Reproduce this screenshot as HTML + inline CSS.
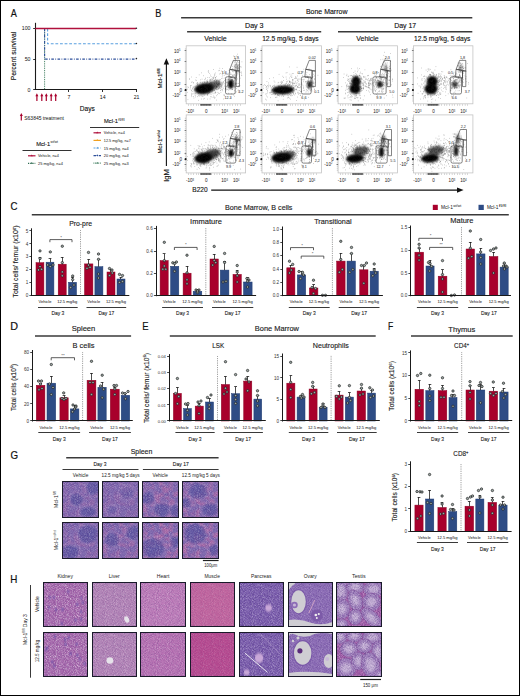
<!DOCTYPE html>
<html><head><meta charset="utf-8"><style>
html,body{margin:0;padding:0;background:#fff;}
svg text{font-family:"Liberation Sans",sans-serif;}
</style></head><body>
<svg width="520" height="696" viewBox="0 0 520 696" style="display:block">
<rect x="0" y="0" width="520" height="696" fill="#fff"/>
<text x="10.8" y="16.5" font-size="11.3" fill="#111" stroke="#111" stroke-width="0.20" textLength="6.1" lengthAdjust="spacingAndGlyphs" >A</text>
<text x="155.2" y="16.8" font-size="11.3" fill="#111" stroke="#111" stroke-width="0.20" textLength="6.1" lengthAdjust="spacingAndGlyphs" >B</text>
<text x="10.5" y="209.7" font-size="11.3" fill="#111" stroke="#111" stroke-width="0.20" textLength="7.0" lengthAdjust="spacingAndGlyphs" >C</text>
<text x="10.2" y="330.1" font-size="11.3" fill="#111" stroke="#111" stroke-width="0.20" textLength="7.8" lengthAdjust="spacingAndGlyphs" >D</text>
<text x="142.3" y="330.3" font-size="11.3" fill="#111" stroke="#111" stroke-width="0.20" textLength="6.3" lengthAdjust="spacingAndGlyphs" >E</text>
<text x="388.0" y="329.9" font-size="11.3" fill="#111" stroke="#111" stroke-width="0.20" textLength="5.2" lengthAdjust="spacingAndGlyphs" >F</text>
<text x="10.6" y="458.8" font-size="11.3" fill="#111" stroke="#111" stroke-width="0.20" textLength="7.6" lengthAdjust="spacingAndGlyphs" >G</text>
<text x="10.2" y="582.9" font-size="11.3" fill="#111" stroke="#111" stroke-width="0.20" textLength="7.1" lengthAdjust="spacingAndGlyphs" >H</text>
<line x1="35.5" y1="22.8" x2="35.5" y2="89.7" stroke="#1a1a1a" stroke-width="1.1" />
<line x1="34.8" y1="89.5" x2="137.0" y2="89.5" stroke="#1a1a1a" stroke-width="1.1" />
<line x1="33.2" y1="28.5" x2="35.3" y2="28.5" stroke="#1a1a1a" stroke-width="0.9" />
<text x="30.5" y="30.4" font-size="5.2" fill="#111" text-anchor="end" >100</text>
<line x1="33.2" y1="59.5" x2="35.3" y2="59.5" stroke="#1a1a1a" stroke-width="0.9" />
<text x="30.5" y="60.9" font-size="5.2" fill="#111" text-anchor="end" >50</text>
<line x1="33.2" y1="89.5" x2="35.3" y2="89.5" stroke="#1a1a1a" stroke-width="0.9" />
<text x="30.5" y="91.5" font-size="5.2" fill="#111" text-anchor="end" >0</text>
<line x1="68.5" y1="89.7" x2="68.5" y2="92.0" stroke="#1a1a1a" stroke-width="0.9" />
<text x="68.9" y="99.3" font-size="5.2" fill="#111" text-anchor="middle" >7</text>
<line x1="102.5" y1="89.7" x2="102.5" y2="92.0" stroke="#1a1a1a" stroke-width="0.9" />
<text x="102.7" y="99.3" font-size="5.2" fill="#111" text-anchor="middle" >14</text>
<line x1="136.5" y1="89.7" x2="136.5" y2="92.0" stroke="#1a1a1a" stroke-width="0.9" />
<text x="136.6" y="99.3" font-size="5.2" fill="#111" text-anchor="middle" >21</text>
<text x="87.3" y="110.8" font-size="7.4" fill="#111" stroke="#111" stroke-width="0.13" text-anchor="middle" textLength="15" lengthAdjust="spacingAndGlyphs" >Days</text>
<text x="16.3" y="56.0" font-size="7.3" fill="#111" stroke="#111" stroke-width="0.13" text-anchor="middle" textLength="48.5" lengthAdjust="spacingAndGlyphs" transform="rotate(-90 16.3 56.0)" >Percent survival</text>
<path d="M44.6 28.6V89.7" stroke="#3a7a5a" stroke-width="1" stroke-dasharray="0.9 0.9" fill="none"/>
<path d="M44.6 28.6V59.1H136" stroke="#2d4f9a" stroke-width="1.1" stroke-dasharray="2.6 1.4 0.8 1.4" fill="none"/>
<path d="M47.6 28.6V43.8H136" stroke="#5aa0e0" stroke-width="1.1" stroke-dasharray="2.8 1.8" fill="none"/>
<line x1="35.3" y1="28.5" x2="136.0" y2="28.5" stroke="#b0103c" stroke-width="1.4" />
<circle cx="136.4" cy="28.2" r="0.8" fill="#222"/>
<circle cx="136.4" cy="43.5" r="0.8" fill="#222"/>
<circle cx="136.4" cy="58.6" r="0.8" fill="#222"/>
<path d="M36.9 95.8V100.9" stroke="#a8002c" stroke-width="1.2"/>
<path d="M35.4 96.2L36.9 93.2L38.4 96.2Z" fill="#a8002c"/>
<path d="M41.8 95.8V100.9" stroke="#a8002c" stroke-width="1.2"/>
<path d="M40.3 96.2L41.8 93.2L43.3 96.2Z" fill="#a8002c"/>
<path d="M46.3 95.8V100.9" stroke="#a8002c" stroke-width="1.2"/>
<path d="M44.8 96.2L46.3 93.2L47.8 96.2Z" fill="#a8002c"/>
<path d="M51.2 95.8V100.9" stroke="#a8002c" stroke-width="1.2"/>
<path d="M49.7 96.2L51.2 93.2L52.7 96.2Z" fill="#a8002c"/>
<path d="M55.7 95.8V100.9" stroke="#a8002c" stroke-width="1.2"/>
<path d="M54.2 96.2L55.7 93.2L57.2 96.2Z" fill="#a8002c"/>
<path d="M21.3 115.6V120.5" stroke="#a8002c" stroke-width="1.2"/>
<path d="M19.8 116.0L21.3 113.0L22.8 116.0Z" fill="#a8002c"/>
<text x="24.3" y="120.2" font-size="5.0" fill="#111" textLength="39.5" lengthAdjust="spacingAndGlyphs" >S63845 treatment</text>
<text x="36.2" y="146.0" font-size="5.6" fill="#111" stroke="#111" stroke-width="0.10" textLength="14.0" lengthAdjust="spacingAndGlyphs" >Mcl-1</text>
<text x="50.5" y="143.4" font-size="3.2" fill="#111" textLength="7.5" lengthAdjust="spacingAndGlyphs" >wt/wt</text>
<line x1="22.5" y1="150.5" x2="71.5" y2="150.5" stroke="#333" stroke-width="1.1" />
<path d="M28 155.8H35.5" stroke="#b0103c" stroke-width="1.2"/>
<path d="M30.65 156.20000000000002L31.75 154.5L32.85 156.20000000000002Z" fill="#b0103c"/>
<text x="38.0" y="157.4" font-size="4.2" fill="#111" textLength="21" lengthAdjust="spacingAndGlyphs" >Vehicle, n=4</text>
<path d="M28 163.3H35.5" stroke="#2e6b50" stroke-width="1.2" stroke-dasharray="1 0.8"/>
<path d="M30.65 163.70000000000002L31.75 162.0L32.85 163.70000000000002Z" fill="#2e6b50"/>
<text x="38.0" y="164.9" font-size="4.2" fill="#111" textLength="25" lengthAdjust="spacingAndGlyphs" >25 mg/kg, n=4</text>
<text x="104.0" y="123.2" font-size="5.6" fill="#111" stroke="#111" stroke-width="0.10" textLength="14" lengthAdjust="spacingAndGlyphs" >Mcl-1</text>
<text x="118.3" y="120.6" font-size="3.2" fill="#111" textLength="6.2" lengthAdjust="spacingAndGlyphs" >fl/fl</text>
<line x1="90.0" y1="127.5" x2="139.2" y2="127.5" stroke="#333" stroke-width="1.1" />
<path d="M93.5 132.8H101.0" stroke="#b0103c" stroke-width="1.2"/>
<path d="M96.15 133.20000000000002L97.25 131.5L98.35 133.20000000000002Z" fill="#b0103c"/>
<text x="103.8" y="134.4" font-size="4.2" fill="#111" textLength="21" lengthAdjust="spacingAndGlyphs" >Vehicle, n=4</text>
<path d="M93.5 140.4H101.0" stroke="#f0a020" stroke-width="1.2"/>
<path d="M96.15 140.8L97.25 139.1L98.35 140.8Z" fill="#f0a020"/>
<text x="103.8" y="142.0" font-size="4.2" fill="#111" textLength="27" lengthAdjust="spacingAndGlyphs" >12.5 mg/kg, n=7</text>
<path d="M93.5 148.0H101.0" stroke="#5aa0e0" stroke-width="1.2" stroke-dasharray="2 1.5"/>
<path d="M96.15 148.4L97.25 146.7L98.35 148.4Z" fill="#5aa0e0"/>
<text x="103.8" y="149.6" font-size="4.2" fill="#111" textLength="25" lengthAdjust="spacingAndGlyphs" >15 mg/kg, n=4</text>
<path d="M93.5 155.60000000000002H101.0" stroke="#2d4f9a" stroke-width="1.2" stroke-dasharray="2.5 1 0.8 1"/>
<path d="M96.15 156.00000000000003L97.25 154.3L98.35 156.00000000000003Z" fill="#2d4f9a"/>
<text x="103.8" y="157.2" font-size="4.2" fill="#111" textLength="25" lengthAdjust="spacingAndGlyphs" >20 mg/kg, n=4</text>
<path d="M93.5 163.20000000000002H101.0" stroke="#3a7a5a" stroke-width="1.2" stroke-dasharray="0.8 0.8"/>
<path d="M96.15 163.60000000000002L97.25 161.9L98.35 163.60000000000002Z" fill="#3a7a5a"/>
<text x="103.8" y="164.8" font-size="4.2" fill="#111" textLength="25" lengthAdjust="spacingAndGlyphs" >25 mg/kg, n=3</text>
<text x="326.7" y="13.6" font-size="7.5" fill="#111" stroke="#111" stroke-width="0.13" text-anchor="middle" textLength="41.5" lengthAdjust="spacingAndGlyphs" >Bone Marrow</text>
<line x1="181.1" y1="17.8" x2="472.3" y2="17.8" stroke="#3a3a3a" stroke-width="1.6" />
<text x="254.3" y="27.6" font-size="7.5" fill="#111" stroke="#111" stroke-width="0.13" text-anchor="middle" textLength="18.5" lengthAdjust="spacingAndGlyphs" >Day 3</text>
<text x="405.2" y="27.6" font-size="7.5" fill="#111" stroke="#111" stroke-width="0.13" text-anchor="middle" textLength="22" lengthAdjust="spacingAndGlyphs" >Day 17</text>
<line x1="187.1" y1="31.7" x2="321.2" y2="31.7" stroke="#3a3a3a" stroke-width="1.6" />
<line x1="338.0" y1="31.7" x2="472.3" y2="31.7" stroke="#3a3a3a" stroke-width="1.6" />
<text x="215.4" y="41.4" font-size="7.2" fill="#111" stroke="#111" stroke-width="0.13" text-anchor="middle" textLength="22.5" lengthAdjust="spacingAndGlyphs" >Vehicle</text>
<text x="290.4" y="41.4" font-size="7.2" fill="#111" stroke="#111" stroke-width="0.13" text-anchor="middle" textLength="56.5" lengthAdjust="spacingAndGlyphs" >12.5 mg/kg, 5 days</text>
<text x="367.5" y="41.4" font-size="7.2" fill="#111" stroke="#111" stroke-width="0.13" text-anchor="middle" textLength="22.5" lengthAdjust="spacingAndGlyphs" >Vehicle</text>
<text x="442.2" y="41.4" font-size="7.2" fill="#111" stroke="#111" stroke-width="0.13" text-anchor="middle" textLength="56.5" lengthAdjust="spacingAndGlyphs" >12.5 mg/kg, 5 days</text>
<defs><filter id="bl" color-interpolation-filters="sRGB" x="-50%" y="-50%" width="200%" height="200%"><feGaussianBlur stdDeviation="1.2"/></filter><filter id="bl2" color-interpolation-filters="sRGB" x="-50%" y="-50%" width="200%" height="200%"><feGaussianBlur stdDeviation="0.6"/></filter></defs>
<rect x="186.2" y="45.8" width="59.4" height="58.0" fill="none" stroke="#c4c4c4" stroke-width="0.8"/>
<text x="180.5" y="52.5" font-size="4.6" fill="#222" text-anchor="end" >10<tspan font-size="2.6" dy="-1.6">5</tspan></text>
<line x1="184.6" y1="50.5" x2="186.2" y2="50.5" stroke="#333" stroke-width="0.6" />
<text x="180.5" y="63.0" font-size="4.6" fill="#222" text-anchor="end" >10<tspan font-size="2.6" dy="-1.6">4</tspan></text>
<line x1="184.6" y1="61.5" x2="186.2" y2="61.5" stroke="#333" stroke-width="0.6" />
<text x="180.5" y="74.3" font-size="4.6" fill="#222" text-anchor="end" >10<tspan font-size="2.6" dy="-1.6">3</tspan></text>
<line x1="184.6" y1="72.5" x2="186.2" y2="72.5" stroke="#333" stroke-width="0.6" />
<text x="180.5" y="86.1" font-size="4.6" fill="#222" text-anchor="end" >10<tspan font-size="2.6" dy="-1.6">2</tspan></text>
<line x1="184.6" y1="84.5" x2="186.2" y2="84.5" stroke="#333" stroke-width="0.6" />
<text x="182.0" y="91.5" font-size="4.6" fill="#222" text-anchor="end" >0</text>
<line x1="184.6" y1="90.5" x2="186.2" y2="90.5" stroke="#333" stroke-width="0.6" />
<text x="180.5" y="96.9" font-size="4.6" fill="#222" text-anchor="end" >-10<tspan font-size="2.6" dy="-1.6">2</tspan></text>
<line x1="184.6" y1="95.5" x2="186.2" y2="95.5" stroke="#333" stroke-width="0.6" />
<rect x="184.8" y="89.0" width="1.6" height="2.0" fill="#111" />
<path d="M185.4 48.8V101.8" stroke="#555" stroke-width="0.8" stroke-dasharray="0.4 1.6"/>
<path d="M188.2 105.0H242.2" stroke="#555" stroke-width="1" stroke-dasharray="0.4 2.2"/>
<rect x="200.2" y="104.3" width="11.0" height="1.2" fill="#222" />
<text x="190.0" y="113.1" font-size="4.6" fill="#222" text-anchor="middle" >-10<tspan font-size="2.6" dy="-1.6">3</tspan></text>
<text x="206.2" y="113.1" font-size="4.6" fill="#222" text-anchor="middle" >0</text>
<text x="224.6" y="113.1" font-size="4.6" fill="#222" text-anchor="middle" >10<tspan font-size="2.6" dy="-1.6">3</tspan></text>
<text x="236.2" y="113.1" font-size="4.6" fill="#222" text-anchor="middle" >10<tspan font-size="2.6" dy="-1.6">4</tspan></text>
<ellipse cx="204.0" cy="88.6" rx="9.5" ry="5.4" transform="rotate(-8 204.0 88.6)" fill="#000" filter="url(#bl)" opacity="1"/>
<ellipse cx="213.5" cy="85.3" rx="8.0" ry="4.3" transform="rotate(-15 213.5 85.3)" fill="#000" filter="url(#bl)" opacity="0.6"/>
<ellipse cx="230.8" cy="84.0" rx="2.8" ry="4.6" transform="rotate(0 230.8 84.0)" fill="#000" filter="url(#bl)" opacity="1"/>
<ellipse cx="236.5" cy="67.0" rx="1.8" ry="3.5" transform="rotate(0 236.5 67.0)" fill="#000" filter="url(#bl)" opacity="0.35"/>
<path d="M205.3 90.1h.5M204.9 86.4h.5M199.0 87.9h.5M216.6 87.7h.5M215.9 87.1h.5M210.4 87.7h.5M193.7 93.7h.5M211.6 89.0h.5M191.5 82.3h.5M199.2 86.7h.5M209.5 86.8h.5M210.9 83.9h.5M209.9 88.8h.5M202.8 96.1h.5M212.6 92.0h.5M201.2 85.1h.5M204.0 87.5h.5M212.5 87.7h.5M202.5 83.9h.5M203.6 93.7h.5M200.4 89.8h.5M209.4 80.3h.5M208.4 93.2h.5M189.9 89.0h.5M205.5 84.0h.5M211.1 86.5h.5M195.4 93.3h.5M213.3 90.7h.5M219.3 87.0h.5M207.0 81.6h.5M211.7 83.9h.5M202.2 82.6h.5M198.5 86.6h.5M216.2 76.6h.5M195.0 90.7h.5M219.5 87.9h.5M189.1 79.1h.5M209.4 83.7h.5M198.4 93.5h.5M216.3 86.6h.5M209.4 89.1h.5M220.8 87.9h.5M211.8 89.2h.5M194.9 95.5h.5M215.4 88.4h.5M190.0 87.6h.5M212.6 78.2h.5M206.3 92.3h.5M197.3 96.6h.5M211.5 86.0h.5M210.2 89.9h.5M208.9 92.4h.5M201.1 86.6h.5M215.7 86.1h.5M200.4 93.0h.5M218.9 83.4h.5M195.3 88.9h.5M205.5 86.4h.5M218.0 80.9h.5M216.6 80.0h.5M200.9 91.5h.5M217.1 89.6h.5M210.0 87.6h.5M208.7 89.8h.5M205.7 89.0h.5M211.8 86.7h.5M213.8 88.9h.5M224.1 86.0h.5M203.1 86.5h.5M207.6 91.6h.5M204.5 89.7h.5M220.4 73.4h.5M197.8 90.2h.5M210.5 88.0h.5M203.9 91.0h.5M209.0 84.8h.5M227.6 85.5h.5M202.3 87.9h.5M205.1 87.6h.5M214.5 80.8h.5M207.2 91.8h.5M215.3 92.8h.5M192.5 88.4h.5M204.6 90.8h.5M214.0 74.0h.5M215.0 79.5h.5M211.6 79.9h.5M209.4 92.5h.5M205.9 88.6h.5M213.8 86.9h.5M207.5 94.4h.5M215.5 84.7h.5M229.1 78.4h.5M214.4 85.0h.5M208.7 90.4h.5M209.4 90.0h.5M193.0 83.1h.5M211.4 82.3h.5M197.3 82.5h.5M218.2 88.9h.5M218.6 81.2h.5M206.1 82.4h.5M214.7 93.4h.5M200.8 95.7h.5M215.1 85.3h.5M191.6 96.6h.5M205.7 85.0h.5M210.7 88.7h.5M218.7 80.8h.5M217.7 92.4h.5M219.0 84.6h.5M201.6 93.1h.5M208.1 87.9h.5M218.7 84.2h.5M187.5 89.2h.5M192.1 93.9h.5M209.2 84.3h.5M207.6 91.2h.5M208.7 93.3h.5M207.3 92.2h.5M220.7 92.4h.5M202.1 92.4h.5M190.4 85.5h.5M191.4 95.1h.5M196.7 89.3h.5M205.4 87.7h.5M202.2 89.4h.5M222.0 85.1h.5M212.2 91.2h.5M204.4 82.2h.5M203.2 93.1h.5M192.8 87.3h.5M216.1 89.5h.5M207.7 91.1h.5M207.5 82.0h.5M193.4 87.0h.5M214.3 83.6h.5M198.8 85.4h.5M194.1 89.2h.5M197.4 90.9h.5M187.5 92.4h.5M200.1 79.8h.5M212.9 85.2h.5M187.6 86.9h.5M209.1 85.0h.5M214.1 89.7h.5M212.8 88.0h.5M218.7 88.5h.5M209.1 77.6h.5M215.5 92.0h.5M204.1 85.9h.5M221.9 76.8h.5M212.8 97.5h.5M199.8 91.9h.5M222.7 84.2h.5M212.4 90.7h.5M199.3 88.4h.5M210.1 90.7h.5M206.6 86.7h.5M198.2 87.4h.5M214.5 86.6h.5M199.2 85.0h.5M230.2 88.6h.5M210.3 75.1h.5M212.6 88.7h.5M221.4 86.9h.5M206.8 89.9h.5M191.5 94.9h.5M209.2 83.9h.5M219.5 93.6h.5M194.7 86.6h.5M209.6 87.9h.5M202.9 83.8h.5M225.6 89.0h.5M196.0 83.3h.5M222.0 89.4h.5M222.9 88.4h.5M199.9 89.9h.5M188.3 87.4h.5M206.9 89.9h.5M200.8 88.0h.5M211.1 88.5h.5M212.5 87.5h.5M204.9 91.5h.5M206.8 83.8h.5M201.8 88.4h.5M206.2 88.4h.5M207.1 88.3h.5M204.9 82.1h.5M211.4 91.5h.5M210.5 86.0h.5M210.0 82.6h.5M191.2 90.6h.5M199.8 92.2h.5M195.9 77.5h.5M199.5 96.0h.5M202.7 82.0h.5M201.0 90.9h.5M211.3 87.5h.5M220.0 88.4h.5M207.3 90.2h.5M221.6 89.4h.5M214.7 81.2h.5M206.3 91.0h.5M205.4 92.7h.5M212.7 90.6h.5M207.2 99.1h.5M217.2 84.7h.5M209.8 98.9h.5M204.8 91.9h.5M215.2 86.1h.5M197.4 90.1h.5M210.9 92.0h.5M213.6 86.5h.5M214.6 88.6h.5M208.8 87.4h.5M205.5 90.9h.5M197.7 86.3h.5M205.9 81.0h.5M201.8 79.2h.5M201.7 91.0h.5M211.7 86.4h.5M203.9 81.6h.5M222.7 87.1h.5M215.5 82.0h.5M204.0 79.7h.5M214.3 90.5h.5M191.1 90.1h.5M210.9 78.8h.5M190.9 85.5h.5M200.6 82.2h.5M207.5 88.6h.5M212.9 89.7h.5M220.5 90.4h.5M195.6 87.2h.5M197.3 84.3h.5M206.3 87.6h.5M209.9 79.7h.5M196.6 89.2h.5M205.1 86.4h.5M205.9 84.2h.5M213.1 88.0h.5M205.7 84.7h.5M203.4 75.7h.5M198.8 89.1h.5M194.6 90.6h.5M207.2 81.2h.5M204.7 86.5h.5M211.3 89.5h.5M206.0 83.8h.5M205.7 87.4h.5M213.4 87.7h.5M199.9 82.6h.5M203.3 84.8h.5M197.6 88.6h.5M203.0 88.7h.5M211.1 84.9h.5M226.2 82.6h.5M216.3 86.4h.5M214.5 75.3h.5M200.9 89.7h.5M213.9 97.0h.5M210.7 92.7h.5M214.2 90.6h.5M211.1 86.1h.5M210.4 82.0h.5M216.1 81.2h.5M210.7 96.5h.5M205.1 87.9h.5M216.8 85.9h.5M200.4 89.8h.5M212.4 89.8h.5M201.9 96.4h.5M221.0 85.1h.5M208.9 85.2h.5M218.3 82.3h.5M212.3 84.4h.5M201.8 91.7h.5M218.2 85.5h.5M202.0 92.1h.5M206.8 88.9h.5M220.6 90.3h.5M204.4 98.4h.5M207.6 91.0h.5M201.5 88.3h.5M193.7 98.0h.5M217.5 80.1h.5M193.1 82.5h.5M216.5 83.7h.5M206.2 86.2h.5M205.1 82.9h.5M206.1 81.1h.5M206.6 89.0h.5M210.7 85.8h.5M199.6 89.5h.5M204.2 95.2h.5M213.3 85.9h.5M202.5 85.1h.5M198.9 87.3h.5M209.9 89.3h.5M213.4 96.0h.5M201.1 88.6h.5M228.9 75.1h.5M202.8 89.0h.5M208.6 89.1h.5M205.3 89.5h.5M208.0 90.8h.5M190.5 86.4h.5M206.2 82.9h.5M198.7 91.8h.5M202.1 91.3h.5M213.5 87.8h.5M211.2 86.3h.5M195.2 89.4h.5M210.4 84.5h.5M206.8 91.0h.5M200.1 91.6h.5M222.2 82.3h.5M208.1 86.6h.5M220.1 86.6h.5M214.0 83.1h.5M206.9 87.5h.5M193.3 96.5h.5M213.2 78.4h.5M213.1 85.8h.5M211.0 88.5h.5M194.3 88.8h.5M219.0 82.7h.5M197.4 83.0h.5M197.0 90.8h.5M221.5 86.9h.5M210.8 97.0h.5M202.1 85.3h.5M211.9 89.2h.5M197.6 83.8h.5M209.6 88.2h.5M195.9 88.5h.5M202.8 90.3h.5M206.0 87.3h.5M204.9 92.7h.5M218.4 83.8h.5M213.5 82.9h.5M208.2 90.7h.5M219.4 83.6h.5M206.5 88.5h.5M194.5 89.8h.5M201.6 90.1h.5M196.0 80.4h.5M207.5 88.6h.5M203.1 92.2h.5M204.2 85.2h.5M209.8 79.8h.5M201.3 88.4h.5M214.0 85.5h.5M209.1 84.1h.5M210.8 94.4h.5M203.1 99.0h.5M201.6 88.5h.5M209.3 91.8h.5M195.0 80.0h.5M212.7 90.1h.5M214.3 98.2h.5M208.9 88.3h.5M215.1 87.8h.5M220.0 79.6h.5M201.2 72.8h.5M213.5 84.7h.5M216.4 95.7h.5M206.8 86.4h.5M202.2 84.5h.5M202.2 91.3h.5M207.4 87.7h.5M206.3 91.8h.5M211.0 86.1h.5M212.4 85.8h.5M198.5 95.7h.5M210.1 82.6h.5M216.3 87.4h.5M195.2 96.9h.5M210.5 91.0h.5M208.5 86.5h.5M194.8 94.1h.5M207.0 86.2h.5M210.0 87.3h.5M212.4 84.9h.5M205.0 78.1h.5M204.0 91.1h.5M217.9 83.9h.5M207.2 94.7h.5M204.8 91.2h.5M221.1 85.2h.5M216.7 82.5h.5M208.7 86.9h.5M208.8 92.3h.5M226.5 81.0h.5M202.6 90.6h.5M198.6 91.3h.5M211.6 85.4h.5M210.2 79.8h.5M212.2 79.5h.5M200.7 86.1h.5M204.3 91.9h.5M207.4 85.6h.5M212.8 93.7h.5M207.3 89.1h.5M217.6 86.9h.5M198.2 100.4h.5M223.9 75.4h.5M207.0 89.4h.5M215.6 89.0h.5M203.9 83.2h.5M208.7 91.9h.5M197.1 84.6h.5M205.3 79.0h.5M204.5 85.9h.5M210.2 83.7h.5M199.3 87.1h.5M206.1 84.6h.5M207.7 90.8h.5M218.3 93.3h.5M200.1 86.8h.5M187.7 99.6h.5M200.9 88.4h.5M210.3 80.7h.5M210.9 86.7h.5M191.9 91.5h.5M215.5 77.5h.5M213.9 87.2h.5M211.3 88.8h.5M217.7 84.6h.5M214.0 84.4h.5M212.5 82.8h.5M207.4 95.3h.5M210.6 86.1h.5M196.8 85.7h.5M209.4 91.4h.5M211.0 89.2h.5M207.7 93.6h.5M203.3 85.6h.5M214.5 86.5h.5M204.2 85.4h.5M205.3 90.6h.5M209.0 81.6h.5M210.7 87.7h.5M199.2 92.4h.5M204.4 86.4h.5M214.7 92.2h.5M201.6 90.5h.5M201.5 99.0h.5M229.3 89.0h.5M228.7 87.1h.5M238.8 70.3h.5M229.5 85.5h.5M230.7 79.7h.5M238.5 83.4h.5M225.2 87.3h.5M225.0 88.8h.5M229.0 83.7h.5M235.4 83.6h.5M226.1 74.5h.5M235.1 86.7h.5M228.1 87.3h.5M232.7 86.2h.5M223.1 81.5h.5M234.2 86.7h.5M234.1 70.7h.5M231.6 85.5h.5M239.9 78.2h.5M229.8 83.2h.5M234.1 80.8h.5M235.0 79.1h.5M231.9 80.4h.5M231.6 79.5h.5M225.4 88.5h.5M232.1 80.2h.5M231.7 88.0h.5M227.6 82.4h.5M232.9 85.6h.5M229.8 72.5h.5M235.4 84.6h.5M231.0 81.6h.5M231.9 80.9h.5M227.4 79.3h.5M228.9 79.9h.5M226.9 86.2h.5M226.4 86.3h.5M227.4 84.8h.5M235.8 84.0h.5M228.4 83.2h.5M231.5 74.3h.5M228.9 83.8h.5M229.4 83.4h.5M233.6 86.8h.5M234.2 85.9h.5M230.0 82.9h.5M230.1 81.4h.5M230.4 74.4h.5M229.8 82.9h.5M227.6 82.9h.5M232.8 82.2h.5M238.3 70.0h.5M230.3 73.9h.5M234.4 96.3h.5M222.2 83.6h.5M232.8 81.5h.5M232.9 71.8h.5M234.0 84.9h.5M231.1 80.1h.5M233.2 80.6h.5M231.8 80.4h.5M223.1 82.8h.5M231.7 86.8h.5M227.9 82.8h.5M233.2 83.7h.5M235.3 93.0h.5M227.8 73.4h.5M234.0 90.6h.5M234.2 87.1h.5M228.8 79.4h.5M234.1 78.4h.5M224.7 78.0h.5M239.7 92.6h.5M228.6 79.4h.5M231.8 79.3h.5M235.6 82.6h.5M227.2 89.5h.5M229.0 84.1h.5M231.0 81.4h.5M232.1 79.5h.5M224.5 72.0h.5M226.6 79.2h.5M230.9 83.3h.5M232.9 83.6h.5M228.2 79.5h.5M223.6 82.2h.5M232.7 85.6h.5M230.6 82.1h.5M234.3 83.1h.5M233.6 85.9h.5M231.7 89.5h.5M229.0 81.2h.5M228.2 79.0h.5M236.4 91.8h.5M231.1 85.8h.5M235.1 87.0h.5M235.2 76.7h.5M228.8 85.3h.5M236.0 83.5h.5M228.0 81.2h.5M228.7 78.7h.5M236.3 79.9h.5M231.1 93.8h.5M235.1 84.7h.5M228.9 85.1h.5M236.7 86.1h.5M235.4 83.5h.5M232.8 82.0h.5M232.5 89.5h.5M226.0 82.7h.5M231.8 80.1h.5M229.9 86.9h.5M238.0 86.1h.5M232.1 75.2h.5M237.7 83.4h.5M230.9 77.4h.5M230.8 77.5h.5M231.2 85.3h.5M231.1 84.4h.5M228.0 90.1h.5M234.9 58.9h.5M236.0 64.2h.5M234.0 66.2h.5M237.2 62.1h.5M236.2 75.1h.5M238.2 67.2h.5M236.8 67.4h.5M236.4 71.7h.5M236.3 56.0h.5M236.4 63.6h.5M238.1 64.9h.5M236.9 78.9h.5M233.9 62.4h.5M233.0 56.0h.5M231.8 69.8h.5M234.9 58.7h.5M232.8 71.1h.5M234.6 66.2h.5M237.3 74.8h.5M241.4 73.2h.5M236.9 68.9h.5M241.0 75.1h.5M235.7 70.3h.5M237.2 68.3h.5M235.2 61.4h.5M235.2 60.3h.5M239.6 70.7h.5M233.5 75.0h.5M238.7 58.5h.5M241.1 72.0h.5M241.7 61.8h.5M237.8 70.1h.5M237.0 68.9h.5M239.1 60.5h.5M233.4 61.0h.5M235.1 65.0h.5M237.4 69.3h.5M236.6 64.6h.5M235.4 72.8h.5M238.4 68.5h.5M235.7 75.8h.5M235.0 71.2h.5M239.4 66.7h.5M238.6 62.4h.5M239.0 69.0h.5M232.5 71.3h.5M234.3 74.4h.5M234.8 67.2h.5M237.2 66.3h.5M237.1 65.2h.5M238.2 68.0h.5M237.0 54.2h.5M239.4 68.2h.5M232.0 68.5h.5M237.7 73.4h.5M233.8 75.7h.5M236.1 80.0h.5M236.1 71.4h.5M235.6 62.4h.5M239.2 72.5h.5M240.3 72.3h.5M235.1 59.7h.5M234.9 64.6h.5M234.5 70.9h.5M237.3 66.7h.5M236.9 67.3h.5M237.0 71.8h.5M238.9 64.6h.5M232.7 75.1h.5M236.8 73.5h.5M232.4 66.4h.5M236.6 60.8h.5M235.2 71.6h.5M239.2 76.0h.5M234.3 61.0h.5M237.8 72.7h.5M237.0 61.5h.5M238.5 72.0h.5M237.9 65.6h.5M237.3 72.0h.5M235.1 58.8h.5M237.3 70.4h.5M236.5 72.4h.5M235.0 67.6h.5M235.7 70.9h.5M240.5 66.7h.5M241.6 75.6h.5M238.5 70.9h.5M240.9 67.1h.5M236.2 62.7h.5M226.3 86.3h.5M224.9 80.9h.5M218.8 81.5h.5M211.4 89.8h.5M214.7 74.9h.5M212.7 77.4h.5M228.6 83.6h.5M211.7 88.9h.5M225.5 74.3h.5M207.3 79.9h.5M215.9 83.7h.5M213.1 69.5h.5M218.6 70.7h.5M224.3 70.7h.5M213.0 77.1h.5M218.6 88.8h.5M227.6 81.1h.5M219.2 70.4h.5M215.0 78.3h.5M213.7 85.5h.5M213.0 78.0h.5M207.9 71.3h.5M227.2 85.9h.5M219.3 74.0h.5M200.0 88.4h.5M229.8 78.3h.5M230.0 85.8h.5M227.6 74.4h.5M229.5 81.5h.5M207.6 81.9h.5M209.1 83.3h.5M222.2 72.4h.5M207.2 92.9h.5M225.9 87.3h.5M212.2 89.6h.5M239.7 85.6h.5M219.0 82.1h.5M220.9 86.1h.5M228.0 77.7h.5M211.3 87.9h.5M217.8 84.8h.5M225.3 88.4h.5M227.6 74.3h.5M226.2 89.0h.5M216.9 83.9h.5M231.5 83.8h.5M221.2 71.1h.5M211.0 84.8h.5M228.1 93.3h.5M215.9 88.8h.5M222.4 68.5h.5M214.2 83.2h.5M216.0 80.5h.5M221.9 74.1h.5M222.2 75.1h.5M217.0 84.5h.5M216.3 83.2h.5M232.1 75.8h.5M220.4 84.5h.5M219.5 87.1h.5M211.6 87.0h.5M214.5 76.9h.5M231.6 70.4h.5M234.6 78.9h.5M228.9 70.5h.5M232.0 84.9h.5M218.9 79.6h.5M238.8 74.3h.5M215.5 77.6h.5M224.0 80.6h.5M224.9 89.2h.5M218.5 83.6h.5M228.9 70.3h.5M231.6 87.5h.5M207.6 77.5h.5M208.4 72.4h.5M219.6 68.3h.5M226.7 86.8h.5M207.2 82.6h.5M207.2 89.6h.5M213.9 80.5h.5M221.5 82.9h.5M217.4 81.0h.5M216.1 82.1h.5M211.3 83.6h.5M204.5 82.5h.5M234.6 75.2h.5M211.1 84.9h.5M209.3 73.4h.5M216.0 86.2h.5M222.7 78.4h.5M210.8 76.5h.5M230.6 77.7h.5M208.5 70.7h.5M214.8 97.7h.5M211.2 82.7h.5M221.3 78.5h.5M215.1 73.0h.5M215.6 92.4h.5M216.0 86.8h.5M217.3 94.6h.5M200.5 85.6h.5M211.8 88.8h.5M233.3 81.7h.5M233.4 84.7h.5M216.1 81.1h.5M216.2 100.1h.5M224.2 95.2h.5M206.9 82.4h.5M205.2 89.6h.5M223.1 95.0h.5M191.3 93.3h.5M236.5 88.5h.5M191.9 81.9h.5M189.5 78.9h.5M238.4 90.2h.5M224.3 95.1h.5M237.8 90.3h.5M222.1 90.7h.5M226.4 89.9h.5M225.6 79.5h.5M224.8 86.2h.5M229.9 76.5h.5M198.9 74.8h.5M230.6 98.5h.5M224.2 83.8h.5M233.1 95.0h.5M219.2 80.8h.5M205.3 85.2h.5M206.2 85.4h.5M223.5 99.0h.5M192.1 89.1h.5M191.3 77.0h.5M232.5 89.3h.5M238.3 85.9h.5" stroke="#222" stroke-width=".5" opacity=".8"/>
<path d="M229.8 69.3L233.3 60.4H239.5V71.0L236.2 70.4ZM229.8 69.3L236.2 70.4V78.2L228.9 77.0ZM236.2 71.0H239.5V86.6H236.2Z" fill="none" stroke="#333" stroke-width="0.6"/>
<rect x="225.5" y="76.8" width="9.7" height="17.2" rx="1.6" fill="none" stroke="#333" stroke-width="0.6"/>
<text x="236.3" y="59.0" font-size="3.7" fill="#222" text-anchor="middle" >1.9</text>
<text x="224.2" y="74.4" font-size="3.7" fill="#222" text-anchor="middle" >1.6</text>
<text x="240.9" y="92.5" font-size="3.7" fill="#222" text-anchor="middle" >4.2</text>
<text x="228.0" y="98.7" font-size="3.7" fill="#222" text-anchor="middle" >12.3</text>
<rect x="262.0" y="45.8" width="59.4" height="58.0" fill="none" stroke="#c4c4c4" stroke-width="0.8"/>
<text x="256.3" y="52.5" font-size="4.6" fill="#222" text-anchor="end" >10<tspan font-size="2.6" dy="-1.6">5</tspan></text>
<line x1="260.4" y1="50.5" x2="262.0" y2="50.5" stroke="#333" stroke-width="0.6" />
<text x="256.3" y="63.0" font-size="4.6" fill="#222" text-anchor="end" >10<tspan font-size="2.6" dy="-1.6">4</tspan></text>
<line x1="260.4" y1="61.5" x2="262.0" y2="61.5" stroke="#333" stroke-width="0.6" />
<text x="256.3" y="74.3" font-size="4.6" fill="#222" text-anchor="end" >10<tspan font-size="2.6" dy="-1.6">3</tspan></text>
<line x1="260.4" y1="72.5" x2="262.0" y2="72.5" stroke="#333" stroke-width="0.6" />
<text x="256.3" y="86.1" font-size="4.6" fill="#222" text-anchor="end" >10<tspan font-size="2.6" dy="-1.6">2</tspan></text>
<line x1="260.4" y1="84.5" x2="262.0" y2="84.5" stroke="#333" stroke-width="0.6" />
<text x="257.8" y="91.5" font-size="4.6" fill="#222" text-anchor="end" >0</text>
<line x1="260.4" y1="90.5" x2="262.0" y2="90.5" stroke="#333" stroke-width="0.6" />
<text x="256.3" y="96.9" font-size="4.6" fill="#222" text-anchor="end" >-10<tspan font-size="2.6" dy="-1.6">2</tspan></text>
<line x1="260.4" y1="95.5" x2="262.0" y2="95.5" stroke="#333" stroke-width="0.6" />
<rect x="260.6" y="89.0" width="1.6" height="2.0" fill="#111" />
<path d="M261.2 48.8V101.8" stroke="#555" stroke-width="0.8" stroke-dasharray="0.4 1.6"/>
<path d="M264.0 105.0H318.0" stroke="#555" stroke-width="1" stroke-dasharray="0.4 2.2"/>
<rect x="276.0" y="104.3" width="11.0" height="1.2" fill="#222" />
<text x="265.8" y="113.1" font-size="4.6" fill="#222" text-anchor="middle" >-10<tspan font-size="2.6" dy="-1.6">3</tspan></text>
<text x="282.0" y="113.1" font-size="4.6" fill="#222" text-anchor="middle" >0</text>
<text x="300.4" y="113.1" font-size="4.6" fill="#222" text-anchor="middle" >10<tspan font-size="2.6" dy="-1.6">3</tspan></text>
<text x="312.0" y="113.1" font-size="4.6" fill="#222" text-anchor="middle" >10<tspan font-size="2.6" dy="-1.6">4</tspan></text>
<ellipse cx="283.0" cy="90.0" rx="11.2" ry="4.2" transform="rotate(-2 283.0 90.0)" fill="#000" filter="url(#bl)" opacity="1"/>
<ellipse cx="309.6" cy="84.5" rx="2.2" ry="3.4" transform="rotate(0 309.6 84.5)" fill="#000" filter="url(#bl)" opacity="0.85"/>
<path d="M291.9 89.4h.5M265.0 85.5h.5M293.1 88.4h.5M279.5 90.6h.5M279.1 87.6h.5M283.9 90.0h.5M296.6 89.0h.5M300.3 95.5h.5M298.6 92.7h.5M284.2 90.0h.5M281.6 86.8h.5M282.3 87.1h.5M297.8 90.8h.5M278.6 82.4h.5M282.4 87.9h.5M273.0 85.7h.5M262.9 92.7h.5M282.9 99.3h.5M282.7 89.0h.5M296.0 89.3h.5M284.4 88.0h.5M277.9 95.5h.5M292.3 95.5h.5M279.9 89.8h.5M275.3 93.6h.5M270.6 92.3h.5M293.1 94.3h.5M274.8 94.1h.5M276.4 87.0h.5M271.3 94.5h.5M297.7 86.5h.5M276.1 88.6h.5M305.7 92.1h.5M277.8 82.9h.5M277.2 94.3h.5M299.7 87.6h.5M276.7 87.9h.5M266.2 93.8h.5M273.5 94.0h.5M267.4 85.5h.5M285.4 86.5h.5M290.0 89.2h.5M272.6 92.4h.5M290.2 81.8h.5M299.5 90.5h.5M289.5 82.1h.5M276.5 88.5h.5M292.4 83.5h.5M274.7 82.2h.5M280.9 90.9h.5M267.7 88.1h.5M287.9 95.3h.5M288.9 88.0h.5M272.2 86.5h.5M277.1 90.4h.5M282.9 95.8h.5M285.4 85.3h.5M297.1 92.4h.5M283.8 86.7h.5M266.0 86.5h.5M291.0 86.0h.5M271.2 90.9h.5M285.3 91.7h.5M289.2 94.5h.5M275.7 93.6h.5M274.3 92.6h.5M284.7 90.3h.5M291.7 89.0h.5M293.2 92.3h.5M284.1 87.3h.5M276.1 87.9h.5M281.2 89.5h.5M309.9 90.5h.5M289.7 85.9h.5M276.6 88.6h.5M284.5 85.5h.5M297.4 86.6h.5M292.2 80.1h.5M283.0 90.6h.5M284.8 91.7h.5M285.5 90.0h.5M265.8 87.7h.5M285.7 88.6h.5M275.5 87.7h.5M299.9 95.2h.5M282.7 94.4h.5M268.3 82.9h.5M278.5 86.4h.5M278.0 90.5h.5M310.1 85.6h.5M283.5 90.5h.5M282.9 93.0h.5M298.7 83.9h.5M284.4 88.4h.5M285.9 83.5h.5M266.7 81.5h.5M287.8 90.0h.5M283.2 80.5h.5M279.5 86.8h.5M270.1 86.7h.5M289.4 91.2h.5M282.9 91.5h.5M277.6 90.1h.5M283.5 91.6h.5M282.3 89.0h.5M281.7 87.1h.5M303.2 90.4h.5M287.3 98.0h.5M295.3 82.9h.5M289.4 92.4h.5M300.2 93.6h.5M289.7 84.7h.5M275.2 90.9h.5M287.3 85.4h.5M279.5 88.2h.5M283.6 90.7h.5M280.2 84.9h.5M294.5 95.0h.5M282.3 93.4h.5M287.1 91.8h.5M287.2 86.4h.5M288.4 93.1h.5M275.3 97.4h.5M302.1 95.4h.5M301.0 91.4h.5M279.8 87.4h.5M275.7 90.3h.5M282.8 92.1h.5M265.3 99.2h.5M303.5 88.3h.5M289.2 91.0h.5M285.4 88.6h.5M281.7 86.4h.5M284.6 89.3h.5M285.7 86.1h.5M283.4 89.7h.5M288.2 85.2h.5M287.0 93.0h.5M288.3 87.8h.5M278.5 88.8h.5M289.9 95.0h.5M281.5 87.1h.5M286.4 90.1h.5M274.7 87.1h.5M282.2 92.1h.5M272.1 86.2h.5M287.2 84.6h.5M284.0 90.8h.5M281.8 85.7h.5M282.4 88.3h.5M285.9 86.2h.5M292.5 82.6h.5M281.4 89.6h.5M291.5 86.7h.5M287.8 87.1h.5M290.0 95.7h.5M279.5 91.4h.5M274.9 93.6h.5M293.9 89.1h.5M272.9 91.6h.5M293.5 93.1h.5M289.9 82.2h.5M277.2 95.2h.5M272.2 94.4h.5M300.1 91.5h.5M293.0 87.7h.5M272.0 89.7h.5M281.2 89.4h.5M289.2 88.6h.5M284.8 91.0h.5M283.3 96.5h.5M287.0 89.6h.5M281.0 87.2h.5M295.1 89.4h.5M273.2 87.9h.5M281.7 87.9h.5M292.5 84.6h.5M287.5 89.8h.5M272.4 90.2h.5M282.3 91.4h.5M279.0 90.9h.5M267.8 86.2h.5M290.3 93.1h.5M282.8 87.2h.5M292.3 81.1h.5M275.9 92.4h.5M288.7 85.3h.5M266.3 95.9h.5M284.2 86.0h.5M283.7 92.9h.5M289.2 81.3h.5M289.6 82.4h.5M293.3 90.5h.5M303.1 86.1h.5M283.3 93.5h.5M277.1 87.1h.5M279.6 89.4h.5M273.4 91.8h.5M287.9 89.5h.5M298.2 87.5h.5M294.6 86.8h.5M289.4 81.8h.5M284.7 88.7h.5M278.4 87.4h.5M279.7 86.9h.5M263.2 88.3h.5M278.0 87.8h.5M273.5 89.5h.5M290.0 88.2h.5M278.8 94.9h.5M292.0 92.5h.5M293.3 87.7h.5M282.1 93.8h.5M278.0 89.3h.5M286.5 90.7h.5M280.7 93.4h.5M281.5 92.3h.5M292.8 91.5h.5M289.4 84.8h.5M271.1 87.8h.5M287.6 95.0h.5M272.1 91.2h.5M275.2 87.1h.5M280.7 92.3h.5M285.1 93.9h.5M274.3 93.3h.5M291.4 89.3h.5M287.2 87.1h.5M273.1 88.5h.5M277.8 100.8h.5M279.0 96.0h.5M284.9 90.6h.5M289.5 86.2h.5M291.3 90.5h.5M269.5 92.5h.5M288.1 91.0h.5M297.2 87.2h.5M287.7 92.1h.5M275.1 94.5h.5M269.7 85.3h.5M287.5 85.1h.5M281.6 83.3h.5M283.4 85.2h.5M285.8 83.5h.5M287.0 88.3h.5M283.6 89.2h.5M283.9 84.4h.5M274.5 88.2h.5M286.4 81.8h.5M276.0 87.5h.5M273.6 91.2h.5M281.6 86.5h.5M274.3 93.0h.5M277.2 92.0h.5M286.7 82.1h.5M273.3 90.0h.5M286.2 92.3h.5M290.4 93.0h.5M279.6 88.9h.5M289.9 87.5h.5M292.2 83.0h.5M288.8 88.5h.5M265.5 94.1h.5M285.8 89.4h.5M273.2 88.2h.5M296.4 85.6h.5M272.2 89.6h.5M279.3 86.2h.5M275.6 93.9h.5M270.4 97.6h.5M277.9 85.6h.5M290.2 91.3h.5M273.8 92.8h.5M266.3 86.9h.5M293.1 88.0h.5M271.4 92.1h.5M291.2 89.0h.5M266.7 89.0h.5M286.9 92.2h.5M299.6 87.7h.5M278.7 89.6h.5M293.7 85.4h.5M294.2 78.5h.5M290.0 86.6h.5M287.3 91.9h.5M272.4 89.7h.5M285.3 91.6h.5M274.4 86.2h.5M266.2 100.0h.5M281.2 88.7h.5M269.8 93.7h.5M278.5 95.2h.5M290.7 89.2h.5M289.3 84.9h.5M280.0 87.5h.5M271.6 90.2h.5M282.0 95.0h.5M274.7 88.2h.5M286.9 90.8h.5M283.2 87.7h.5M287.5 90.6h.5M266.4 89.4h.5M270.4 85.7h.5M284.3 89.7h.5M283.8 86.1h.5M281.0 86.1h.5M286.6 91.9h.5M299.0 93.5h.5M275.7 88.1h.5M274.6 91.1h.5M300.9 91.3h.5M263.0 85.8h.5M271.5 92.1h.5M283.1 90.6h.5M298.8 85.5h.5M275.8 97.4h.5M285.9 86.4h.5M264.5 84.7h.5M283.6 93.2h.5M281.6 86.9h.5M276.7 97.1h.5M267.2 91.0h.5M283.4 91.8h.5M279.5 91.6h.5M290.3 88.6h.5M278.9 89.0h.5M274.3 89.2h.5M280.3 90.4h.5M295.3 93.8h.5M279.1 92.0h.5M285.8 92.3h.5M283.2 90.5h.5M278.6 86.7h.5M291.1 94.0h.5M289.0 90.8h.5M285.3 87.7h.5M267.1 92.9h.5M284.7 87.3h.5M274.6 94.8h.5M267.1 97.0h.5M289.2 98.2h.5M276.5 89.8h.5M278.5 90.3h.5M281.0 86.8h.5M292.5 86.0h.5M278.5 91.8h.5M278.1 88.1h.5M286.1 87.9h.5M271.8 89.7h.5M281.4 96.1h.5M273.3 93.7h.5M275.9 88.5h.5M280.1 90.7h.5M291.1 95.7h.5M277.5 94.8h.5M292.1 92.1h.5M276.4 93.3h.5M282.1 90.9h.5M280.7 92.1h.5M293.2 93.3h.5M281.4 93.4h.5M295.9 85.3h.5M296.0 83.7h.5M288.0 91.5h.5M296.4 89.9h.5M278.5 86.7h.5M271.9 93.0h.5M280.7 86.9h.5M287.6 86.3h.5M279.0 88.0h.5M298.2 94.3h.5M281.3 83.6h.5M285.5 89.6h.5M286.2 91.5h.5M280.3 93.2h.5M290.6 89.9h.5M279.3 87.9h.5M289.0 85.0h.5M281.4 86.7h.5M270.6 92.4h.5M282.8 89.6h.5M290.6 83.4h.5M282.5 90.6h.5M290.3 85.0h.5M289.5 90.0h.5M295.4 93.2h.5M288.4 97.4h.5M282.9 87.9h.5M279.8 86.1h.5M282.4 82.4h.5M282.3 91.2h.5M291.8 87.7h.5M295.4 86.4h.5M281.4 82.4h.5M307.6 80.8h.5M313.1 86.1h.5M306.8 86.1h.5M310.7 83.1h.5M309.6 82.8h.5M308.2 77.1h.5M309.3 89.0h.5M313.0 82.9h.5M307.7 83.2h.5M311.7 85.4h.5M308.1 85.4h.5M309.0 86.0h.5M308.5 78.3h.5M309.6 87.0h.5M306.8 83.6h.5M311.6 82.5h.5M307.9 91.9h.5M311.5 88.0h.5M307.2 90.4h.5M305.5 82.0h.5M311.3 89.2h.5M307.2 81.4h.5M310.0 76.5h.5M311.1 86.2h.5M308.4 86.1h.5M311.4 85.2h.5M310.8 89.9h.5M308.3 84.6h.5M308.2 88.0h.5M308.5 85.8h.5M309.8 84.3h.5M313.7 83.7h.5M312.9 87.2h.5M312.7 83.4h.5M311.7 86.9h.5M308.0 85.0h.5M309.2 83.9h.5M312.6 81.2h.5M305.4 77.3h.5M308.4 81.5h.5M309.5 86.2h.5M313.7 85.2h.5M310.6 81.2h.5M310.9 89.2h.5M312.7 76.5h.5M311.6 90.1h.5M311.5 78.2h.5M308.8 86.3h.5M310.5 80.9h.5M307.4 87.7h.5M306.3 89.5h.5M309.5 85.2h.5M306.3 81.7h.5M311.2 78.3h.5M314.5 78.6h.5M306.6 84.2h.5M310.7 86.8h.5M308.6 83.2h.5M308.9 81.8h.5M303.3 87.7h.5M310.1 84.6h.5M308.0 85.0h.5M309.5 83.7h.5M312.2 77.4h.5M310.1 79.9h.5M308.7 89.8h.5M306.9 83.6h.5M308.1 87.6h.5M307.1 77.5h.5M310.7 82.6h.5M308.7 88.2h.5M307.4 82.6h.5M309.9 85.6h.5M308.3 88.0h.5M314.9 82.4h.5M314.0 75.9h.5M312.9 82.7h.5M309.8 82.7h.5M308.0 79.1h.5M308.6 89.0h.5M312.2 82.7h.5M308.2 81.3h.5M306.6 90.9h.5M311.1 84.5h.5M308.3 80.1h.5M312.7 87.0h.5M307.2 87.8h.5M306.8 86.5h.5M307.2 82.4h.5M310.7 85.7h.5M302.6 72.5h.5M311.5 82.6h.5M296.8 82.5h.5M289.4 81.5h.5M285.5 84.4h.5M300.3 86.7h.5M305.3 81.6h.5M292.6 79.9h.5M293.7 82.2h.5M281.8 89.9h.5M282.3 81.8h.5M295.2 77.2h.5M309.3 74.6h.5M311.1 81.7h.5M292.8 83.6h.5M305.9 74.4h.5M295.6 76.7h.5M295.8 77.9h.5M298.6 85.2h.5M307.6 76.6h.5M299.3 84.0h.5M291.6 75.1h.5M303.2 71.7h.5M301.7 72.0h.5M308.8 68.9h.5M305.8 85.6h.5M291.1 90.9h.5M285.8 72.9h.5M303.2 81.7h.5M289.4 66.9h.5M295.0 78.5h.5M292.3 79.6h.5M280.3 82.2h.5M313.7 83.1h.5M291.7 77.2h.5M301.3 84.6h.5M299.6 71.5h.5M297.6 80.3h.5M310.0 82.2h.5M302.6 85.0h.5M295.8 89.5h.5M293.3 83.4h.5M301.7 72.3h.5M286.8 72.6h.5M297.2 79.2h.5M294.3 83.7h.5M278.8 86.1h.5M296.2 78.3h.5M305.9 87.1h.5M290.5 76.2h.5M291.3 82.3h.5M299.1 73.6h.5M302.1 71.5h.5M303.6 79.9h.5M304.0 90.3h.5M293.5 79.9h.5M301.6 83.3h.5M285.7 85.4h.5M291.2 85.6h.5M307.2 76.2h.5M295.5 81.3h.5M273.5 92.9h.5M300.9 79.2h.5M291.3 77.2h.5M296.9 87.1h.5M297.8 87.6h.5M274.2 85.1h.5M298.2 79.1h.5M281.2 81.3h.5M303.6 69.3h.5M285.8 77.0h.5M292.8 85.1h.5M296.8 67.3h.5M306.7 72.5h.5M294.5 90.8h.5M292.9 73.5h.5M289.4 78.0h.5M287.1 81.2h.5M303.8 79.3h.5M290.3 99.2h.5M288.2 83.6h.5M297.8 84.0h.5M294.2 83.4h.5M313.3 74.3h.5M287.9 85.0h.5M288.8 80.4h.5M298.2 81.3h.5M295.4 85.4h.5M291.9 73.5h.5M302.4 75.4h.5M314.2 89.6h.5M269.3 78.6h.5M296.0 100.5h.5M284.1 94.7h.5M287.9 97.2h.5M268.6 86.9h.5M313.0 81.2h.5M278.8 74.4h.5M273.8 81.0h.5M302.6 79.7h.5M286.3 79.2h.5M297.2 97.1h.5M299.6 79.1h.5M304.2 99.8h.5M297.1 75.9h.5M308.2 97.4h.5M283.2 77.5h.5M275.0 88.3h.5M311.7 91.1h.5M314.3 79.5h.5M282.4 94.0h.5M299.7 84.7h.5M301.3 82.9h.5M268.1 85.0h.5M267.4 90.7h.5M282.9 87.1h.5M296.9 80.7h.5M289.7 74.2h.5M314.4 89.0h.5M317.7 75.3h.5M297.8 93.4h.5M282.6 76.3h.5M273.3 77.7h.5M306.0 76.2h.5M308.5 85.2h.5" stroke="#222" stroke-width=".5" opacity=".8"/>
<path d="M305.7 69.3L309.2 60.4H315.4V71.0L312.1 70.4ZM305.7 69.3L312.1 70.4V78.2L304.8 77.0ZM312.1 71.0H315.4V86.6H312.1Z" fill="none" stroke="#333" stroke-width="0.6"/>
<rect x="301.4" y="76.8" width="9.7" height="17.2" rx="1.6" fill="none" stroke="#333" stroke-width="0.6"/>
<text x="312.2" y="59.0" font-size="3.7" fill="#222" text-anchor="middle" >0.02</text>
<text x="300.1" y="74.4" font-size="3.7" fill="#222" text-anchor="middle" >0.2</text>
<text x="316.8" y="92.5" font-size="3.7" fill="#222" text-anchor="middle" >0.1</text>
<text x="303.9" y="98.7" font-size="3.7" fill="#222" text-anchor="middle" >6.6</text>
<rect x="338.1" y="45.8" width="59.4" height="58.0" fill="none" stroke="#c4c4c4" stroke-width="0.8"/>
<text x="332.4" y="52.5" font-size="4.6" fill="#222" text-anchor="end" >10<tspan font-size="2.6" dy="-1.6">5</tspan></text>
<line x1="336.5" y1="50.5" x2="338.1" y2="50.5" stroke="#333" stroke-width="0.6" />
<text x="332.4" y="63.0" font-size="4.6" fill="#222" text-anchor="end" >10<tspan font-size="2.6" dy="-1.6">4</tspan></text>
<line x1="336.5" y1="61.5" x2="338.1" y2="61.5" stroke="#333" stroke-width="0.6" />
<text x="332.4" y="74.3" font-size="4.6" fill="#222" text-anchor="end" >10<tspan font-size="2.6" dy="-1.6">3</tspan></text>
<line x1="336.5" y1="72.5" x2="338.1" y2="72.5" stroke="#333" stroke-width="0.6" />
<text x="332.4" y="86.1" font-size="4.6" fill="#222" text-anchor="end" >10<tspan font-size="2.6" dy="-1.6">2</tspan></text>
<line x1="336.5" y1="84.5" x2="338.1" y2="84.5" stroke="#333" stroke-width="0.6" />
<text x="333.9" y="91.5" font-size="4.6" fill="#222" text-anchor="end" >0</text>
<line x1="336.5" y1="90.5" x2="338.1" y2="90.5" stroke="#333" stroke-width="0.6" />
<text x="332.4" y="96.9" font-size="4.6" fill="#222" text-anchor="end" >-10<tspan font-size="2.6" dy="-1.6">2</tspan></text>
<line x1="336.5" y1="95.5" x2="338.1" y2="95.5" stroke="#333" stroke-width="0.6" />
<rect x="336.7" y="89.0" width="1.6" height="2.0" fill="#111" />
<path d="M337.3 48.8V101.8" stroke="#555" stroke-width="0.8" stroke-dasharray="0.4 1.6"/>
<path d="M340.1 105.0H394.1" stroke="#555" stroke-width="1" stroke-dasharray="0.4 2.2"/>
<rect x="352.1" y="104.3" width="11.0" height="1.2" fill="#222" />
<text x="341.9" y="113.1" font-size="4.6" fill="#222" text-anchor="middle" >-10<tspan font-size="2.6" dy="-1.6">3</tspan></text>
<text x="358.1" y="113.1" font-size="4.6" fill="#222" text-anchor="middle" >0</text>
<text x="376.5" y="113.1" font-size="4.6" fill="#222" text-anchor="middle" >10<tspan font-size="2.6" dy="-1.6">3</tspan></text>
<text x="388.1" y="113.1" font-size="4.6" fill="#222" text-anchor="middle" >10<tspan font-size="2.6" dy="-1.6">4</tspan></text>
<ellipse cx="355.0" cy="88.8" rx="5.4" ry="5.0" transform="rotate(0 355.0 88.8)" fill="#000" filter="url(#bl)" opacity="1"/>
<ellipse cx="356.0" cy="81.5" rx="4.4" ry="5.4" transform="rotate(0 356.0 81.5)" fill="#000" filter="url(#bl)" opacity="1"/>
<ellipse cx="379.8" cy="84.3" rx="2.8" ry="3.2" transform="rotate(0 379.8 84.3)" fill="#000" filter="url(#bl)" opacity="0.9"/>
<ellipse cx="385.5" cy="68.0" rx="1.8" ry="4.0" transform="rotate(0 385.5 68.0)" fill="#000" filter="url(#bl)" opacity="0.35"/>
<path d="M349.9 83.0h.5M349.6 81.9h.5M352.4 81.7h.5M355.3 80.2h.5M353.7 74.8h.5M356.1 79.7h.5M357.2 68.1h.5M352.2 86.5h.5M345.4 82.8h.5M355.9 85.6h.5M349.3 86.4h.5M356.1 79.2h.5M358.6 84.7h.5M355.6 82.3h.5M357.8 85.6h.5M360.2 87.7h.5M352.9 83.7h.5M359.3 82.8h.5M357.1 88.1h.5M354.8 71.1h.5M356.0 86.3h.5M356.1 80.5h.5M360.5 84.2h.5M352.9 80.7h.5M357.0 78.5h.5M351.3 97.0h.5M360.9 91.3h.5M361.2 88.6h.5M348.5 92.2h.5M360.7 87.9h.5M347.4 92.5h.5M361.2 82.0h.5M356.0 89.7h.5M355.1 91.6h.5M355.8 89.2h.5M355.9 76.1h.5M356.7 92.9h.5M360.2 95.3h.5M357.8 81.4h.5M355.6 73.5h.5M354.7 90.4h.5M346.5 86.2h.5M358.9 93.0h.5M351.6 81.1h.5M347.7 78.9h.5M357.7 97.5h.5M350.7 93.3h.5M357.3 82.0h.5M364.7 69.8h.5M355.2 86.3h.5M364.4 95.8h.5M365.0 85.8h.5M359.6 93.2h.5M357.6 87.2h.5M354.7 82.5h.5M350.4 96.7h.5M353.6 72.5h.5M356.6 84.8h.5M356.2 95.9h.5M355.1 83.4h.5M352.4 84.9h.5M353.7 86.2h.5M368.6 87.4h.5M351.9 96.6h.5M359.1 89.9h.5M358.5 89.9h.5M358.3 93.5h.5M359.7 93.1h.5M353.4 85.0h.5M352.4 90.8h.5M359.0 82.2h.5M357.9 100.8h.5M360.7 78.3h.5M355.1 88.8h.5M355.4 87.3h.5M360.4 87.0h.5M350.9 89.3h.5M355.1 85.7h.5M353.1 76.7h.5M350.3 82.9h.5M351.0 68.6h.5M360.3 78.0h.5M352.5 88.2h.5M345.4 93.1h.5M352.3 89.0h.5M353.5 86.8h.5M355.9 85.0h.5M347.8 76.1h.5M355.3 93.5h.5M353.2 88.2h.5M356.2 87.9h.5M359.7 75.9h.5M356.7 83.9h.5M354.2 79.8h.5M352.2 78.8h.5M350.9 100.2h.5M362.6 85.1h.5M358.6 79.1h.5M343.8 74.0h.5M356.1 93.7h.5M355.3 79.0h.5M354.5 79.0h.5M349.7 83.6h.5M353.8 80.1h.5M351.8 79.4h.5M356.5 93.4h.5M354.6 98.5h.5M348.7 86.7h.5M350.7 84.0h.5M355.9 88.4h.5M360.2 81.6h.5M350.3 83.9h.5M356.7 80.8h.5M359.2 95.2h.5M349.5 87.2h.5M359.8 73.4h.5M356.4 83.6h.5M349.5 93.0h.5M356.4 82.1h.5M357.4 88.9h.5M358.7 88.5h.5M357.2 77.9h.5M353.7 85.8h.5M343.9 97.9h.5M353.9 78.6h.5M347.9 86.5h.5M355.6 81.5h.5M353.8 79.6h.5M352.4 84.4h.5M352.8 89.1h.5M354.9 85.8h.5M357.2 92.7h.5M358.0 86.4h.5M354.8 80.1h.5M354.1 89.1h.5M356.4 82.7h.5M349.9 75.7h.5M356.8 91.2h.5M357.1 76.7h.5M354.6 86.3h.5M351.7 87.1h.5M354.7 80.0h.5M350.3 89.9h.5M357.0 79.6h.5M351.3 90.4h.5M358.0 83.2h.5M362.2 83.3h.5M351.1 91.6h.5M354.7 87.1h.5M355.7 78.9h.5M350.5 83.8h.5M361.4 78.9h.5M361.2 86.3h.5M350.8 86.6h.5M357.9 79.6h.5M346.6 87.2h.5M350.9 87.7h.5M347.5 84.1h.5M352.1 76.1h.5M354.5 86.0h.5M353.2 77.9h.5M356.4 74.4h.5M357.7 88.0h.5M362.5 90.3h.5M357.0 86.6h.5M355.6 77.0h.5M361.6 88.2h.5M354.3 78.1h.5M361.7 88.2h.5M350.5 89.0h.5M363.4 84.9h.5M357.2 82.5h.5M352.9 91.5h.5M368.4 85.7h.5M355.0 89.8h.5M354.2 89.4h.5M359.0 78.9h.5M351.0 84.6h.5M359.0 86.7h.5M360.7 76.7h.5M357.6 81.3h.5M355.9 86.9h.5M351.5 83.6h.5M350.6 86.6h.5M352.0 82.0h.5M356.4 81.1h.5M360.3 81.2h.5M359.0 86.7h.5M351.2 83.7h.5M352.0 82.8h.5M354.4 95.9h.5M353.8 94.4h.5M357.4 77.1h.5M345.9 89.1h.5M347.2 89.3h.5M359.8 87.3h.5M354.6 83.5h.5M356.6 83.2h.5M353.3 82.8h.5M360.4 81.3h.5M357.1 78.1h.5M352.5 76.7h.5M354.7 89.1h.5M356.8 82.0h.5M358.0 82.9h.5M357.1 86.6h.5M357.8 70.1h.5M350.1 89.6h.5M355.1 98.5h.5M354.5 81.7h.5M361.7 88.3h.5M363.4 88.1h.5M354.7 89.3h.5M352.2 82.3h.5M353.2 83.7h.5M358.7 82.1h.5M356.8 82.0h.5M359.2 68.5h.5M354.6 86.0h.5M351.0 91.1h.5M356.4 92.7h.5M359.5 88.8h.5M354.9 78.5h.5M354.6 82.2h.5M356.5 82.2h.5M368.2 75.4h.5M360.4 82.2h.5M354.5 90.5h.5M355.5 77.7h.5M357.2 83.8h.5M347.0 86.2h.5M351.1 80.5h.5M357.5 86.8h.5M354.3 98.0h.5M357.2 81.3h.5M356.5 84.3h.5M346.3 75.6h.5M349.7 97.4h.5M354.7 83.3h.5M353.2 90.9h.5M355.6 95.2h.5M358.8 94.8h.5M355.0 87.2h.5M353.7 84.0h.5M348.3 81.5h.5M351.6 81.1h.5M360.5 86.6h.5M360.6 90.1h.5M359.3 91.0h.5M353.0 89.8h.5M354.2 81.8h.5M360.5 97.9h.5M351.4 95.4h.5M358.9 79.9h.5M356.6 87.2h.5M357.1 82.9h.5M350.2 85.2h.5M359.1 89.7h.5M358.2 91.6h.5M351.4 84.7h.5M356.9 91.0h.5M356.1 88.1h.5M356.1 97.5h.5M346.5 84.9h.5M365.8 86.4h.5M347.9 85.8h.5M349.6 80.9h.5M356.4 95.2h.5M357.4 89.0h.5M359.7 86.2h.5M351.9 84.4h.5M356.9 83.3h.5M352.7 82.9h.5M349.3 78.9h.5M355.1 82.8h.5M355.7 93.4h.5M356.7 84.8h.5M350.6 78.6h.5M357.1 79.8h.5M357.3 78.6h.5M356.1 84.6h.5M359.6 82.7h.5M354.0 86.5h.5M355.7 95.1h.5M354.4 81.8h.5M354.2 87.8h.5M356.5 89.1h.5M349.8 99.8h.5M363.1 84.8h.5M350.5 85.9h.5M357.2 71.7h.5M355.6 76.2h.5M357.4 93.2h.5M359.8 76.0h.5M361.2 90.4h.5M354.0 88.0h.5M361.8 83.0h.5M355.4 81.7h.5M360.3 72.2h.5M361.4 79.2h.5M359.3 75.3h.5M351.6 81.4h.5M358.9 75.3h.5M358.0 81.2h.5M360.6 83.1h.5M357.5 84.0h.5M362.9 82.9h.5M355.4 96.8h.5M355.8 89.1h.5M352.4 86.2h.5M346.1 85.6h.5M352.8 76.0h.5M349.6 91.8h.5M357.3 76.0h.5M363.0 80.8h.5M354.0 86.5h.5M350.8 75.4h.5M352.4 92.0h.5M359.4 75.6h.5M360.5 85.2h.5M357.6 85.3h.5M357.2 79.0h.5M351.7 80.8h.5M354.0 88.7h.5M350.5 94.5h.5M352.9 81.5h.5M358.4 87.6h.5M354.1 78.6h.5M351.4 75.5h.5M360.2 91.5h.5M363.2 88.0h.5M356.9 89.5h.5M359.4 83.5h.5M357.0 97.9h.5M348.5 76.6h.5M351.5 89.5h.5M360.4 83.0h.5M358.3 84.7h.5M356.7 81.8h.5M355.4 85.0h.5M360.2 98.3h.5M348.0 88.2h.5M355.5 90.8h.5M359.9 89.7h.5M358.8 79.3h.5M348.4 95.0h.5M360.5 79.3h.5M360.8 89.0h.5M345.3 90.4h.5M351.4 92.0h.5M352.7 80.6h.5M349.1 83.7h.5M359.7 81.0h.5M347.8 97.8h.5M363.1 89.1h.5M353.3 77.8h.5M348.7 88.3h.5M360.9 78.7h.5M355.5 83.3h.5M354.4 88.0h.5M364.2 81.2h.5M359.0 91.5h.5M354.3 84.1h.5M349.9 91.4h.5M353.3 81.1h.5M355.8 79.9h.5M351.2 83.2h.5M361.7 83.8h.5M357.7 76.2h.5M347.4 95.9h.5M353.8 75.8h.5M355.1 88.6h.5M348.3 79.7h.5M356.6 79.5h.5M358.8 90.8h.5M357.3 82.4h.5M355.3 81.2h.5M355.0 86.9h.5M354.3 90.8h.5M388.8 80.6h.5M381.2 86.6h.5M382.2 82.0h.5M378.4 87.4h.5M382.1 85.2h.5M377.3 85.7h.5M382.7 82.2h.5M382.2 92.4h.5M373.7 85.6h.5M376.0 77.1h.5M379.2 85.4h.5M380.2 77.9h.5M375.1 80.6h.5M380.0 79.4h.5M374.9 90.6h.5M377.2 82.3h.5M378.1 80.5h.5M380.1 81.7h.5M382.1 77.8h.5M375.0 91.5h.5M379.7 86.3h.5M384.0 85.4h.5M380.1 76.2h.5M374.6 87.3h.5M382.3 85.5h.5M374.4 73.7h.5M376.4 77.9h.5M380.5 78.5h.5M385.4 80.3h.5M378.1 86.8h.5M381.1 79.1h.5M382.8 91.4h.5M375.8 81.9h.5M376.3 74.5h.5M382.1 86.0h.5M383.3 84.9h.5M373.2 82.9h.5M377.7 77.9h.5M376.2 86.3h.5M379.0 91.6h.5M381.6 74.7h.5M383.0 88.5h.5M380.1 77.7h.5M386.0 77.3h.5M379.7 74.7h.5M375.7 75.6h.5M383.7 88.2h.5M378.6 77.1h.5M379.8 84.7h.5M374.8 77.9h.5M379.7 86.1h.5M380.3 85.0h.5M375.7 72.1h.5M381.1 79.0h.5M379.6 81.3h.5M381.6 79.6h.5M384.9 83.1h.5M381.8 85.8h.5M383.5 84.8h.5M374.0 80.2h.5M386.4 85.1h.5M381.9 85.1h.5M377.8 80.0h.5M377.8 88.1h.5M381.2 90.8h.5M381.7 91.3h.5M381.6 77.8h.5M386.0 84.5h.5M384.1 83.9h.5M378.9 83.7h.5M376.2 77.7h.5M377.0 80.7h.5M375.3 82.5h.5M381.0 91.9h.5M386.3 82.8h.5M383.0 82.0h.5M381.3 82.9h.5M378.1 83.3h.5M374.9 84.9h.5M379.0 78.2h.5M378.8 85.4h.5M377.7 85.1h.5M382.0 89.9h.5M376.3 82.5h.5M381.8 89.6h.5M380.9 86.3h.5M374.9 80.4h.5M385.7 81.7h.5M387.5 79.8h.5M379.0 75.9h.5M382.2 84.2h.5M387.0 83.7h.5M379.1 76.8h.5M379.7 87.2h.5M382.6 88.5h.5M383.0 82.8h.5M382.1 83.8h.5M375.4 90.6h.5M381.3 78.3h.5M381.3 84.3h.5M383.4 89.4h.5M369.5 85.5h.5M385.3 78.8h.5M373.6 84.2h.5M381.2 84.6h.5M376.2 80.9h.5M380.7 86.3h.5M387.6 84.3h.5M377.9 72.5h.5M383.7 82.4h.5M379.6 78.6h.5M382.5 75.0h.5M380.4 83.5h.5M381.0 88.8h.5M379.7 83.4h.5M383.0 76.1h.5M379.0 83.3h.5M383.3 79.4h.5M382.8 84.7h.5M374.8 76.4h.5M375.0 83.6h.5M380.7 86.2h.5M382.9 80.5h.5M383.7 86.7h.5M381.6 85.1h.5M375.5 84.6h.5M376.4 77.7h.5M378.8 83.6h.5M379.8 81.5h.5M376.5 83.8h.5M384.2 61.6h.5M386.2 78.7h.5M385.0 63.7h.5M389.4 80.2h.5M385.3 68.7h.5M386.5 87.6h.5M386.3 75.9h.5M387.1 59.1h.5M383.3 62.6h.5M387.1 70.6h.5M390.5 68.4h.5M386.8 70.4h.5M386.3 83.8h.5M386.7 78.8h.5M389.2 66.4h.5M387.7 67.7h.5M386.3 70.9h.5M386.1 67.2h.5M389.9 68.4h.5M387.8 80.0h.5M387.6 76.1h.5M389.5 76.5h.5M390.3 61.5h.5M390.9 70.2h.5M381.6 66.2h.5M382.5 69.9h.5M382.3 64.0h.5M386.7 70.9h.5M384.0 68.6h.5M385.8 70.4h.5M386.0 68.7h.5M388.2 60.4h.5M384.8 70.8h.5M385.0 66.7h.5M384.9 71.3h.5M389.1 68.9h.5M385.3 72.1h.5M385.4 58.4h.5M386.7 67.7h.5M384.6 73.8h.5M386.1 66.6h.5M380.6 59.7h.5M386.0 69.3h.5M387.1 71.3h.5M384.8 62.4h.5M383.3 69.2h.5M383.1 74.5h.5M382.7 59.3h.5M385.5 59.4h.5M390.1 64.0h.5M385.9 68.5h.5M384.0 59.4h.5M381.3 75.2h.5M388.6 83.0h.5M382.3 73.4h.5M386.0 75.1h.5M384.7 74.3h.5M388.2 73.6h.5M389.6 69.0h.5M389.9 65.8h.5M390.2 53.5h.5M386.0 65.2h.5M386.0 76.2h.5M387.8 70.6h.5M390.3 61.1h.5M384.0 79.1h.5M386.8 57.6h.5M386.9 62.9h.5M389.7 76.9h.5M384.6 77.8h.5M383.9 75.5h.5M387.4 69.2h.5M382.4 68.3h.5M380.3 66.6h.5M381.4 77.3h.5M383.6 55.4h.5M387.5 72.2h.5M384.7 82.7h.5M387.9 70.4h.5M384.4 52.3h.5M387.2 75.8h.5M384.5 61.5h.5M385.9 60.0h.5M386.0 74.6h.5M389.8 71.6h.5M386.5 74.5h.5M389.5 68.1h.5M382.9 65.3h.5M382.9 64.7h.5M385.7 72.1h.5M368.9 82.3h.5M365.9 84.1h.5M373.3 85.8h.5M377.0 80.5h.5M366.5 90.5h.5M369.2 84.1h.5M366.0 86.8h.5M365.6 77.0h.5M367.6 79.8h.5M373.0 80.1h.5M368.7 80.9h.5M370.0 78.8h.5M374.6 74.9h.5M365.7 78.5h.5M371.9 82.2h.5M370.9 80.3h.5M363.7 76.4h.5M366.0 79.3h.5M369.7 83.8h.5M373.9 81.5h.5M363.5 76.7h.5M368.4 83.8h.5M379.7 82.9h.5M378.5 91.4h.5M361.7 88.1h.5M374.8 88.7h.5M367.9 86.8h.5M365.1 81.6h.5M368.1 90.9h.5M366.7 86.8h.5M368.4 78.5h.5M369.5 85.3h.5M363.7 85.2h.5M363.7 77.6h.5M369.3 80.8h.5M362.1 73.9h.5M368.1 83.2h.5M365.2 82.9h.5M358.8 84.0h.5M370.5 83.4h.5M364.3 82.4h.5M368.8 87.3h.5M369.7 83.3h.5M363.7 86.3h.5M375.0 79.5h.5M371.8 83.5h.5M367.7 75.6h.5M378.5 72.7h.5M369.8 80.1h.5M374.9 79.9h.5M368.2 85.1h.5M370.7 79.4h.5M372.1 84.0h.5M373.9 79.4h.5M367.7 80.0h.5M363.0 83.3h.5M370.5 89.1h.5M366.1 83.9h.5M374.8 81.4h.5M368.4 82.7h.5M363.9 77.1h.5M374.7 82.9h.5M367.6 75.8h.5M368.7 87.8h.5M361.1 77.6h.5M374.6 89.1h.5M377.3 79.2h.5M371.6 78.3h.5M371.1 80.2h.5M369.2 88.7h.5M370.0 80.8h.5M368.3 83.3h.5M364.9 83.0h.5M371.6 89.8h.5M355.7 76.1h.5M360.6 86.4h.5M382.6 83.0h.5M368.7 87.7h.5M353.4 81.1h.5M349.4 82.8h.5M365.0 79.6h.5M370.0 79.1h.5M374.6 82.0h.5M370.3 94.6h.5M365.3 86.6h.5M363.1 88.2h.5M373.7 82.7h.5M373.9 90.0h.5M376.2 82.0h.5M367.7 87.5h.5M359.2 79.0h.5M370.9 84.8h.5M379.1 90.7h.5M369.9 84.2h.5M360.2 81.1h.5M369.6 80.9h.5M368.4 85.0h.5M362.3 79.2h.5M357.4 87.7h.5M361.7 73.6h.5M392.2 81.1h.5M391.4 84.8h.5M343.9 98.5h.5M346.7 74.3h.5M356.6 81.6h.5M392.7 97.3h.5M363.5 88.1h.5M386.4 95.6h.5M376.0 87.6h.5M347.3 80.4h.5M376.2 89.6h.5M383.9 98.1h.5M392.5 79.0h.5M345.2 98.0h.5M371.6 78.7h.5M378.1 80.7h.5M353.7 83.7h.5M369.1 92.1h.5M345.0 93.8h.5M374.4 86.5h.5M377.0 95.4h.5M341.6 86.6h.5M377.3 92.9h.5M375.7 78.7h.5M392.3 95.0h.5M353.5 85.4h.5M392.3 79.4h.5M362.9 99.8h.5M389.2 80.1h.5M380.4 83.5h.5M376.5 94.5h.5M347.9 79.8h.5M352.6 81.0h.5M343.0 77.5h.5M362.8 85.2h.5" stroke="#222" stroke-width=".5" opacity=".8"/>
<path d="M380.7 69.3L384.2 60.4H390.4V71.0L387.1 70.4ZM380.7 69.3L387.1 70.4V78.2L379.8 77.0ZM387.1 71.0H390.4V86.6H387.1Z" fill="none" stroke="#333" stroke-width="0.6"/>
<rect x="372.9" y="76.8" width="13.2" height="17.2" rx="1.6" fill="none" stroke="#333" stroke-width="0.6"/>
<text x="387.2" y="59.0" font-size="3.7" fill="#222" text-anchor="middle" >2.3</text>
<text x="375.1" y="74.4" font-size="3.7" fill="#222" text-anchor="middle" >0.8</text>
<text x="391.8" y="92.5" font-size="3.7" fill="#222" text-anchor="middle" >5.0</text>
<text x="378.9" y="98.7" font-size="3.7" fill="#222" text-anchor="middle" >9.9</text>
<rect x="413.5" y="45.8" width="59.4" height="58.0" fill="none" stroke="#c4c4c4" stroke-width="0.8"/>
<text x="407.8" y="52.5" font-size="4.6" fill="#222" text-anchor="end" >10<tspan font-size="2.6" dy="-1.6">5</tspan></text>
<line x1="411.9" y1="50.5" x2="413.5" y2="50.5" stroke="#333" stroke-width="0.6" />
<text x="407.8" y="63.0" font-size="4.6" fill="#222" text-anchor="end" >10<tspan font-size="2.6" dy="-1.6">4</tspan></text>
<line x1="411.9" y1="61.5" x2="413.5" y2="61.5" stroke="#333" stroke-width="0.6" />
<text x="407.8" y="74.3" font-size="4.6" fill="#222" text-anchor="end" >10<tspan font-size="2.6" dy="-1.6">3</tspan></text>
<line x1="411.9" y1="72.5" x2="413.5" y2="72.5" stroke="#333" stroke-width="0.6" />
<text x="407.8" y="86.1" font-size="4.6" fill="#222" text-anchor="end" >10<tspan font-size="2.6" dy="-1.6">2</tspan></text>
<line x1="411.9" y1="84.5" x2="413.5" y2="84.5" stroke="#333" stroke-width="0.6" />
<text x="409.3" y="91.5" font-size="4.6" fill="#222" text-anchor="end" >0</text>
<line x1="411.9" y1="90.5" x2="413.5" y2="90.5" stroke="#333" stroke-width="0.6" />
<text x="407.8" y="96.9" font-size="4.6" fill="#222" text-anchor="end" >-10<tspan font-size="2.6" dy="-1.6">2</tspan></text>
<line x1="411.9" y1="95.5" x2="413.5" y2="95.5" stroke="#333" stroke-width="0.6" />
<rect x="412.1" y="89.0" width="1.6" height="2.0" fill="#111" />
<path d="M412.7 48.8V101.8" stroke="#555" stroke-width="0.8" stroke-dasharray="0.4 1.6"/>
<path d="M415.5 105.0H469.5" stroke="#555" stroke-width="1" stroke-dasharray="0.4 2.2"/>
<rect x="427.5" y="104.3" width="11.0" height="1.2" fill="#222" />
<text x="417.3" y="113.1" font-size="4.6" fill="#222" text-anchor="middle" >-10<tspan font-size="2.6" dy="-1.6">3</tspan></text>
<text x="433.5" y="113.1" font-size="4.6" fill="#222" text-anchor="middle" >0</text>
<text x="451.9" y="113.1" font-size="4.6" fill="#222" text-anchor="middle" >10<tspan font-size="2.6" dy="-1.6">3</tspan></text>
<text x="463.5" y="113.1" font-size="4.6" fill="#222" text-anchor="middle" >10<tspan font-size="2.6" dy="-1.6">4</tspan></text>
<ellipse cx="431.0" cy="88.9" rx="6.4" ry="5.4" transform="rotate(0 431.0 88.9)" fill="#000" filter="url(#bl)" opacity="1"/>
<ellipse cx="432.2" cy="81.5" rx="5.3" ry="5.6" transform="rotate(0 432.2 81.5)" fill="#000" filter="url(#bl)" opacity="1"/>
<ellipse cx="455.0" cy="84.5" rx="2.8" ry="3.2" transform="rotate(0 455.0 84.5)" fill="#000" filter="url(#bl)" opacity="0.7"/>
<ellipse cx="461.0" cy="68.0" rx="1.8" ry="4.0" transform="rotate(0 461.0 68.0)" fill="#000" filter="url(#bl)" opacity="0.35"/>
<path d="M436.3 89.0h.5M436.6 82.0h.5M427.0 92.9h.5M428.7 86.5h.5M430.4 85.1h.5M430.0 81.6h.5M423.5 97.0h.5M432.1 72.9h.5M427.3 77.9h.5M428.0 69.0h.5M433.7 95.3h.5M430.1 89.7h.5M433.8 77.2h.5M436.5 74.4h.5M428.7 82.7h.5M436.6 85.7h.5M430.7 80.0h.5M431.6 85.3h.5M434.3 93.7h.5M434.4 85.1h.5M430.5 95.0h.5M432.1 84.9h.5M438.9 94.8h.5M433.7 84.3h.5M428.5 91.7h.5M429.2 91.0h.5M427.8 85.7h.5M432.9 85.9h.5M432.2 87.4h.5M426.4 78.1h.5M430.6 96.3h.5M430.7 79.2h.5M428.4 85.2h.5M436.3 81.5h.5M433.6 86.2h.5M429.7 79.1h.5M430.5 80.5h.5M433.5 74.0h.5M436.1 89.7h.5M433.7 94.4h.5M433.8 74.3h.5M431.4 87.8h.5M428.3 77.9h.5M433.1 88.2h.5M429.4 83.5h.5M429.0 81.5h.5M431.0 91.7h.5M424.3 82.9h.5M438.1 87.0h.5M431.9 90.2h.5M426.9 77.4h.5M424.1 75.9h.5M432.3 90.3h.5M429.4 80.8h.5M432.9 88.8h.5M432.3 73.1h.5M428.9 69.2h.5M432.2 79.7h.5M428.4 94.4h.5M436.9 88.0h.5M432.4 86.1h.5M428.7 84.7h.5M439.4 79.5h.5M428.4 86.0h.5M435.0 90.2h.5M427.1 84.2h.5M430.1 77.3h.5M431.5 82.0h.5M435.1 87.7h.5M427.9 85.5h.5M429.7 81.0h.5M429.1 91.6h.5M429.4 74.3h.5M427.9 90.0h.5M440.4 78.4h.5M429.7 83.0h.5M425.2 87.5h.5M431.0 86.7h.5M440.8 83.3h.5M434.6 90.2h.5M428.5 81.3h.5M437.9 89.5h.5M431.8 78.2h.5M435.0 88.3h.5M440.6 94.2h.5M434.6 86.7h.5M431.5 81.6h.5M432.5 86.5h.5M434.0 91.8h.5M432.5 81.6h.5M434.7 94.7h.5M427.6 87.6h.5M433.5 88.3h.5M433.4 84.4h.5M430.8 95.5h.5M438.6 76.3h.5M420.3 87.7h.5M428.3 81.8h.5M424.4 87.2h.5M431.0 81.6h.5M435.0 100.1h.5M437.5 92.3h.5M429.4 89.1h.5M431.0 92.2h.5M433.7 84.8h.5M433.6 80.5h.5M434.6 94.4h.5M429.7 88.5h.5M424.1 90.8h.5M435.0 78.7h.5M438.7 85.7h.5M423.8 76.5h.5M434.9 83.3h.5M435.9 75.4h.5M430.8 91.1h.5M428.3 89.2h.5M429.7 87.1h.5M432.6 98.9h.5M425.9 89.8h.5M436.8 78.0h.5M431.5 99.4h.5M435.7 66.6h.5M430.2 74.4h.5M432.5 80.5h.5M428.8 79.8h.5M432.5 82.1h.5M427.3 83.6h.5M432.9 79.7h.5M435.9 74.7h.5M432.9 82.6h.5M437.9 81.0h.5M428.4 76.7h.5M439.7 88.8h.5M426.6 82.9h.5M427.1 94.5h.5M433.0 72.3h.5M432.1 90.7h.5M431.2 87.9h.5M430.7 86.3h.5M432.1 80.6h.5M432.7 86.0h.5M431.0 80.7h.5M426.9 86.5h.5M434.7 70.0h.5M428.9 93.4h.5M435.1 80.6h.5M437.0 78.9h.5M427.8 97.1h.5M429.3 83.7h.5M424.1 78.7h.5M426.2 84.1h.5M423.4 91.6h.5M429.7 81.2h.5M428.5 89.6h.5M437.8 82.5h.5M438.1 95.0h.5M436.9 86.9h.5M424.8 89.2h.5M429.5 86.2h.5M423.1 83.2h.5M432.2 79.2h.5M432.5 95.4h.5M432.2 80.7h.5M441.4 71.6h.5M427.3 87.5h.5M428.7 70.7h.5M432.3 90.2h.5M427.8 94.1h.5M433.3 92.4h.5M424.7 85.0h.5M438.1 97.6h.5M436.8 85.0h.5M432.0 81.1h.5M435.9 80.7h.5M431.7 72.1h.5M424.8 96.1h.5M431.5 86.3h.5M421.8 84.8h.5M440.1 75.7h.5M421.0 84.0h.5M428.9 83.7h.5M425.8 76.5h.5M425.9 89.0h.5M431.0 90.1h.5M426.6 88.7h.5M429.3 85.6h.5M435.2 85.2h.5M429.7 74.6h.5M431.5 89.9h.5M428.5 84.6h.5M423.6 76.6h.5M432.9 93.1h.5M429.9 74.5h.5M429.6 75.2h.5M430.0 97.1h.5M432.5 84.0h.5M435.7 82.6h.5M432.6 86.3h.5M433.1 75.8h.5M434.3 90.5h.5M421.4 68.0h.5M427.3 94.4h.5M431.3 89.3h.5M433.6 90.6h.5M428.4 81.3h.5M432.8 88.8h.5M433.7 87.1h.5M429.1 91.9h.5M433.2 91.7h.5M420.2 91.3h.5M420.6 86.3h.5M428.3 85.8h.5M429.1 83.0h.5M432.0 87.2h.5M427.7 69.1h.5M427.8 88.4h.5M427.5 87.7h.5M429.6 79.1h.5M436.3 95.5h.5M430.8 84.7h.5M435.4 76.6h.5M427.4 92.1h.5M435.1 81.9h.5M427.8 87.2h.5M425.1 81.8h.5M430.2 69.4h.5M433.8 89.8h.5M435.8 75.9h.5M425.6 79.8h.5M425.5 98.0h.5M426.9 83.0h.5M432.1 87.9h.5M437.5 78.1h.5M435.0 85.9h.5M426.1 86.0h.5M425.1 95.3h.5M428.0 91.4h.5M436.9 81.1h.5M427.3 85.8h.5M426.6 90.7h.5M432.0 80.2h.5M428.2 89.6h.5M424.9 95.7h.5M427.8 83.8h.5M427.2 95.3h.5M434.8 93.3h.5M434.1 85.6h.5M438.6 89.2h.5M433.1 88.7h.5M434.4 86.8h.5M430.5 74.8h.5M440.2 76.7h.5M421.8 80.5h.5M439.7 92.8h.5M428.6 86.7h.5M431.1 72.3h.5M429.7 86.9h.5M436.3 77.3h.5M421.3 74.9h.5M432.7 85.5h.5M431.9 85.9h.5M429.6 76.3h.5M433.2 87.5h.5M433.7 93.0h.5M425.8 70.1h.5M423.4 98.7h.5M427.2 87.6h.5M431.1 89.7h.5M445.3 81.7h.5M430.5 81.2h.5M432.3 88.3h.5M426.9 93.4h.5M436.2 87.8h.5M430.7 83.5h.5M424.0 89.2h.5M426.9 81.8h.5M435.6 79.1h.5M428.9 90.5h.5M439.4 80.6h.5M436.1 80.8h.5M432.9 88.1h.5M426.2 91.6h.5M439.1 85.3h.5M432.4 77.5h.5M439.1 85.4h.5M425.6 89.9h.5M424.8 80.6h.5M421.8 93.8h.5M440.9 80.9h.5M428.3 81.3h.5M428.7 88.5h.5M437.6 78.6h.5M433.1 73.5h.5M437.9 84.4h.5M428.1 94.8h.5M430.7 93.8h.5M435.9 95.6h.5M427.7 85.4h.5M432.8 83.8h.5M437.9 80.4h.5M435.6 93.7h.5M422.6 78.8h.5M427.2 81.5h.5M432.9 83.9h.5M431.5 82.1h.5M430.8 88.1h.5M434.5 80.0h.5M430.7 80.1h.5M430.4 75.8h.5M435.4 89.3h.5M430.7 80.6h.5M429.2 80.7h.5M424.4 95.5h.5M445.7 77.1h.5M426.1 88.7h.5M433.9 74.9h.5M422.7 88.5h.5M422.4 94.1h.5M429.0 85.5h.5M431.2 81.4h.5M430.6 83.1h.5M436.7 84.4h.5M431.1 81.6h.5M428.4 80.3h.5M431.2 96.8h.5M436.1 86.5h.5M438.5 91.5h.5M432.1 83.9h.5M426.4 86.6h.5M429.8 74.9h.5M425.5 97.4h.5M432.1 88.2h.5M432.1 82.0h.5M433.2 91.9h.5M429.8 88.3h.5M435.7 81.9h.5M431.9 80.3h.5M433.9 82.6h.5M436.2 80.1h.5M438.6 83.0h.5M427.5 79.2h.5M434.1 79.5h.5M439.1 93.2h.5M433.5 75.9h.5M431.1 80.4h.5M423.2 87.7h.5M440.9 81.6h.5M434.8 93.2h.5M427.0 82.8h.5M432.4 88.0h.5M426.2 86.4h.5M430.7 91.1h.5M424.2 81.4h.5M429.0 83.0h.5M434.4 81.0h.5M443.2 80.5h.5M434.9 91.5h.5M435.4 83.7h.5M427.5 83.4h.5M434.1 85.8h.5M433.8 88.7h.5M427.3 79.0h.5M437.5 81.9h.5M424.2 96.9h.5M427.5 79.0h.5M435.5 77.8h.5M427.4 91.7h.5M427.6 101.1h.5M431.6 102.2h.5M431.8 85.4h.5M428.4 83.6h.5M429.0 84.8h.5M434.6 76.9h.5M427.2 71.6h.5M437.8 84.5h.5M431.1 84.6h.5M435.6 87.1h.5M434.9 83.9h.5M430.7 84.6h.5M423.0 92.0h.5M449.5 78.5h.5M457.3 83.2h.5M457.8 90.7h.5M461.5 89.2h.5M454.2 92.2h.5M451.9 82.6h.5M458.5 82.0h.5M454.6 81.4h.5M459.8 71.9h.5M459.5 87.8h.5M454.7 85.5h.5M451.6 88.0h.5M465.7 78.9h.5M459.9 82.7h.5M453.8 80.8h.5M454.3 77.4h.5M450.2 90.5h.5M454.9 85.5h.5M456.1 85.1h.5M449.7 78.7h.5M457.2 87.5h.5M451.0 80.4h.5M451.3 85.9h.5M456.2 83.1h.5M452.7 84.5h.5M455.1 79.7h.5M456.2 80.0h.5M458.3 85.8h.5M452.6 85.6h.5M455.2 79.8h.5M451.8 75.5h.5M451.0 84.6h.5M459.2 80.2h.5M455.6 84.5h.5M457.7 85.0h.5M459.3 86.4h.5M452.3 84.8h.5M446.8 82.2h.5M455.1 85.6h.5M453.9 86.7h.5M459.6 79.2h.5M453.1 84.2h.5M456.7 83.6h.5M457.9 77.7h.5M457.7 88.2h.5M458.9 84.9h.5M454.2 84.8h.5M454.7 75.9h.5M452.9 82.8h.5M453.2 78.8h.5M454.2 81.3h.5M455.2 82.8h.5M455.6 87.5h.5M455.5 84.8h.5M450.7 69.7h.5M453.6 86.0h.5M453.8 80.2h.5M450.7 87.0h.5M453.2 84.1h.5M459.0 85.4h.5M462.9 82.4h.5M458.3 86.1h.5M452.7 83.2h.5M453.0 78.4h.5M456.0 79.5h.5M460.9 79.7h.5M453.1 83.4h.5M453.2 83.2h.5M452.9 76.6h.5M446.6 77.2h.5M460.3 85.0h.5M455.5 80.9h.5M454.5 84.3h.5M450.1 79.4h.5M451.9 88.7h.5M451.3 88.3h.5M453.4 95.3h.5M454.7 83.1h.5M459.7 86.9h.5M458.3 78.2h.5M459.0 90.6h.5M454.6 80.8h.5M451.2 87.6h.5M456.0 83.0h.5M450.7 90.3h.5M458.1 82.9h.5M460.2 78.7h.5M458.1 78.5h.5M459.9 81.8h.5M459.3 81.1h.5M456.4 88.1h.5M451.8 83.4h.5M452.1 86.8h.5M452.9 81.3h.5M454.3 88.2h.5M451.4 82.9h.5M453.8 80.5h.5M452.2 82.3h.5M455.7 76.0h.5M455.8 77.7h.5M455.1 93.3h.5M451.6 82.7h.5M454.1 87.4h.5M453.3 75.0h.5M449.4 83.8h.5M455.9 87.8h.5M453.1 86.0h.5M451.3 88.8h.5M454.8 79.9h.5M455.6 90.8h.5M452.0 77.4h.5M451.4 77.8h.5M454.8 84.6h.5M454.4 83.9h.5M459.1 81.7h.5M450.6 72.7h.5M455.8 79.9h.5M454.1 84.8h.5M456.6 75.9h.5M451.6 83.3h.5M454.5 88.2h.5M453.2 73.7h.5M459.1 75.6h.5M451.6 84.8h.5M451.3 94.2h.5M455.8 85.4h.5M453.5 93.0h.5M456.9 79.8h.5M459.4 75.4h.5M452.9 84.3h.5M461.3 64.2h.5M465.0 78.8h.5M458.7 72.2h.5M459.4 67.4h.5M463.5 70.8h.5M460.7 70.6h.5M458.1 77.3h.5M459.1 77.9h.5M459.9 67.3h.5M464.7 71.1h.5M459.4 66.8h.5M462.5 81.2h.5M462.5 67.6h.5M458.2 66.0h.5M460.7 71.5h.5M459.4 77.7h.5M458.6 65.7h.5M462.2 72.9h.5M460.0 75.8h.5M457.5 79.8h.5M466.5 81.7h.5M461.3 81.8h.5M461.1 78.0h.5M460.5 71.2h.5M462.3 59.5h.5M460.5 80.3h.5M453.7 72.3h.5M463.3 72.0h.5M461.5 78.3h.5M461.8 58.6h.5M458.6 68.2h.5M461.4 67.3h.5M460.7 80.0h.5M453.7 76.9h.5M463.3 73.6h.5M461.0 70.4h.5M461.9 71.5h.5M459.2 74.7h.5M458.9 69.8h.5M460.1 63.1h.5M462.5 69.6h.5M458.1 69.5h.5M457.6 78.6h.5M462.3 81.9h.5M459.6 74.2h.5M458.6 64.9h.5M460.8 72.5h.5M463.3 68.4h.5M463.8 75.8h.5M458.8 68.9h.5M458.7 80.2h.5M459.6 75.3h.5M463.3 68.5h.5M459.8 72.1h.5M459.1 62.4h.5M458.6 72.0h.5M461.5 80.5h.5M456.4 73.0h.5M458.1 76.9h.5M462.7 70.8h.5M464.7 67.8h.5M459.7 63.7h.5M459.4 70.7h.5M462.7 77.6h.5M460.3 65.6h.5M460.2 67.4h.5M459.8 67.6h.5M458.8 69.7h.5M459.7 69.0h.5M457.6 70.9h.5M462.4 73.9h.5M459.6 63.2h.5M457.8 63.0h.5M459.4 68.2h.5M456.6 74.0h.5M457.2 65.9h.5M459.2 74.9h.5M465.6 67.9h.5M460.3 67.7h.5M460.5 69.0h.5M467.1 63.5h.5M460.7 65.3h.5M461.9 66.9h.5M462.4 63.6h.5M466.2 71.2h.5M456.6 74.2h.5M459.8 63.1h.5M462.1 66.9h.5M462.8 66.8h.5M463.2 70.9h.5M445.1 82.8h.5M440.8 80.2h.5M445.7 85.5h.5M440.6 93.1h.5M453.0 76.3h.5M449.4 81.7h.5M444.4 78.1h.5M452.8 77.9h.5M442.5 78.4h.5M454.5 88.2h.5M435.2 79.8h.5M445.2 79.9h.5M440.9 76.7h.5M444.5 76.6h.5M447.9 93.8h.5M441.1 90.1h.5M445.2 78.7h.5M441.0 77.3h.5M443.7 85.5h.5M448.5 80.6h.5M435.9 81.6h.5M452.9 83.4h.5M442.6 71.8h.5M440.4 84.7h.5M437.4 88.6h.5M439.7 77.7h.5M439.6 81.6h.5M448.9 79.2h.5M432.5 81.6h.5M446.1 89.6h.5M436.4 89.3h.5M447.0 84.2h.5M438.5 77.7h.5M437.4 86.6h.5M444.3 87.3h.5M453.7 82.1h.5M442.7 91.4h.5M435.3 79.8h.5M440.8 80.2h.5M443.8 77.9h.5M449.9 75.3h.5M438.2 73.7h.5M434.7 84.9h.5M446.7 81.1h.5M448.0 85.0h.5M439.6 81.8h.5M445.2 91.9h.5M440.4 83.8h.5M446.2 88.0h.5M445.5 87.3h.5M436.7 80.7h.5M431.6 81.8h.5M456.8 83.2h.5M443.5 83.3h.5M443.9 75.5h.5M438.9 81.2h.5M444.0 77.8h.5M442.4 78.4h.5M435.2 78.8h.5M438.3 86.1h.5M450.9 84.9h.5M441.8 79.3h.5M433.7 79.5h.5M452.2 87.7h.5M444.3 80.8h.5M443.0 84.1h.5M443.0 84.1h.5M438.5 82.3h.5M440.9 87.3h.5M435.7 88.4h.5M442.5 79.6h.5M443.1 82.6h.5M441.6 84.1h.5M439.6 73.8h.5M447.1 81.9h.5M452.8 83.9h.5M431.2 88.1h.5M438.9 84.7h.5M456.1 87.4h.5M436.6 81.6h.5M433.5 85.3h.5M446.3 77.0h.5M445.7 86.6h.5M447.8 78.8h.5M438.9 76.6h.5M435.4 83.6h.5M443.2 88.4h.5M444.6 80.5h.5M434.6 89.6h.5M444.0 81.9h.5M437.1 76.9h.5M446.7 77.3h.5M446.4 85.1h.5M440.8 74.1h.5M445.4 88.9h.5M438.1 75.9h.5M449.4 82.7h.5M439.3 88.0h.5M441.4 84.2h.5M440.6 78.4h.5M458.7 82.1h.5M445.6 95.6h.5M422.7 93.5h.5M420.1 99.1h.5M417.8 93.3h.5M436.2 78.7h.5M437.6 87.3h.5M438.7 77.1h.5M444.4 81.9h.5M468.2 84.1h.5M439.7 80.0h.5M468.2 82.5h.5M451.0 96.3h.5M437.5 94.2h.5M431.4 76.8h.5M418.8 85.9h.5M463.2 79.3h.5M440.0 94.4h.5M431.2 77.9h.5M444.2 85.3h.5M466.6 98.0h.5M429.2 88.9h.5M438.7 74.7h.5M440.2 98.5h.5M432.7 89.6h.5M454.4 75.5h.5M465.8 76.7h.5M432.6 93.1h.5M417.5 83.9h.5M423.3 86.6h.5M417.3 77.9h.5M428.4 76.0h.5M421.3 79.1h.5M444.1 77.5h.5M460.3 85.1h.5" stroke="#222" stroke-width=".5" opacity=".8"/>
<path d="M456.1 69.3L459.6 60.4H465.8V71.0L462.5 70.4ZM456.1 69.3L462.5 70.4V78.2L455.2 77.0ZM462.5 71.0H465.8V86.6H462.5Z" fill="none" stroke="#333" stroke-width="0.6"/>
<rect x="450.3" y="76.8" width="11.2" height="17.2" rx="1.6" fill="none" stroke="#333" stroke-width="0.6"/>
<text x="462.6" y="59.0" font-size="3.7" fill="#222" text-anchor="middle" >1.8</text>
<text x="450.5" y="74.4" font-size="3.7" fill="#222" text-anchor="middle" >0.5</text>
<text x="467.2" y="92.5" font-size="3.7" fill="#222" text-anchor="middle" >3.7</text>
<text x="454.3" y="98.7" font-size="3.7" fill="#222" text-anchor="middle" >6.6</text>
<rect x="186.2" y="114.9" width="59.4" height="58.0" fill="none" stroke="#c4c4c4" stroke-width="0.8"/>
<text x="180.5" y="121.6" font-size="4.6" fill="#222" text-anchor="end" >10<tspan font-size="2.6" dy="-1.6">5</tspan></text>
<line x1="184.6" y1="120.5" x2="186.2" y2="120.5" stroke="#333" stroke-width="0.6" />
<text x="180.5" y="132.1" font-size="4.6" fill="#222" text-anchor="end" >10<tspan font-size="2.6" dy="-1.6">4</tspan></text>
<line x1="184.6" y1="130.5" x2="186.2" y2="130.5" stroke="#333" stroke-width="0.6" />
<text x="180.5" y="143.4" font-size="4.6" fill="#222" text-anchor="end" >10<tspan font-size="2.6" dy="-1.6">3</tspan></text>
<line x1="184.6" y1="141.5" x2="186.2" y2="141.5" stroke="#333" stroke-width="0.6" />
<text x="180.5" y="155.2" font-size="4.6" fill="#222" text-anchor="end" >10<tspan font-size="2.6" dy="-1.6">2</tspan></text>
<line x1="184.6" y1="153.5" x2="186.2" y2="153.5" stroke="#333" stroke-width="0.6" />
<text x="182.0" y="160.6" font-size="4.6" fill="#222" text-anchor="end" >0</text>
<line x1="184.6" y1="159.5" x2="186.2" y2="159.5" stroke="#333" stroke-width="0.6" />
<text x="180.5" y="166.0" font-size="4.6" fill="#222" text-anchor="end" >-10<tspan font-size="2.6" dy="-1.6">2</tspan></text>
<line x1="184.6" y1="164.5" x2="186.2" y2="164.5" stroke="#333" stroke-width="0.6" />
<rect x="184.8" y="158.1" width="1.6" height="2.0" fill="#111" />
<path d="M185.4 117.9V170.9" stroke="#555" stroke-width="0.8" stroke-dasharray="0.4 1.6"/>
<path d="M188.2 174.1H242.2" stroke="#555" stroke-width="1" stroke-dasharray="0.4 2.2"/>
<rect x="200.2" y="173.4" width="11.0" height="1.2" fill="#222" />
<text x="190.0" y="182.2" font-size="4.6" fill="#222" text-anchor="middle" >-10<tspan font-size="2.6" dy="-1.6">3</tspan></text>
<text x="206.2" y="182.2" font-size="4.6" fill="#222" text-anchor="middle" >0</text>
<text x="224.6" y="182.2" font-size="4.6" fill="#222" text-anchor="middle" >10<tspan font-size="2.6" dy="-1.6">3</tspan></text>
<text x="236.2" y="182.2" font-size="4.6" fill="#222" text-anchor="middle" >10<tspan font-size="2.6" dy="-1.6">4</tspan></text>
<ellipse cx="203.5" cy="158.0" rx="9.0" ry="5.4" transform="rotate(-8 203.5 158.0)" fill="#000" filter="url(#bl)" opacity="1"/>
<ellipse cx="212.5" cy="154.0" rx="8.0" ry="4.8" transform="rotate(-15 212.5 154.0)" fill="#000" filter="url(#bl)" opacity="0.7"/>
<ellipse cx="231.0" cy="153.0" rx="2.6" ry="3.8" transform="rotate(0 231.0 153.0)" fill="#000" filter="url(#bl)" opacity="1"/>
<ellipse cx="236.5" cy="140.0" rx="1.8" ry="4.0" transform="rotate(0 236.5 140.0)" fill="#000" filter="url(#bl)" opacity="0.5"/>
<path d="M207.6 160.2h.5M208.2 155.0h.5M206.4 154.3h.5M214.8 153.4h.5M192.3 153.3h.5M209.6 157.1h.5M202.0 151.0h.5M205.1 152.8h.5M201.6 157.5h.5M201.0 159.2h.5M200.6 155.4h.5M206.4 163.8h.5M220.7 158.8h.5M201.0 157.7h.5M215.2 159.1h.5M193.6 158.7h.5M201.6 161.2h.5M211.8 153.1h.5M224.3 152.2h.5M226.9 152.2h.5M207.9 165.6h.5M202.3 155.1h.5M219.1 154.3h.5M209.9 150.0h.5M222.5 158.6h.5M210.5 159.4h.5M202.5 155.1h.5M194.4 160.6h.5M217.9 158.8h.5M215.1 158.6h.5M198.4 151.8h.5M212.4 156.4h.5M214.9 153.9h.5M200.2 159.9h.5M201.1 149.7h.5M201.3 153.3h.5M197.4 155.6h.5M216.7 166.3h.5M220.8 152.1h.5M216.3 154.6h.5M209.8 152.8h.5M205.0 148.8h.5M221.1 150.4h.5M211.3 153.0h.5M208.3 150.7h.5M204.7 161.4h.5M210.3 146.6h.5M212.9 149.2h.5M209.8 158.6h.5M201.5 156.0h.5M205.3 158.8h.5M215.6 161.6h.5M211.3 165.5h.5M200.7 166.3h.5M205.5 160.6h.5M206.1 157.2h.5M199.8 159.7h.5M223.7 154.4h.5M206.8 156.6h.5M212.7 154.6h.5M207.2 157.6h.5M218.5 159.2h.5M197.9 155.1h.5M207.9 160.5h.5M214.8 154.2h.5M224.3 152.7h.5M219.7 161.2h.5M220.3 155.2h.5M210.5 148.6h.5M191.9 156.3h.5M213.8 160.5h.5M207.0 161.6h.5M213.0 162.9h.5M193.3 155.0h.5M198.3 153.1h.5M219.8 149.9h.5M199.9 155.9h.5M213.9 153.1h.5M213.5 158.1h.5M199.8 146.5h.5M198.5 152.1h.5M219.8 150.9h.5M198.5 159.9h.5M206.7 152.1h.5M216.7 159.3h.5M208.7 152.6h.5M198.2 148.3h.5M210.5 157.9h.5M199.5 158.0h.5M233.0 146.6h.5M193.5 161.9h.5M203.1 154.9h.5M212.0 155.1h.5M215.6 157.5h.5M216.6 155.5h.5M190.4 166.0h.5M193.9 163.9h.5M207.9 149.7h.5M208.3 160.6h.5M198.7 158.2h.5M200.1 152.9h.5M203.0 163.4h.5M212.6 155.4h.5M206.4 157.3h.5M209.5 157.0h.5M193.7 163.4h.5M197.8 145.6h.5M211.8 149.9h.5M205.8 156.3h.5M202.6 159.9h.5M204.5 155.6h.5M198.9 156.6h.5M198.5 158.3h.5M218.7 159.4h.5M209.4 149.6h.5M216.2 159.4h.5M222.1 143.0h.5M206.9 155.0h.5M215.1 149.9h.5M205.8 168.0h.5M213.5 145.8h.5M208.3 162.9h.5M202.4 160.2h.5M206.6 149.6h.5M202.8 162.8h.5M216.3 152.0h.5M215.7 151.6h.5M209.0 156.1h.5M197.0 159.9h.5M201.5 144.2h.5M199.5 153.8h.5M199.3 153.2h.5M199.3 146.0h.5M214.4 155.6h.5M208.9 154.9h.5M207.3 155.2h.5M196.8 151.0h.5M208.5 161.2h.5M210.3 163.8h.5M195.6 157.3h.5M202.9 163.2h.5M220.5 151.6h.5M212.8 154.3h.5M198.7 157.5h.5M199.7 165.3h.5M212.9 161.3h.5M207.9 144.6h.5M213.7 155.8h.5M187.5 160.5h.5M216.7 163.1h.5M199.2 161.7h.5M209.6 155.2h.5M205.1 159.4h.5M212.3 158.8h.5M202.6 150.9h.5M218.9 160.7h.5M202.3 157.2h.5M212.2 147.1h.5M213.1 167.2h.5M208.7 152.8h.5M223.8 153.6h.5M208.4 154.2h.5M207.0 147.8h.5M195.2 151.4h.5M214.4 154.8h.5M214.8 145.2h.5M203.3 164.3h.5M198.9 148.9h.5M200.6 156.0h.5M208.0 162.7h.5M219.2 161.9h.5M211.4 153.3h.5M201.7 150.3h.5M218.5 160.6h.5M207.0 152.2h.5M213.0 157.8h.5M207.3 150.8h.5M208.5 153.5h.5M213.6 158.3h.5M210.3 153.9h.5M220.2 158.0h.5M218.1 158.6h.5M212.8 157.4h.5M196.7 149.5h.5M199.8 160.8h.5M214.6 156.1h.5M209.3 165.0h.5M202.2 148.7h.5M194.0 157.2h.5M213.4 159.0h.5M205.9 160.7h.5M206.0 153.2h.5M204.5 160.6h.5M213.9 149.8h.5M199.0 158.5h.5M223.5 147.9h.5M197.1 160.3h.5M210.7 152.9h.5M207.2 158.8h.5M192.7 158.9h.5M212.7 160.0h.5M216.5 154.5h.5M196.3 164.9h.5M212.8 152.4h.5M216.4 159.9h.5M203.9 145.6h.5M202.5 153.6h.5M200.1 157.3h.5M198.5 159.9h.5M221.5 148.2h.5M215.1 152.5h.5M211.4 155.1h.5M216.9 151.3h.5M212.4 151.8h.5M208.9 156.1h.5M214.6 147.5h.5M197.1 165.0h.5M211.6 164.0h.5M198.7 159.0h.5M213.4 164.0h.5M206.2 154.5h.5M212.8 155.0h.5M201.5 161.2h.5M190.6 154.5h.5M217.7 152.2h.5M204.7 158.7h.5M216.6 157.4h.5M198.6 155.2h.5M215.5 154.4h.5M202.6 161.5h.5M218.2 165.1h.5M197.6 154.7h.5M201.6 159.2h.5M204.0 162.5h.5M201.5 156.1h.5M211.8 156.6h.5M200.0 165.0h.5M211.3 153.3h.5M207.8 151.0h.5M196.7 156.9h.5M210.1 156.5h.5M199.5 151.1h.5M194.6 166.5h.5M209.4 152.2h.5M217.2 157.3h.5M203.1 154.2h.5M216.6 156.4h.5M220.7 155.9h.5M201.7 154.5h.5M201.5 158.7h.5M209.6 159.0h.5M209.8 150.9h.5M204.6 152.3h.5M209.8 149.6h.5M201.5 153.3h.5M201.7 156.2h.5M219.1 153.1h.5M195.1 157.1h.5M213.6 158.0h.5M210.6 165.6h.5M216.1 155.3h.5M215.8 148.4h.5M204.9 152.7h.5M209.8 163.9h.5M204.3 164.7h.5M199.9 164.7h.5M192.5 154.9h.5M215.1 154.6h.5M208.2 156.2h.5M208.3 155.4h.5M198.8 156.5h.5M207.2 152.1h.5M212.3 164.2h.5M193.2 156.3h.5M204.7 157.0h.5M207.2 152.9h.5M206.7 156.6h.5M207.6 163.9h.5M206.8 149.3h.5M194.7 161.5h.5M203.7 154.1h.5M195.7 157.0h.5M205.7 153.4h.5M204.9 161.2h.5M213.8 158.0h.5M204.5 150.3h.5M214.6 162.5h.5M218.3 160.2h.5M209.6 157.9h.5M207.9 162.4h.5M206.6 167.0h.5M213.1 153.9h.5M205.7 148.9h.5M200.8 156.1h.5M226.2 149.1h.5M214.5 155.5h.5M205.1 159.9h.5M191.6 163.8h.5M223.0 155.1h.5M206.6 157.3h.5M212.0 153.2h.5M208.4 158.7h.5M204.5 158.8h.5M210.3 159.4h.5M198.5 155.4h.5M204.5 162.8h.5M207.7 148.3h.5M198.2 167.5h.5M208.7 149.9h.5M199.7 158.5h.5M219.9 162.1h.5M203.8 155.6h.5M221.8 149.1h.5M220.0 155.9h.5M208.8 162.4h.5M210.2 151.9h.5M194.6 158.8h.5M212.3 162.2h.5M213.3 162.8h.5M213.7 156.4h.5M210.8 157.8h.5M201.8 156.9h.5M207.7 154.2h.5M193.9 151.8h.5M211.5 158.2h.5M206.9 150.8h.5M213.6 153.4h.5M191.4 166.9h.5M196.8 169.3h.5M211.0 153.7h.5M187.3 156.5h.5M220.2 160.8h.5M207.7 148.0h.5M203.7 155.7h.5M210.7 155.2h.5M208.4 148.3h.5M203.0 164.2h.5M196.0 163.0h.5M226.3 156.3h.5M196.8 164.4h.5M192.2 160.8h.5M204.7 162.9h.5M216.7 155.7h.5M222.4 158.6h.5M202.3 152.5h.5M226.7 151.1h.5M210.2 155.4h.5M201.8 149.6h.5M205.7 156.2h.5M214.6 152.7h.5M193.4 153.7h.5M206.9 157.7h.5M212.6 153.6h.5M211.5 156.4h.5M220.7 153.8h.5M208.6 159.0h.5M216.1 150.4h.5M202.9 155.9h.5M190.8 165.7h.5M215.7 155.1h.5M235.4 157.7h.5M224.8 161.0h.5M213.2 148.5h.5M219.8 156.3h.5M197.3 158.5h.5M214.0 160.1h.5M208.0 153.8h.5M212.6 151.8h.5M207.0 160.2h.5M195.6 160.3h.5M190.3 154.9h.5M196.9 157.8h.5M212.8 155.2h.5M214.5 155.6h.5M205.7 159.1h.5M205.2 157.5h.5M215.0 152.3h.5M215.4 149.6h.5M203.8 148.6h.5M204.0 164.8h.5M211.0 162.0h.5M194.2 153.8h.5M211.5 159.8h.5M212.4 147.4h.5M211.1 155.4h.5M208.4 158.6h.5M203.3 148.9h.5M197.1 151.2h.5M196.2 157.8h.5M217.0 151.2h.5M199.8 152.1h.5M193.0 159.3h.5M202.8 156.1h.5M199.6 160.2h.5M197.7 160.8h.5M202.3 161.2h.5M200.1 159.9h.5M210.5 155.5h.5M220.5 155.0h.5M200.4 161.1h.5M199.8 155.1h.5M207.3 157.3h.5M219.4 145.8h.5M205.9 162.2h.5M206.0 158.3h.5M218.4 148.5h.5M208.0 160.2h.5M200.8 149.0h.5M199.0 158.9h.5M210.1 165.0h.5M216.5 147.2h.5M216.2 159.4h.5M220.1 153.4h.5M202.6 158.0h.5M220.1 157.2h.5M221.5 157.8h.5M201.4 152.5h.5M220.8 146.6h.5M203.9 155.5h.5M199.1 155.1h.5M209.0 167.8h.5M206.0 154.1h.5M208.8 160.8h.5M200.0 155.7h.5M193.3 162.4h.5M213.8 162.7h.5M199.1 168.6h.5M213.9 153.9h.5M203.6 155.6h.5M197.8 161.9h.5M201.4 153.9h.5M211.3 156.3h.5M202.0 156.2h.5M204.1 163.6h.5M214.6 151.6h.5M207.8 163.1h.5M206.2 165.4h.5M211.2 159.0h.5M190.8 163.5h.5M210.3 158.8h.5M211.4 158.3h.5M203.6 161.5h.5M206.6 151.4h.5M198.8 158.7h.5M207.9 145.5h.5M191.0 164.5h.5M209.3 170.1h.5M194.3 157.5h.5M229.5 154.7h.5M236.3 159.8h.5M228.1 158.0h.5M227.3 153.5h.5M232.1 155.0h.5M228.8 158.5h.5M231.3 151.9h.5M230.6 146.8h.5M234.0 153.6h.5M233.1 161.0h.5M228.5 150.6h.5M231.5 156.1h.5M230.9 156.5h.5M233.1 143.5h.5M229.2 142.2h.5M230.5 150.0h.5M233.5 152.8h.5M231.3 158.1h.5M233.5 146.0h.5M229.1 153.6h.5M237.3 151.0h.5M230.9 153.3h.5M234.2 151.6h.5M232.5 150.0h.5M229.6 148.1h.5M233.8 149.3h.5M233.4 154.0h.5M234.8 139.0h.5M228.2 146.1h.5M230.9 155.9h.5M240.2 159.5h.5M236.1 153.9h.5M230.2 154.6h.5M224.1 156.5h.5M231.5 155.0h.5M228.0 146.7h.5M229.3 151.8h.5M232.7 150.3h.5M232.7 155.3h.5M227.5 151.5h.5M226.2 149.3h.5M234.6 148.5h.5M237.9 154.5h.5M234.5 152.5h.5M234.5 157.3h.5M231.9 149.4h.5M229.6 161.4h.5M230.9 149.8h.5M229.1 143.8h.5M229.8 153.6h.5M229.8 148.3h.5M232.9 154.2h.5M230.0 153.5h.5M228.2 156.2h.5M228.1 150.4h.5M232.0 150.0h.5M227.6 162.2h.5M236.7 143.5h.5M231.9 145.8h.5M232.6 145.7h.5M233.5 154.6h.5M237.3 157.9h.5M229.9 156.6h.5M229.9 151.5h.5M229.8 143.4h.5M233.6 142.1h.5M230.7 154.6h.5M231.9 144.3h.5M229.3 155.3h.5M235.3 159.8h.5M225.3 154.2h.5M229.9 155.7h.5M225.7 151.3h.5M233.9 148.9h.5M230.3 147.2h.5M235.3 145.5h.5M228.4 150.4h.5M230.4 162.3h.5M232.4 147.9h.5M233.5 153.7h.5M232.5 151.7h.5M233.1 146.3h.5M227.4 149.9h.5M227.7 155.4h.5M238.1 158.0h.5M233.0 153.6h.5M229.2 145.7h.5M233.4 144.8h.5M232.5 151.3h.5M234.1 152.2h.5M231.9 149.2h.5M225.6 150.3h.5M233.9 157.1h.5M236.2 147.2h.5M228.3 155.4h.5M229.9 164.5h.5M232.6 144.6h.5M229.6 159.6h.5M225.3 152.7h.5M226.8 159.8h.5M230.0 147.0h.5M225.7 148.5h.5M222.8 149.7h.5M239.0 152.5h.5M230.6 146.3h.5M232.7 149.7h.5M228.6 158.7h.5M233.0 147.7h.5M236.6 151.7h.5M233.2 152.7h.5M235.5 155.0h.5M230.3 155.5h.5M230.2 152.7h.5M237.1 146.8h.5M228.0 150.0h.5M229.8 158.3h.5M226.1 163.2h.5M236.9 149.8h.5M232.1 150.2h.5M233.8 155.2h.5M238.8 143.7h.5M241.7 139.2h.5M238.7 139.1h.5M237.1 141.1h.5M236.9 141.7h.5M234.9 139.3h.5M235.5 134.3h.5M235.3 137.6h.5M236.6 132.4h.5M236.4 134.5h.5M235.0 140.9h.5M239.7 141.4h.5M235.8 137.9h.5M240.3 132.1h.5M239.8 132.7h.5M235.4 140.2h.5M236.5 148.1h.5M238.2 139.8h.5M239.3 140.2h.5M235.0 145.5h.5M240.7 146.2h.5M234.1 149.3h.5M236.0 143.7h.5M239.9 151.6h.5M233.0 135.0h.5M239.9 142.4h.5M236.2 125.7h.5M238.1 139.1h.5M230.6 153.1h.5M230.9 137.3h.5M237.0 141.1h.5M238.8 138.7h.5M234.8 138.2h.5M231.9 134.5h.5M241.8 136.6h.5M236.8 149.3h.5M239.6 140.6h.5M238.8 138.7h.5M234.8 144.9h.5M237.3 147.8h.5M236.4 138.2h.5M237.8 139.1h.5M236.2 135.6h.5M237.6 141.6h.5M241.5 139.9h.5M232.7 142.3h.5M242.6 137.8h.5M235.0 139.2h.5M230.0 138.4h.5M236.5 132.6h.5M238.4 135.7h.5M232.5 136.5h.5M238.6 149.4h.5M240.1 141.0h.5M235.7 138.7h.5M239.4 137.5h.5M238.0 144.7h.5M234.8 137.1h.5M238.1 140.0h.5M236.7 137.4h.5M236.8 149.1h.5M240.3 132.1h.5M237.1 140.5h.5M237.1 133.2h.5M236.7 140.7h.5M235.3 141.5h.5M231.0 132.6h.5M237.2 141.9h.5M236.6 137.8h.5M237.5 145.3h.5M239.2 139.6h.5M235.9 145.2h.5M238.3 144.3h.5M236.3 135.8h.5M237.5 136.9h.5M239.8 144.2h.5M231.6 143.3h.5M240.3 145.1h.5M235.8 135.8h.5M239.4 145.0h.5M237.1 134.4h.5M233.3 141.3h.5M235.0 136.7h.5M238.1 145.1h.5M231.9 136.7h.5M240.2 139.8h.5M236.2 143.1h.5M234.2 134.0h.5M237.1 147.7h.5M239.5 140.0h.5M227.6 143.0h.5M208.9 141.9h.5M224.8 152.2h.5M223.7 146.8h.5M220.2 155.1h.5M217.8 140.2h.5M229.8 140.7h.5M223.9 147.0h.5M229.3 146.5h.5M230.5 145.9h.5M216.6 146.4h.5M224.1 141.7h.5M227.4 144.2h.5M212.4 145.7h.5M223.5 158.2h.5M226.7 146.0h.5M218.1 161.0h.5M218.9 148.7h.5M220.6 156.5h.5M221.4 145.0h.5M220.4 142.0h.5M212.9 149.9h.5M202.1 162.2h.5M233.4 136.5h.5M216.8 139.7h.5M222.7 148.7h.5M223.8 138.6h.5M215.3 146.0h.5M223.8 161.3h.5M219.4 148.3h.5M218.9 153.8h.5M242.3 147.5h.5M230.2 138.0h.5M228.9 145.3h.5M232.4 150.5h.5M222.5 137.0h.5M221.0 144.9h.5M224.4 147.0h.5M225.5 136.3h.5M215.4 149.6h.5M222.6 144.9h.5M220.9 148.4h.5M228.5 144.6h.5M219.1 137.3h.5M198.7 146.9h.5M219.0 134.3h.5M223.8 146.4h.5M219.6 144.0h.5M219.6 153.7h.5M223.6 146.9h.5M217.8 150.5h.5M229.8 144.7h.5M215.9 142.5h.5M219.9 142.7h.5M212.1 156.7h.5M212.3 138.4h.5M219.4 160.1h.5M217.5 141.0h.5M214.3 154.9h.5M224.4 148.1h.5M220.5 151.2h.5M233.4 146.6h.5M217.0 140.7h.5M227.4 155.5h.5M223.3 139.3h.5M225.0 154.7h.5M217.3 152.5h.5M233.2 153.8h.5M205.7 142.6h.5M225.2 150.9h.5M218.3 148.8h.5M220.4 155.8h.5M205.1 155.4h.5M210.2 147.7h.5M207.8 147.1h.5M220.9 148.2h.5M233.8 142.0h.5M224.3 149.0h.5M225.9 155.4h.5M222.3 148.5h.5M220.2 148.3h.5M222.6 153.7h.5M221.3 148.3h.5M222.2 152.3h.5M219.4 154.5h.5M218.2 153.4h.5M235.7 144.1h.5M218.0 141.7h.5M226.5 146.1h.5M226.4 141.9h.5M228.5 156.6h.5M223.3 145.1h.5M211.3 151.5h.5M227.1 149.5h.5M210.6 145.3h.5M211.7 145.0h.5M219.5 150.2h.5M235.7 143.9h.5M228.4 134.9h.5M234.1 148.3h.5M198.4 152.2h.5M199.9 166.1h.5M232.9 165.4h.5M209.6 168.2h.5M203.1 158.4h.5M225.2 149.2h.5M209.6 145.6h.5M231.7 147.9h.5M196.5 150.4h.5M223.4 160.1h.5M217.2 165.9h.5M229.4 148.6h.5M217.8 147.5h.5M202.1 146.9h.5M193.3 152.4h.5M236.5 160.6h.5M193.9 148.8h.5M220.8 157.2h.5M190.6 145.4h.5M219.4 159.1h.5M193.5 163.8h.5M202.0 158.8h.5M217.5 152.1h.5M239.7 153.6h.5M211.8 157.5h.5M234.0 169.6h.5M230.3 157.4h.5M227.5 160.1h.5M240.4 169.1h.5M229.8 148.7h.5M219.6 154.8h.5M201.5 164.0h.5M201.0 162.1h.5M215.3 154.4h.5M226.9 162.5h.5" stroke="#222" stroke-width=".5" opacity=".8"/>
<path d="M230.3 138.4L233.8 129.5H240.0V140.1L236.7 139.5ZM230.3 138.4L236.7 139.5V147.3L229.4 146.1ZM236.7 140.1H240.0V155.7H236.7Z" fill="none" stroke="#333" stroke-width="0.6"/>
<rect x="226.0" y="145.9" width="9.7" height="17.2" rx="1.6" fill="none" stroke="#333" stroke-width="0.6"/>
<text x="236.8" y="128.1" font-size="3.7" fill="#222" text-anchor="middle" >1.8</text>
<text x="224.7" y="143.5" font-size="3.7" fill="#222" text-anchor="middle" >1.2</text>
<text x="241.4" y="161.6" font-size="3.7" fill="#222" text-anchor="middle" >4.3</text>
<text x="228.5" y="167.8" font-size="3.7" fill="#222" text-anchor="middle" >9.9</text>
<rect x="262.0" y="114.9" width="59.4" height="58.0" fill="none" stroke="#c4c4c4" stroke-width="0.8"/>
<text x="256.3" y="121.6" font-size="4.6" fill="#222" text-anchor="end" >10<tspan font-size="2.6" dy="-1.6">5</tspan></text>
<line x1="260.4" y1="120.5" x2="262.0" y2="120.5" stroke="#333" stroke-width="0.6" />
<text x="256.3" y="132.1" font-size="4.6" fill="#222" text-anchor="end" >10<tspan font-size="2.6" dy="-1.6">4</tspan></text>
<line x1="260.4" y1="130.5" x2="262.0" y2="130.5" stroke="#333" stroke-width="0.6" />
<text x="256.3" y="143.4" font-size="4.6" fill="#222" text-anchor="end" >10<tspan font-size="2.6" dy="-1.6">3</tspan></text>
<line x1="260.4" y1="141.5" x2="262.0" y2="141.5" stroke="#333" stroke-width="0.6" />
<text x="256.3" y="155.2" font-size="4.6" fill="#222" text-anchor="end" >10<tspan font-size="2.6" dy="-1.6">2</tspan></text>
<line x1="260.4" y1="153.5" x2="262.0" y2="153.5" stroke="#333" stroke-width="0.6" />
<text x="257.8" y="160.6" font-size="4.6" fill="#222" text-anchor="end" >0</text>
<line x1="260.4" y1="159.5" x2="262.0" y2="159.5" stroke="#333" stroke-width="0.6" />
<text x="256.3" y="166.0" font-size="4.6" fill="#222" text-anchor="end" >-10<tspan font-size="2.6" dy="-1.6">2</tspan></text>
<line x1="260.4" y1="164.5" x2="262.0" y2="164.5" stroke="#333" stroke-width="0.6" />
<rect x="260.6" y="158.1" width="1.6" height="2.0" fill="#111" />
<path d="M261.2 117.9V170.9" stroke="#555" stroke-width="0.8" stroke-dasharray="0.4 1.6"/>
<path d="M264.0 174.1H318.0" stroke="#555" stroke-width="1" stroke-dasharray="0.4 2.2"/>
<rect x="276.0" y="173.4" width="11.0" height="1.2" fill="#222" />
<text x="265.8" y="182.2" font-size="4.6" fill="#222" text-anchor="middle" >-10<tspan font-size="2.6" dy="-1.6">3</tspan></text>
<text x="282.0" y="182.2" font-size="4.6" fill="#222" text-anchor="middle" >0</text>
<text x="300.4" y="182.2" font-size="4.6" fill="#222" text-anchor="middle" >10<tspan font-size="2.6" dy="-1.6">3</tspan></text>
<text x="312.0" y="182.2" font-size="4.6" fill="#222" text-anchor="middle" >10<tspan font-size="2.6" dy="-1.6">4</tspan></text>
<ellipse cx="281.5" cy="157.5" rx="10.0" ry="5.3" transform="rotate(-5 281.5 157.5)" fill="#000" filter="url(#bl)" opacity="1"/>
<ellipse cx="289.5" cy="155.0" rx="6.0" ry="4.0" transform="rotate(-10 289.5 155.0)" fill="#000" filter="url(#bl)" opacity="0.6"/>
<ellipse cx="309.3" cy="152.5" rx="2.5" ry="3.8" transform="rotate(0 309.3 152.5)" fill="#000" filter="url(#bl)" opacity="0.9"/>
<ellipse cx="313.0" cy="141.0" rx="1.6" ry="3.5" transform="rotate(0 313.0 141.0)" fill="#000" filter="url(#bl)" opacity="0.35"/>
<path d="M316.9 153.0h.5M285.9 153.3h.5M278.5 152.6h.5M292.9 154.3h.5M282.8 158.0h.5M273.2 159.0h.5M282.7 159.2h.5M280.6 157.5h.5M289.0 161.2h.5M278.3 162.1h.5M275.2 156.9h.5M285.2 157.6h.5M282.8 161.5h.5M278.4 164.7h.5M268.1 158.8h.5M288.8 156.7h.5M286.7 161.2h.5M277.1 160.4h.5M293.3 155.1h.5M263.0 153.2h.5M276.0 152.7h.5M287.5 152.9h.5M306.2 157.8h.5M272.3 156.7h.5M297.8 159.0h.5M275.4 162.7h.5M280.7 167.8h.5M279.4 160.2h.5M288.8 154.5h.5M283.1 162.6h.5M288.4 156.3h.5M288.7 164.9h.5M292.5 158.5h.5M286.3 149.4h.5M285.0 154.6h.5M290.2 153.6h.5M287.5 151.7h.5M291.6 152.9h.5M284.0 159.8h.5M281.1 157.3h.5M294.1 164.5h.5M267.6 154.1h.5M290.4 160.9h.5M279.8 157.8h.5M283.2 167.9h.5M281.7 151.5h.5M269.7 152.2h.5M295.4 154.2h.5M301.5 158.5h.5M287.7 159.7h.5M291.4 160.7h.5M275.1 155.1h.5M279.2 157.9h.5M281.3 151.4h.5M278.6 166.0h.5M302.4 151.3h.5M287.4 156.5h.5M276.8 161.0h.5M284.1 164.9h.5M287.9 155.2h.5M291.2 153.0h.5M292.1 159.5h.5M268.3 157.4h.5M287.2 160.3h.5M285.4 156.8h.5M280.8 155.9h.5M283.6 152.0h.5M289.6 155.0h.5M288.4 154.2h.5M287.7 157.3h.5M292.1 158.5h.5M292.2 155.5h.5M283.4 155.8h.5M272.8 157.4h.5M294.0 159.8h.5M276.6 159.1h.5M290.1 150.0h.5M287.2 158.3h.5M290.7 157.6h.5M267.8 148.8h.5M301.4 153.6h.5M295.8 162.0h.5M284.3 151.5h.5M296.1 155.8h.5M288.8 158.9h.5M292.9 161.0h.5M270.8 151.5h.5M285.3 156.9h.5M290.8 155.8h.5M283.2 166.7h.5M296.6 161.4h.5M292.9 152.5h.5M283.2 156.7h.5M273.9 153.8h.5M284.9 151.2h.5M289.0 158.8h.5M281.8 155.6h.5M289.5 158.8h.5M286.7 151.0h.5M270.5 167.9h.5M278.1 155.8h.5M267.5 154.7h.5M277.8 161.3h.5M280.1 155.0h.5M277.0 155.5h.5M270.1 159.5h.5M294.6 156.8h.5M279.8 163.4h.5M287.9 151.8h.5M278.7 154.6h.5M284.1 162.7h.5M277.7 156.9h.5M284.5 151.3h.5M280.0 160.3h.5M293.3 147.3h.5M290.1 155.1h.5M295.7 158.9h.5M301.6 156.9h.5M280.2 153.4h.5M271.5 160.7h.5M288.9 160.5h.5M286.5 149.7h.5M280.3 156.2h.5M285.7 160.5h.5M296.7 157.2h.5M265.3 153.8h.5M264.8 155.1h.5M273.5 159.1h.5M282.5 162.4h.5M293.4 154.0h.5M292.4 156.3h.5M288.6 163.0h.5M273.8 157.6h.5M297.3 152.2h.5M286.0 157.5h.5M279.8 151.2h.5M277.5 152.9h.5M293.7 157.3h.5M289.7 150.9h.5M288.5 157.3h.5M293.0 152.8h.5M291.7 162.8h.5M299.6 151.2h.5M273.5 151.0h.5M292.8 159.0h.5M286.7 152.7h.5M295.8 163.6h.5M283.6 156.5h.5M294.8 158.5h.5M295.8 154.1h.5M286.9 155.2h.5M278.8 156.1h.5M281.7 159.6h.5M281.3 157.6h.5M276.3 151.9h.5M296.3 151.3h.5M300.5 160.0h.5M263.5 155.8h.5M280.3 157.4h.5M282.2 154.3h.5M295.1 155.4h.5M292.3 153.0h.5M278.4 163.8h.5M281.1 152.1h.5M282.9 162.1h.5M282.3 153.8h.5M290.0 161.1h.5M282.0 155.7h.5M281.9 169.9h.5M283.1 165.3h.5M282.9 159.0h.5M266.0 159.4h.5M284.3 155.5h.5M279.8 150.9h.5M270.9 158.9h.5M278.3 157.1h.5M282.2 154.8h.5M278.3 166.2h.5M274.0 155.5h.5M280.9 151.8h.5M275.9 161.8h.5M292.3 156.9h.5M313.1 158.4h.5M294.6 152.2h.5M294.3 164.0h.5M281.4 165.7h.5M276.4 152.3h.5M283.3 153.3h.5M289.2 151.3h.5M284.0 147.8h.5M284.2 161.9h.5M281.8 158.7h.5M293.2 151.0h.5M272.8 158.4h.5M286.4 155.5h.5M275.9 163.4h.5M273.6 156.7h.5M283.9 160.4h.5M279.7 153.5h.5M301.5 151.5h.5M291.0 155.7h.5M279.8 157.2h.5M281.9 158.7h.5M284.3 152.4h.5M281.6 168.2h.5M300.6 158.6h.5M286.0 155.4h.5M296.1 153.8h.5M277.1 160.9h.5M275.2 154.1h.5M296.2 148.4h.5M283.5 157.6h.5M285.7 150.0h.5M281.9 155.6h.5M301.5 160.2h.5M277.7 161.7h.5M289.8 156.0h.5M281.8 155.9h.5M270.1 155.3h.5M292.9 163.0h.5M300.3 153.8h.5M288.5 145.3h.5M281.1 151.3h.5M290.6 148.6h.5M274.4 152.6h.5M287.9 160.6h.5M276.6 166.1h.5M285.1 153.0h.5M287.1 156.7h.5M291.5 158.0h.5M303.9 160.8h.5M278.7 161.2h.5M290.4 151.7h.5M277.1 153.8h.5M282.6 162.9h.5M279.1 157.8h.5M290.9 161.0h.5M286.4 151.9h.5M303.9 159.3h.5M296.8 163.5h.5M296.6 157.8h.5M288.5 159.6h.5M271.1 162.0h.5M275.6 159.7h.5M275.4 161.1h.5M280.8 169.0h.5M286.0 159.2h.5M275.9 156.4h.5M283.4 155.7h.5M279.8 153.3h.5M290.6 154.6h.5M277.0 159.3h.5M276.8 156.8h.5M279.2 153.1h.5M281.7 153.3h.5M273.1 159.6h.5M280.8 150.4h.5M280.6 158.2h.5M288.0 158.4h.5M286.5 159.6h.5M279.4 153.7h.5M289.3 154.6h.5M284.4 160.0h.5M292.9 162.0h.5M277.8 155.8h.5M288.4 149.9h.5M273.2 160.8h.5M278.3 153.2h.5M291.4 158.9h.5M292.0 154.7h.5M281.4 155.6h.5M285.9 147.3h.5M278.2 160.8h.5M277.2 157.3h.5M285.4 159.3h.5M279.4 152.1h.5M305.8 151.7h.5M298.5 147.5h.5M285.0 156.0h.5M301.6 165.0h.5M292.3 151.5h.5M276.7 154.1h.5M279.6 158.6h.5M277.0 156.5h.5M297.6 162.6h.5M267.3 154.0h.5M281.3 163.3h.5M281.9 166.1h.5M287.9 163.4h.5M276.4 156.2h.5M293.3 158.9h.5M267.5 157.2h.5M285.9 159.8h.5M279.2 165.6h.5M286.0 163.6h.5M287.7 157.1h.5M280.8 151.8h.5M292.0 159.8h.5M292.2 154.5h.5M275.1 156.0h.5M281.3 157.2h.5M292.4 152.0h.5M280.1 160.6h.5M292.9 166.6h.5M288.4 152.7h.5M274.6 154.1h.5M284.8 158.1h.5M283.3 154.2h.5M282.4 156.8h.5M289.4 156.9h.5M276.5 152.2h.5M297.1 155.5h.5M282.5 157.0h.5M293.9 154.7h.5M285.6 155.8h.5M288.8 151.9h.5M286.3 161.6h.5M294.8 158.9h.5M287.3 164.1h.5M290.9 162.9h.5M273.1 152.8h.5M291.0 155.2h.5M279.9 152.9h.5M296.7 150.3h.5M284.5 150.5h.5M283.5 167.5h.5M305.3 152.8h.5M275.9 165.3h.5M275.9 149.4h.5M286.7 151.7h.5M271.8 163.3h.5M277.3 152.6h.5M285.5 156.0h.5M294.0 156.6h.5M298.6 161.0h.5M300.2 160.8h.5M285.0 159.5h.5M283.7 149.8h.5M274.1 161.3h.5M263.0 155.0h.5M272.8 157.7h.5M275.1 158.9h.5M282.2 155.0h.5M275.8 147.4h.5M284.3 151.0h.5M281.7 158.9h.5M293.6 159.4h.5M296.5 149.3h.5M290.7 163.7h.5M287.2 151.6h.5M287.4 154.3h.5M278.9 162.4h.5M282.1 152.0h.5M279.0 166.6h.5M277.0 160.8h.5M286.2 162.3h.5M281.3 152.8h.5M278.1 152.7h.5M307.0 155.9h.5M281.8 163.1h.5M289.8 155.7h.5M289.7 157.8h.5M294.7 163.8h.5M281.4 157.1h.5M283.0 162.8h.5M287.8 160.3h.5M291.8 153.4h.5M285.8 163.3h.5M292.6 160.0h.5M281.5 155.6h.5M276.5 156.4h.5M283.0 150.4h.5M294.0 152.6h.5M286.6 159.6h.5M278.6 149.1h.5M292.8 158.1h.5M282.4 162.4h.5M291.6 151.9h.5M282.7 148.9h.5M282.4 163.7h.5M277.1 161.5h.5M270.8 156.8h.5M293.1 164.2h.5M288.4 160.2h.5M298.2 144.4h.5M270.0 167.0h.5M306.0 157.9h.5M284.8 158.2h.5M284.2 154.1h.5M284.0 156.4h.5M290.3 159.6h.5M293.0 159.0h.5M276.2 164.2h.5M286.8 154.3h.5M300.1 150.5h.5M273.7 155.6h.5M288.1 160.4h.5M285.4 160.0h.5M277.8 154.7h.5M284.8 150.7h.5M285.6 155.0h.5M289.7 151.8h.5M279.3 154.8h.5M280.6 152.7h.5M281.3 151.0h.5M289.1 159.7h.5M283.9 156.1h.5M276.0 153.2h.5M281.9 153.0h.5M274.0 158.7h.5M283.8 155.1h.5M277.0 157.4h.5M277.9 155.5h.5M286.1 160.2h.5M311.8 148.4h.5M313.1 146.0h.5M309.0 156.7h.5M316.5 151.6h.5M308.5 149.4h.5M306.0 150.4h.5M308.3 147.7h.5M313.0 147.6h.5M314.5 154.7h.5M311.4 148.5h.5M308.1 142.3h.5M310.3 149.8h.5M310.7 148.1h.5M311.0 144.5h.5M303.2 153.1h.5M312.7 137.3h.5M313.3 149.5h.5M309.1 144.3h.5M306.6 154.1h.5M307.4 150.8h.5M309.1 159.7h.5M312.1 145.3h.5M308.2 146.0h.5M305.5 148.0h.5M312.7 151.2h.5M311.5 150.4h.5M308.3 151.4h.5M309.3 159.4h.5M314.8 152.6h.5M311.3 142.4h.5M309.2 161.4h.5M307.2 154.6h.5M313.1 149.3h.5M308.9 149.0h.5M311.9 151.1h.5M313.9 156.2h.5M309.5 162.3h.5M308.6 148.4h.5M308.9 147.2h.5M308.3 150.7h.5M312.1 144.1h.5M305.5 147.6h.5M308.7 153.0h.5M307.3 157.6h.5M308.0 150.1h.5M309.7 156.1h.5M310.4 151.1h.5M308.0 151.7h.5M310.7 149.5h.5M309.5 143.0h.5M308.0 156.2h.5M313.7 150.7h.5M303.3 159.0h.5M309.0 162.2h.5M308.3 155.4h.5M307.8 157.0h.5M312.9 146.4h.5M313.3 163.5h.5M308.9 145.7h.5M310.3 149.3h.5M305.2 146.4h.5M310.2 144.4h.5M312.7 153.0h.5M309.0 157.1h.5M306.9 154.0h.5M305.6 149.6h.5M311.4 148.7h.5M309.2 153.8h.5M313.9 156.7h.5M310.9 149.9h.5M305.4 158.5h.5M315.0 141.6h.5M312.0 150.8h.5M311.6 152.4h.5M309.0 151.0h.5M309.4 156.1h.5M308.8 148.6h.5M311.4 153.8h.5M310.8 152.2h.5M313.8 155.9h.5M310.1 150.1h.5M311.4 142.8h.5M308.0 147.9h.5M310.0 149.3h.5M316.6 154.2h.5M310.7 160.8h.5M309.5 149.6h.5M313.1 154.6h.5M312.2 156.3h.5M308.5 148.1h.5M307.5 151.5h.5M312.4 146.4h.5M308.0 145.2h.5M315.3 154.5h.5M310.2 145.7h.5M306.6 148.2h.5M309.6 145.4h.5M308.9 156.3h.5M309.6 151.4h.5M303.5 149.8h.5M295.5 143.6h.5M286.7 150.7h.5M288.7 147.0h.5M284.9 151.2h.5M303.8 139.7h.5M297.7 137.7h.5M303.9 148.2h.5M296.7 153.0h.5M291.0 149.8h.5M311.7 141.9h.5M291.3 156.6h.5M301.9 143.9h.5M279.5 142.0h.5M288.7 159.6h.5M298.8 141.4h.5M310.4 151.6h.5M292.2 152.1h.5M285.4 153.9h.5M310.0 133.8h.5M297.3 143.3h.5M297.5 147.7h.5M302.1 151.0h.5M304.3 151.2h.5M308.5 150.0h.5M293.4 151.2h.5M293.4 143.5h.5M314.5 142.8h.5M294.2 135.3h.5M297.7 151.9h.5M295.3 144.6h.5M309.4 140.9h.5M295.2 147.4h.5M298.3 153.5h.5M302.6 144.9h.5M294.7 146.8h.5M311.2 140.3h.5M300.2 136.4h.5M302.1 149.8h.5M309.0 145.0h.5M303.4 147.0h.5M310.8 155.1h.5M298.1 141.9h.5M302.7 144.6h.5M304.8 149.4h.5M298.4 144.1h.5M298.1 139.2h.5M298.5 141.3h.5M302.0 146.3h.5M293.9 141.0h.5M297.1 143.1h.5M298.3 151.2h.5M303.2 137.1h.5M308.4 151.7h.5M307.8 145.2h.5M300.8 156.8h.5M292.4 139.5h.5M299.4 148.3h.5M287.3 143.3h.5M314.3 141.8h.5M303.2 141.5h.5M285.5 150.5h.5M307.6 139.3h.5M283.3 151.3h.5M295.9 147.9h.5M289.0 148.3h.5M295.5 153.4h.5M301.1 151.3h.5M293.4 135.4h.5M283.3 155.7h.5M306.9 149.2h.5M293.9 137.4h.5M294.9 150.6h.5M308.6 141.0h.5M292.0 144.4h.5M308.1 148.7h.5M285.8 159.0h.5M287.7 141.6h.5M283.7 147.7h.5M286.7 146.9h.5M300.2 148.8h.5M291.1 139.7h.5M293.4 144.4h.5M283.9 153.0h.5M282.8 141.7h.5M312.3 147.7h.5M310.0 143.4h.5M294.6 147.7h.5M288.5 155.1h.5M299.7 144.5h.5M292.2 164.4h.5M271.2 167.0h.5M315.1 152.1h.5M276.2 146.8h.5M276.7 154.2h.5M302.8 168.2h.5M294.8 168.6h.5M287.8 160.7h.5M265.0 154.2h.5M266.2 146.5h.5M308.2 146.0h.5M281.0 157.1h.5M293.1 143.7h.5M270.9 161.2h.5M286.6 145.4h.5M290.6 153.0h.5M318.4 144.2h.5M274.6 144.9h.5M294.4 168.8h.5M306.5 145.9h.5M293.8 152.6h.5M317.2 162.0h.5M297.3 149.8h.5M288.3 157.1h.5M285.2 158.1h.5M269.8 154.3h.5M317.7 153.7h.5M292.0 163.2h.5M308.4 162.8h.5M285.4 162.1h.5M275.7 159.6h.5M265.9 148.1h.5M274.3 152.4h.5M304.4 143.5h.5M311.8 145.4h.5" stroke="#222" stroke-width=".5" opacity=".8"/>
<path d="M306.1 138.4L309.6 129.5H315.8V140.1L312.5 139.5ZM306.1 138.4L312.5 139.5V147.3L305.2 146.1ZM312.5 140.1H315.8V155.7H312.5Z" fill="none" stroke="#333" stroke-width="0.6"/>
<rect x="301.8" y="145.9" width="9.7" height="17.2" rx="1.6" fill="none" stroke="#333" stroke-width="0.6"/>
<text x="312.6" y="128.1" font-size="3.7" fill="#222" text-anchor="middle" >0.6</text>
<text x="300.5" y="143.5" font-size="3.7" fill="#222" text-anchor="middle" >0.9</text>
<text x="317.2" y="161.6" font-size="3.7" fill="#222" text-anchor="middle" >2.2</text>
<text x="304.3" y="167.8" font-size="3.7" fill="#222" text-anchor="middle" >9.1</text>
<rect x="338.1" y="114.9" width="59.4" height="58.0" fill="none" stroke="#c4c4c4" stroke-width="0.8"/>
<text x="332.4" y="121.6" font-size="4.6" fill="#222" text-anchor="end" >10<tspan font-size="2.6" dy="-1.6">5</tspan></text>
<line x1="336.5" y1="120.5" x2="338.1" y2="120.5" stroke="#333" stroke-width="0.6" />
<text x="332.4" y="132.1" font-size="4.6" fill="#222" text-anchor="end" >10<tspan font-size="2.6" dy="-1.6">4</tspan></text>
<line x1="336.5" y1="130.5" x2="338.1" y2="130.5" stroke="#333" stroke-width="0.6" />
<text x="332.4" y="143.4" font-size="4.6" fill="#222" text-anchor="end" >10<tspan font-size="2.6" dy="-1.6">3</tspan></text>
<line x1="336.5" y1="141.5" x2="338.1" y2="141.5" stroke="#333" stroke-width="0.6" />
<text x="332.4" y="155.2" font-size="4.6" fill="#222" text-anchor="end" >10<tspan font-size="2.6" dy="-1.6">2</tspan></text>
<line x1="336.5" y1="153.5" x2="338.1" y2="153.5" stroke="#333" stroke-width="0.6" />
<text x="333.9" y="160.6" font-size="4.6" fill="#222" text-anchor="end" >0</text>
<line x1="336.5" y1="159.5" x2="338.1" y2="159.5" stroke="#333" stroke-width="0.6" />
<text x="332.4" y="166.0" font-size="4.6" fill="#222" text-anchor="end" >-10<tspan font-size="2.6" dy="-1.6">2</tspan></text>
<line x1="336.5" y1="164.5" x2="338.1" y2="164.5" stroke="#333" stroke-width="0.6" />
<rect x="336.7" y="158.1" width="1.6" height="2.0" fill="#111" />
<path d="M337.3 117.9V170.9" stroke="#555" stroke-width="0.8" stroke-dasharray="0.4 1.6"/>
<path d="M340.1 174.1H394.1" stroke="#555" stroke-width="1" stroke-dasharray="0.4 2.2"/>
<rect x="352.1" y="173.4" width="11.0" height="1.2" fill="#222" />
<text x="341.9" y="182.2" font-size="4.6" fill="#222" text-anchor="middle" >-10<tspan font-size="2.6" dy="-1.6">3</tspan></text>
<text x="358.1" y="182.2" font-size="4.6" fill="#222" text-anchor="middle" >0</text>
<text x="376.5" y="182.2" font-size="4.6" fill="#222" text-anchor="middle" >10<tspan font-size="2.6" dy="-1.6">3</tspan></text>
<text x="388.1" y="182.2" font-size="4.6" fill="#222" text-anchor="middle" >10<tspan font-size="2.6" dy="-1.6">4</tspan></text>
<ellipse cx="355.0" cy="158.5" rx="9.0" ry="4.2" transform="rotate(-5 355.0 158.5)" fill="#000" filter="url(#bl)" opacity="1"/>
<ellipse cx="361.0" cy="151.0" rx="8.0" ry="4.5" transform="rotate(-10 361.0 151.0)" fill="#000" filter="url(#bl)" opacity="0.65"/>
<ellipse cx="381.5" cy="152.0" rx="2.3" ry="5.0" transform="rotate(0 381.5 152.0)" fill="#000" filter="url(#bl)" opacity="1"/>
<ellipse cx="383.5" cy="140.0" rx="2.0" ry="5.0" transform="rotate(0 383.5 140.0)" fill="#000" filter="url(#bl)" opacity="0.55"/>
<path d="M378.1 147.6h.5M344.1 149.3h.5M366.7 151.4h.5M359.3 153.5h.5M359.3 146.2h.5M358.4 151.6h.5M367.9 157.3h.5M346.5 150.9h.5M364.0 161.2h.5M364.6 153.2h.5M365.7 140.0h.5M352.7 150.0h.5M349.7 159.5h.5M360.7 156.3h.5M357.5 158.7h.5M364.4 150.7h.5M365.4 148.5h.5M372.2 145.3h.5M354.8 149.0h.5M359.5 162.6h.5M353.1 166.2h.5M370.5 155.5h.5M353.8 161.0h.5M366.3 153.6h.5M378.9 148.1h.5M346.5 155.3h.5M364.5 164.2h.5M343.1 158.0h.5M368.4 149.5h.5M353.2 148.5h.5M365.4 158.9h.5M363.4 155.7h.5M366.6 153.1h.5M365.0 158.9h.5M369.7 156.4h.5M359.4 159.0h.5M343.3 146.6h.5M372.2 153.8h.5M348.6 152.9h.5M356.9 155.6h.5M352.3 161.7h.5M350.1 166.0h.5M362.5 144.4h.5M347.6 156.8h.5M360.1 152.2h.5M358.4 155.9h.5M348.3 156.7h.5M377.3 148.4h.5M349.9 160.1h.5M370.6 159.4h.5M352.6 155.3h.5M359.7 153.5h.5M362.5 160.8h.5M362.9 154.3h.5M357.8 165.7h.5M349.1 168.2h.5M364.6 154.6h.5M353.2 166.6h.5M369.4 158.8h.5M374.8 141.9h.5M358.7 153.1h.5M351.8 156.3h.5M363.2 157.4h.5M355.8 147.4h.5M363.5 157.9h.5M377.4 157.8h.5M357.3 148.2h.5M381.4 147.7h.5M360.5 159.1h.5M363.6 162.2h.5M348.5 152.2h.5M358.6 147.6h.5M353.9 163.8h.5M360.6 154.0h.5M353.2 156.0h.5M356.9 148.7h.5M364.0 146.5h.5M369.1 151.4h.5M359.9 149.5h.5M375.1 160.9h.5M377.3 157.6h.5M369.5 149.8h.5M369.2 150.8h.5M356.6 147.0h.5M359.0 157.3h.5M356.7 148.6h.5M366.8 159.2h.5M358.0 159.7h.5M366.0 148.0h.5M356.3 144.1h.5M349.4 158.8h.5M350.7 158.4h.5M359.6 142.4h.5M355.1 164.5h.5M358.3 155.7h.5M350.6 146.4h.5M355.8 150.1h.5M357.5 143.4h.5M371.9 163.3h.5M351.7 157.8h.5M350.9 161.2h.5M350.5 155.2h.5M370.1 156.5h.5M354.0 146.4h.5M345.0 164.1h.5M362.7 154.7h.5M369.4 154.3h.5M351.6 155.3h.5M357.2 155.0h.5M380.7 155.3h.5M360.3 153.2h.5M351.2 150.0h.5M341.0 154.6h.5M343.1 145.9h.5M348.1 144.2h.5M371.4 160.6h.5M351.2 168.3h.5M361.9 139.2h.5M357.5 149.0h.5M342.4 155.6h.5M368.7 156.2h.5M344.5 152.9h.5M352.3 162.7h.5M356.4 149.3h.5M348.3 144.4h.5M351.3 161.4h.5M341.2 158.5h.5M357.8 160.0h.5M348.6 161.8h.5M373.9 166.6h.5M343.5 156.8h.5M356.3 156.0h.5M350.0 161.3h.5M380.3 161.0h.5M349.1 152.8h.5M364.7 154.9h.5M352.3 163.3h.5M363.6 160.4h.5M357.6 162.8h.5M353.0 148.9h.5M356.8 146.7h.5M369.9 157.8h.5M343.2 158.1h.5M365.4 151.8h.5M361.3 151.0h.5M357.4 154.6h.5M361.6 148.6h.5M348.2 158.4h.5M354.0 158.7h.5M352.5 147.8h.5M364.9 155.6h.5M364.3 152.1h.5M355.9 163.0h.5M344.4 167.5h.5M362.6 154.0h.5M359.4 158.5h.5M351.4 157.6h.5M348.0 145.2h.5M359.9 155.3h.5M364.3 157.5h.5M365.0 158.8h.5M349.6 163.6h.5M381.6 148.3h.5M347.3 160.7h.5M367.1 159.9h.5M370.6 144.8h.5M361.8 157.3h.5M368.5 148.1h.5M357.9 152.8h.5M356.5 154.3h.5M355.2 144.6h.5M357.8 155.4h.5M351.6 134.3h.5M351.3 152.0h.5M351.6 165.6h.5M366.2 152.7h.5M349.7 159.0h.5M353.9 164.6h.5M367.9 152.9h.5M362.9 149.5h.5M344.5 162.0h.5M372.4 151.1h.5M351.8 145.0h.5M376.3 145.1h.5M349.2 155.1h.5M368.9 153.8h.5M357.9 155.1h.5M365.6 153.7h.5M359.4 154.4h.5M349.2 164.4h.5M350.7 148.0h.5M354.1 155.7h.5M364.1 145.2h.5M346.8 157.7h.5M360.5 148.0h.5M348.0 157.5h.5M355.4 145.5h.5M351.4 165.0h.5M349.4 162.6h.5M345.5 165.8h.5M371.8 149.2h.5M352.4 159.6h.5M347.4 159.8h.5M369.2 155.0h.5M360.8 153.6h.5M366.3 148.8h.5M372.3 152.9h.5M353.7 145.7h.5M354.3 157.0h.5M367.8 143.8h.5M356.3 151.1h.5M347.3 156.5h.5M351.9 161.1h.5M339.3 145.8h.5M362.4 152.3h.5M358.4 149.1h.5M348.0 151.9h.5M356.8 150.1h.5M353.5 150.4h.5M359.1 147.9h.5M357.9 155.6h.5M366.0 149.4h.5M346.6 147.5h.5M364.3 150.3h.5M366.8 153.3h.5M354.0 144.2h.5M352.6 160.6h.5M353.1 159.8h.5M344.1 163.1h.5M383.9 158.2h.5M359.8 147.2h.5M352.7 151.8h.5M358.0 142.7h.5M350.9 160.8h.5M359.9 159.2h.5M364.7 147.1h.5M346.3 159.5h.5M358.4 155.4h.5M351.6 162.1h.5M363.4 161.2h.5M355.4 159.6h.5M356.7 149.5h.5M355.9 145.2h.5M356.5 156.3h.5M363.3 147.8h.5M345.5 152.3h.5M338.9 153.7h.5M381.5 152.6h.5M350.6 151.9h.5M372.8 145.8h.5M356.9 154.7h.5M350.8 151.6h.5M342.3 152.1h.5M370.8 161.8h.5M356.1 159.6h.5M362.2 155.1h.5M357.8 162.4h.5M362.9 152.9h.5M356.7 160.9h.5M352.1 151.5h.5M355.1 152.4h.5M369.6 155.5h.5M356.8 152.0h.5M371.0 155.8h.5M377.4 157.8h.5M355.6 152.0h.5M355.6 156.4h.5M365.5 156.9h.5M370.8 144.0h.5M357.1 146.5h.5M348.3 152.7h.5M351.4 150.0h.5M345.4 163.7h.5M355.9 161.2h.5M346.2 142.6h.5M353.4 161.0h.5M353.3 158.1h.5M349.5 164.7h.5M362.7 160.7h.5M356.6 163.0h.5M358.2 152.0h.5M352.3 156.1h.5M348.9 149.0h.5M359.8 159.1h.5M356.1 160.4h.5M371.1 145.5h.5M359.5 148.9h.5M352.4 156.9h.5M366.0 157.2h.5M365.3 165.0h.5M355.6 162.0h.5M371.3 156.1h.5M341.9 156.3h.5M354.0 145.7h.5M358.1 159.6h.5M355.5 154.2h.5M370.6 149.5h.5M349.6 156.4h.5M368.5 157.1h.5M358.2 152.0h.5M369.8 158.7h.5M342.8 159.2h.5M362.9 150.5h.5M346.2 154.8h.5M342.8 160.6h.5M351.9 145.1h.5M358.8 162.1h.5M346.3 154.5h.5M374.4 153.8h.5M353.2 156.8h.5M364.1 148.0h.5M355.7 145.4h.5M342.5 147.8h.5M365.8 155.8h.5M365.6 161.3h.5M358.6 156.3h.5M362.0 157.3h.5M348.3 154.7h.5M356.7 155.4h.5M351.2 155.1h.5M360.7 155.7h.5M363.9 159.1h.5M363.8 160.0h.5M366.7 162.2h.5M363.1 150.5h.5M379.7 158.8h.5M369.8 157.8h.5M357.5 148.1h.5M361.6 152.3h.5M352.6 142.8h.5M370.9 146.1h.5M348.6 159.1h.5M362.4 149.6h.5M358.1 156.5h.5M359.8 157.9h.5M364.6 151.8h.5M345.3 169.9h.5M353.7 149.6h.5M365.2 157.5h.5M354.4 169.8h.5M357.9 156.9h.5M360.6 153.2h.5M359.7 146.8h.5M356.0 166.5h.5M365.5 151.5h.5M351.6 146.8h.5M356.8 154.1h.5M351.0 146.5h.5M359.7 157.3h.5M368.6 156.6h.5M372.6 160.2h.5M356.2 148.9h.5M362.7 160.2h.5M343.1 149.6h.5M363.7 150.8h.5M371.2 154.5h.5M352.0 147.8h.5M361.9 144.0h.5M345.2 148.8h.5M374.6 163.0h.5M355.7 153.0h.5M365.3 161.5h.5M352.6 169.1h.5M357.1 162.0h.5M353.4 167.7h.5M355.0 147.7h.5M374.9 148.5h.5M356.9 147.5h.5M364.2 155.3h.5M355.1 153.0h.5M352.3 151.4h.5M346.4 164.0h.5M364.8 145.6h.5M347.9 158.9h.5M378.1 150.9h.5M355.0 153.9h.5M360.1 153.6h.5M368.5 159.5h.5M364.2 163.7h.5M355.5 152.0h.5M383.0 139.7h.5M342.1 142.9h.5M360.3 148.2h.5M365.7 141.1h.5M356.4 152.8h.5M349.3 163.0h.5M354.8 158.2h.5M353.4 156.6h.5M354.0 156.0h.5M356.5 151.1h.5M361.7 153.3h.5M348.4 150.0h.5M363.1 162.4h.5M345.9 154.2h.5M362.9 160.6h.5M363.4 147.0h.5M359.1 160.3h.5M359.9 153.3h.5M347.5 157.5h.5M357.4 155.3h.5M372.4 160.2h.5M351.1 157.4h.5M355.3 156.0h.5M373.4 158.4h.5M357.8 151.0h.5M356.8 157.4h.5M354.4 162.2h.5M357.2 147.9h.5M373.9 135.1h.5M355.5 154.6h.5M367.8 160.4h.5M372.3 162.5h.5M360.9 155.3h.5M367.1 153.6h.5M346.3 153.9h.5M364.4 157.8h.5M349.1 163.5h.5M359.5 145.6h.5M363.0 160.4h.5M362.5 152.5h.5M351.8 162.7h.5M360.0 154.7h.5M353.6 149.3h.5M340.9 155.3h.5M368.6 158.2h.5M353.2 165.0h.5M355.1 149.3h.5M367.9 162.0h.5M353.5 148.2h.5M355.4 140.6h.5M359.7 164.0h.5M359.8 150.3h.5M363.9 151.2h.5M369.0 151.3h.5M375.9 150.3h.5M358.9 149.2h.5M378.1 150.4h.5M383.1 141.2h.5M383.7 145.1h.5M380.3 147.5h.5M383.2 153.1h.5M385.7 150.7h.5M379.8 143.2h.5M383.1 139.6h.5M381.5 145.3h.5M381.7 149.3h.5M385.1 159.5h.5M384.7 155.1h.5M378.8 155.3h.5M385.9 138.5h.5M389.6 144.0h.5M374.8 160.4h.5M382.2 142.4h.5M380.3 155.5h.5M382.8 145.4h.5M385.5 141.4h.5M379.4 144.1h.5M379.7 152.8h.5M381.3 140.6h.5M380.6 134.1h.5M382.5 148.7h.5M383.8 146.3h.5M383.2 141.4h.5M382.1 149.1h.5M378.3 152.1h.5M382.4 148.4h.5M380.6 162.0h.5M382.0 142.6h.5M379.4 152.1h.5M381.4 142.5h.5M379.8 154.5h.5M382.3 155.4h.5M381.9 139.7h.5M384.6 150.2h.5M380.0 145.8h.5M379.1 153.8h.5M380.7 151.3h.5M382.8 146.2h.5M383.1 146.3h.5M378.4 145.1h.5M378.5 153.3h.5M384.0 143.9h.5M383.9 149.7h.5M384.9 141.5h.5M382.1 141.0h.5M379.9 157.6h.5M376.0 141.6h.5M383.5 153.4h.5M379.6 133.8h.5M376.8 150.6h.5M385.3 154.4h.5M379.8 157.5h.5M381.4 152.3h.5M381.4 159.1h.5M380.4 133.0h.5M381.1 149.3h.5M382.8 143.0h.5M381.3 140.1h.5M381.3 148.6h.5M382.7 159.5h.5M376.0 151.6h.5M383.3 139.9h.5M382.2 147.9h.5M379.0 153.0h.5M387.7 152.7h.5M384.3 155.5h.5M381.6 154.8h.5M379.6 149.2h.5M384.1 157.1h.5M381.1 146.0h.5M383.4 147.4h.5M382.4 153.6h.5M379.7 154.1h.5M383.1 146.2h.5M378.3 143.6h.5M381.9 154.6h.5M376.1 153.0h.5M382.6 140.1h.5M384.6 150.8h.5M383.3 141.2h.5M378.7 154.3h.5M386.2 150.5h.5M381.4 144.9h.5M376.9 154.9h.5M381.7 156.6h.5M379.8 155.3h.5M379.9 152.1h.5M386.1 143.1h.5M384.7 147.9h.5M379.2 149.4h.5M383.9 143.0h.5M381.2 144.0h.5M379.7 146.5h.5M384.5 144.5h.5M385.7 145.4h.5M379.9 155.4h.5M386.2 143.5h.5M383.7 139.9h.5M380.8 145.4h.5M384.1 139.3h.5M380.5 143.2h.5M382.3 139.5h.5M378.0 167.6h.5M382.6 137.6h.5M384.5 138.9h.5M376.4 159.6h.5M385.7 142.2h.5M378.8 151.3h.5M388.0 152.2h.5M384.0 139.8h.5M376.7 150.7h.5M385.0 148.9h.5M382.0 157.6h.5M379.5 155.6h.5M384.5 143.7h.5M382.4 148.8h.5M383.7 141.2h.5M381.3 148.6h.5M382.1 148.1h.5M382.7 146.7h.5M380.5 155.1h.5M380.1 145.8h.5M379.4 140.1h.5M383.3 147.7h.5M381.6 151.1h.5M381.5 152.7h.5M387.3 150.4h.5M381.2 159.4h.5M384.1 136.5h.5M385.9 149.5h.5M384.5 140.0h.5M379.5 143.5h.5M383.6 140.2h.5M379.9 154.6h.5M380.1 148.8h.5M379.3 136.3h.5M381.8 147.2h.5M377.8 154.7h.5M384.4 154.1h.5M380.5 140.1h.5M381.7 149.1h.5M381.5 144.0h.5M379.1 142.9h.5M381.8 144.6h.5M386.9 146.1h.5M383.3 144.8h.5M381.5 141.3h.5M380.6 137.7h.5M375.9 157.2h.5M378.9 151.0h.5M381.6 144.1h.5M384.1 144.2h.5M383.3 145.5h.5M384.9 154.6h.5M382.2 155.5h.5M383.5 158.7h.5M371.3 138.9h.5M373.2 149.4h.5M369.9 146.8h.5M370.4 140.6h.5M382.1 143.4h.5M365.7 138.7h.5M367.0 147.8h.5M380.7 151.5h.5M367.7 140.7h.5M365.4 147.5h.5M377.1 145.2h.5M381.4 159.4h.5M372.9 135.3h.5M378.4 147.4h.5M375.9 153.8h.5M366.1 148.4h.5M373.0 143.6h.5M376.1 147.2h.5M369.6 159.0h.5M373.0 157.6h.5M371.1 154.1h.5M367.6 148.9h.5M378.3 135.2h.5M375.1 146.4h.5M378.4 149.0h.5M371.5 140.5h.5M389.2 143.7h.5M370.1 143.7h.5M370.2 149.3h.5M364.1 154.2h.5M370.4 151.5h.5M359.6 144.9h.5M370.2 145.7h.5M368.1 149.8h.5M374.4 142.2h.5M360.5 152.3h.5M370.1 154.3h.5M377.1 147.4h.5M363.6 145.9h.5M367.7 155.3h.5M362.0 153.4h.5M362.9 144.6h.5M363.7 143.9h.5M369.4 150.2h.5M368.5 152.0h.5M382.2 148.9h.5M365.2 146.9h.5M371.4 145.9h.5M378.7 154.8h.5M383.7 151.1h.5M356.4 147.2h.5M375.9 143.2h.5M368.4 153.3h.5M372.8 141.4h.5M368.6 129.9h.5M371.9 140.8h.5M371.7 141.0h.5M366.5 145.0h.5M388.3 141.0h.5M365.0 144.8h.5M378.2 152.7h.5M376.0 146.1h.5M372.7 143.5h.5M370.9 143.2h.5M363.4 142.1h.5M383.3 150.3h.5M367.6 147.3h.5M369.3 155.1h.5M371.8 144.2h.5M375.9 149.9h.5M368.0 143.4h.5M372.8 138.4h.5M366.6 153.9h.5M377.0 154.5h.5M369.3 144.5h.5M370.4 145.2h.5M379.4 146.7h.5M379.9 143.8h.5M374.1 157.5h.5M367.6 144.1h.5M368.4 138.5h.5M370.2 144.2h.5M384.8 145.2h.5M359.4 153.5h.5M377.5 147.8h.5M373.6 152.2h.5M368.7 148.2h.5M372.8 157.7h.5M380.2 149.0h.5M364.1 153.2h.5M371.6 154.8h.5M372.2 149.0h.5M375.8 143.7h.5M368.1 161.4h.5M366.9 153.5h.5M375.9 152.8h.5M379.9 140.1h.5M377.5 135.9h.5M372.2 150.0h.5M377.9 154.3h.5M370.2 152.9h.5M379.1 148.8h.5M373.6 154.2h.5M348.5 163.8h.5M350.9 164.5h.5M381.7 154.7h.5M365.3 148.4h.5M348.5 161.7h.5M360.9 158.1h.5M360.8 150.1h.5M349.8 163.5h.5M364.2 147.0h.5M387.7 147.1h.5M353.3 147.1h.5M371.0 163.9h.5M342.8 167.9h.5M378.6 165.3h.5M363.6 154.7h.5M346.1 150.0h.5M387.6 150.6h.5M389.2 165.4h.5M390.3 146.7h.5M363.7 165.4h.5M357.7 149.5h.5M342.2 157.3h.5M370.5 148.6h.5M354.9 160.0h.5M350.3 164.1h.5M387.7 154.2h.5M348.1 158.3h.5M356.9 145.7h.5M379.0 158.0h.5M355.6 149.6h.5M379.8 167.7h.5M359.9 158.7h.5" stroke="#222" stroke-width=".5" opacity=".8"/>
<path d="M381.8 138.4L385.3 129.5H391.5V140.1L388.2 139.5ZM381.8 138.4L388.2 139.5V147.3L380.9 146.1ZM388.2 140.1H391.5V155.7H388.2Z" fill="none" stroke="#333" stroke-width="0.6"/>
<rect x="376.0" y="145.9" width="11.2" height="17.2" rx="1.6" fill="none" stroke="#333" stroke-width="0.6"/>
<text x="388.3" y="128.1" font-size="3.7" fill="#222" text-anchor="middle" >3.1</text>
<text x="376.2" y="143.5" font-size="3.7" fill="#222" text-anchor="middle" >3.7</text>
<text x="392.9" y="161.6" font-size="3.7" fill="#222" text-anchor="middle" >5.5</text>
<text x="380.0" y="167.8" font-size="3.7" fill="#222" text-anchor="middle" >12.7</text>
<rect x="413.5" y="114.9" width="59.4" height="58.0" fill="none" stroke="#c4c4c4" stroke-width="0.8"/>
<text x="407.8" y="121.6" font-size="4.6" fill="#222" text-anchor="end" >10<tspan font-size="2.6" dy="-1.6">5</tspan></text>
<line x1="411.9" y1="120.5" x2="413.5" y2="120.5" stroke="#333" stroke-width="0.6" />
<text x="407.8" y="132.1" font-size="4.6" fill="#222" text-anchor="end" >10<tspan font-size="2.6" dy="-1.6">4</tspan></text>
<line x1="411.9" y1="130.5" x2="413.5" y2="130.5" stroke="#333" stroke-width="0.6" />
<text x="407.8" y="143.4" font-size="4.6" fill="#222" text-anchor="end" >10<tspan font-size="2.6" dy="-1.6">3</tspan></text>
<line x1="411.9" y1="141.5" x2="413.5" y2="141.5" stroke="#333" stroke-width="0.6" />
<text x="407.8" y="155.2" font-size="4.6" fill="#222" text-anchor="end" >10<tspan font-size="2.6" dy="-1.6">2</tspan></text>
<line x1="411.9" y1="153.5" x2="413.5" y2="153.5" stroke="#333" stroke-width="0.6" />
<text x="409.3" y="160.6" font-size="4.6" fill="#222" text-anchor="end" >0</text>
<line x1="411.9" y1="159.5" x2="413.5" y2="159.5" stroke="#333" stroke-width="0.6" />
<text x="407.8" y="166.0" font-size="4.6" fill="#222" text-anchor="end" >-10<tspan font-size="2.6" dy="-1.6">2</tspan></text>
<line x1="411.9" y1="164.5" x2="413.5" y2="164.5" stroke="#333" stroke-width="0.6" />
<rect x="412.1" y="158.1" width="1.6" height="2.0" fill="#111" />
<path d="M412.7 117.9V170.9" stroke="#555" stroke-width="0.8" stroke-dasharray="0.4 1.6"/>
<path d="M415.5 174.1H469.5" stroke="#555" stroke-width="1" stroke-dasharray="0.4 2.2"/>
<rect x="427.5" y="173.4" width="11.0" height="1.2" fill="#222" />
<text x="417.3" y="182.2" font-size="4.6" fill="#222" text-anchor="middle" >-10<tspan font-size="2.6" dy="-1.6">3</tspan></text>
<text x="433.5" y="182.2" font-size="4.6" fill="#222" text-anchor="middle" >0</text>
<text x="451.9" y="182.2" font-size="4.6" fill="#222" text-anchor="middle" >10<tspan font-size="2.6" dy="-1.6">3</tspan></text>
<text x="463.5" y="182.2" font-size="4.6" fill="#222" text-anchor="middle" >10<tspan font-size="2.6" dy="-1.6">4</tspan></text>
<ellipse cx="430.0" cy="158.3" rx="9.0" ry="4.2" transform="rotate(-5 430.0 158.3)" fill="#000" filter="url(#bl)" opacity="1"/>
<ellipse cx="436.0" cy="150.5" rx="8.0" ry="4.5" transform="rotate(-10 436.0 150.5)" fill="#000" filter="url(#bl)" opacity="0.65"/>
<ellipse cx="456.0" cy="151.0" rx="2.3" ry="5.0" transform="rotate(0 456.0 151.0)" fill="#000" filter="url(#bl)" opacity="0.9"/>
<ellipse cx="458.0" cy="139.0" rx="2.0" ry="5.0" transform="rotate(0 458.0 139.0)" fill="#000" filter="url(#bl)" opacity="0.5"/>
<path d="M435.7 160.8h.5M426.0 153.0h.5M423.6 151.2h.5M437.4 154.7h.5M428.9 156.8h.5M421.2 153.8h.5M418.7 147.6h.5M420.2 149.8h.5M447.7 160.6h.5M443.3 149.6h.5M437.3 147.1h.5M428.4 156.6h.5M419.2 157.6h.5M436.5 141.7h.5M431.9 155.5h.5M423.5 159.2h.5M433.3 150.1h.5M447.3 154.0h.5M440.8 164.4h.5M428.4 153.8h.5M417.6 155.3h.5M438.7 168.6h.5M437.9 155.0h.5M421.2 151.1h.5M415.7 148.7h.5M434.1 156.1h.5M424.8 154.3h.5M426.4 159.1h.5M437.9 150.5h.5M427.9 147.9h.5M430.6 167.9h.5M433.4 159.6h.5M439.1 162.5h.5M429.3 149.6h.5M442.6 158.6h.5M428.0 161.7h.5M432.7 154.3h.5M449.2 155.4h.5M435.3 152.3h.5M435.5 160.5h.5M436.2 149.5h.5M436.6 153.3h.5M435.4 153.0h.5M427.7 142.0h.5M421.5 168.3h.5M438.5 151.0h.5M433.8 141.0h.5M435.8 160.0h.5M433.4 146.6h.5M440.8 150.2h.5M428.1 156.4h.5M431.9 166.9h.5M433.4 167.3h.5M435.8 146.7h.5M432.9 154.8h.5M446.4 160.3h.5M454.5 147.5h.5M431.0 168.8h.5M425.4 157.7h.5M446.0 146.6h.5M429.2 150.6h.5M437.8 156.2h.5M433.1 158.4h.5M425.7 153.3h.5M438.6 165.8h.5M432.6 154.9h.5M444.3 153.4h.5M444.4 154.3h.5M443.1 154.2h.5M424.1 150.6h.5M438.1 165.1h.5M448.8 150.4h.5M453.7 144.9h.5M426.2 161.1h.5M420.3 161.8h.5M436.7 157.8h.5M422.7 158.3h.5M441.0 153.1h.5M441.8 153.4h.5M435.6 152.2h.5M420.9 155.2h.5M436.6 149.4h.5M414.5 147.8h.5M444.1 151.6h.5M427.2 162.8h.5M430.1 145.8h.5M428.3 149.8h.5M430.5 149.3h.5M433.8 157.1h.5M427.7 154.0h.5M432.2 159.6h.5M427.2 159.8h.5M443.6 151.8h.5M424.2 153.9h.5M416.9 153.5h.5M422.3 155.0h.5M430.0 158.0h.5M434.2 156.9h.5M432.7 156.2h.5M423.5 159.8h.5M445.2 159.5h.5M421.5 158.7h.5M419.3 161.0h.5M430.7 152.0h.5M426.1 154.0h.5M432.0 148.8h.5M433.6 156.0h.5M437.4 153.6h.5M434.7 168.3h.5M442.0 155.2h.5M421.2 159.9h.5M435.7 138.1h.5M431.8 157.0h.5M433.3 155.1h.5M432.7 162.9h.5M436.0 152.4h.5M432.6 167.2h.5M424.9 152.5h.5M435.9 155.0h.5M436.6 162.2h.5M443.2 155.6h.5M433.2 154.1h.5M431.7 160.8h.5M420.9 149.9h.5M428.1 149.4h.5M427.4 162.5h.5M421.2 154.7h.5M427.0 149.3h.5M419.9 156.8h.5M430.4 161.5h.5M448.9 150.5h.5M425.6 153.8h.5M437.8 159.5h.5M424.9 158.5h.5M433.6 161.3h.5M429.1 153.8h.5M424.3 147.7h.5M435.9 158.4h.5M443.0 154.7h.5M428.1 149.6h.5M422.1 151.7h.5M435.9 154.6h.5M429.5 148.7h.5M433.2 157.7h.5M422.7 147.8h.5M430.3 156.5h.5M431.9 164.0h.5M433.3 148.4h.5M439.2 149.7h.5M439.0 154.3h.5M442.9 147.1h.5M439.6 156.1h.5M425.5 159.8h.5M453.2 153.8h.5M426.0 154.6h.5M444.6 154.4h.5M445.4 148.8h.5M443.1 143.5h.5M431.2 153.0h.5M429.6 162.4h.5M427.9 157.3h.5M450.0 157.1h.5M428.7 150.7h.5M415.5 159.3h.5M441.7 160.0h.5M436.9 167.0h.5M437.8 139.8h.5M425.8 160.4h.5M430.1 160.0h.5M454.9 146.8h.5M452.4 151.3h.5M420.0 156.9h.5M440.4 149.9h.5M446.2 147.4h.5M432.0 160.2h.5M430.6 151.5h.5M433.3 158.4h.5M449.4 160.4h.5M449.5 152.0h.5M418.2 156.3h.5M428.5 149.1h.5M428.3 154.8h.5M434.2 159.9h.5M425.8 162.5h.5M434.0 158.8h.5M442.9 145.6h.5M446.5 148.3h.5M437.4 160.5h.5M439.8 144.1h.5M435.3 161.1h.5M431.8 154.2h.5M435.0 164.2h.5M427.4 149.6h.5M422.7 152.7h.5M431.2 156.9h.5M430.8 144.4h.5M419.6 160.5h.5M438.3 145.5h.5M439.3 138.9h.5M454.1 155.1h.5M418.7 159.6h.5M432.3 151.8h.5M429.5 153.6h.5M431.3 149.3h.5M428.4 158.5h.5M436.6 145.9h.5M429.9 164.4h.5M440.7 163.4h.5M420.1 150.0h.5M428.8 148.7h.5M422.7 151.7h.5M432.0 159.7h.5M436.5 143.3h.5M446.0 150.7h.5M424.0 155.6h.5M428.3 146.7h.5M446.4 149.1h.5M428.1 158.5h.5M448.3 155.3h.5M425.3 158.2h.5M443.2 155.4h.5M438.4 150.8h.5M431.0 144.6h.5M425.6 148.6h.5M434.3 163.4h.5M424.6 155.1h.5M442.7 148.4h.5M427.0 162.7h.5M436.8 157.2h.5M439.8 149.0h.5M434.4 150.3h.5M426.7 156.2h.5M435.8 146.4h.5M426.6 159.1h.5M435.0 158.3h.5M429.5 150.1h.5M440.5 157.1h.5M426.8 159.4h.5M446.8 150.9h.5M424.5 157.3h.5M434.3 157.8h.5M420.7 157.7h.5M441.6 157.6h.5M439.6 160.9h.5M426.6 162.8h.5M434.0 148.3h.5M430.6 156.5h.5M437.1 162.1h.5M434.3 151.2h.5M452.3 149.8h.5M426.4 161.1h.5M428.6 150.3h.5M424.5 162.9h.5M423.6 156.5h.5M428.8 153.9h.5M425.8 156.4h.5M439.3 160.0h.5M428.8 148.0h.5M419.7 156.4h.5M433.4 155.2h.5M420.0 152.4h.5M426.9 159.5h.5M429.9 158.7h.5M436.0 142.4h.5M432.0 162.3h.5M428.5 155.9h.5M430.8 147.4h.5M452.4 151.0h.5M438.3 151.1h.5M446.5 159.6h.5M444.4 158.7h.5M440.4 161.9h.5M436.7 154.8h.5M439.5 148.2h.5M433.8 150.2h.5M429.8 149.2h.5M425.6 156.7h.5M434.8 159.3h.5M432.7 158.4h.5M438.5 149.5h.5M417.3 152.6h.5M430.3 151.7h.5M452.2 147.7h.5M436.6 149.4h.5M438.1 146.2h.5M441.7 154.4h.5M428.4 147.9h.5M447.4 149.0h.5M443.9 138.4h.5M423.8 166.8h.5M449.0 152.4h.5M442.4 156.9h.5M429.9 155.8h.5M421.6 148.0h.5M434.7 158.7h.5M433.4 147.1h.5M440.7 154.0h.5M439.5 151.9h.5M431.5 161.1h.5M444.3 145.7h.5M423.9 161.7h.5M436.3 154.4h.5M425.1 161.8h.5M434.9 155.6h.5M436.0 151.0h.5M436.7 154.8h.5M439.8 155.9h.5M421.0 152.0h.5M431.6 161.8h.5M428.1 162.1h.5M443.4 158.4h.5M453.2 151.7h.5M436.9 161.4h.5M437.5 160.0h.5M433.0 163.1h.5M434.6 142.8h.5M442.5 152.1h.5M424.9 153.9h.5M431.4 161.7h.5M435.9 153.7h.5M432.1 149.3h.5M426.9 152.6h.5M430.0 148.0h.5M430.3 161.0h.5M437.1 154.0h.5M435.9 152.7h.5M423.1 161.3h.5M453.5 154.8h.5M441.2 168.3h.5M422.6 159.2h.5M429.7 153.4h.5M418.1 156.2h.5M435.3 144.6h.5M430.6 152.0h.5M424.6 159.6h.5M448.1 155.0h.5M442.8 157.8h.5M432.9 158.1h.5M444.5 150.4h.5M430.5 146.6h.5M415.7 152.1h.5M441.3 155.6h.5M436.4 162.0h.5M418.4 165.0h.5M434.4 159.1h.5M444.7 148.0h.5M425.6 158.1h.5M432.0 151.2h.5M431.3 150.5h.5M433.9 152.1h.5M447.4 146.3h.5M438.3 154.3h.5M446.4 146.9h.5M430.3 165.4h.5M426.8 153.2h.5M428.7 149.3h.5M445.2 162.0h.5M431.0 150.3h.5M421.4 160.2h.5M428.7 158.5h.5M439.0 156.3h.5M434.2 154.3h.5M429.6 152.4h.5M434.7 157.4h.5M441.2 152.1h.5M443.2 147.5h.5M450.9 157.8h.5M431.7 171.3h.5M447.2 162.1h.5M422.2 155.4h.5M438.1 160.2h.5M432.6 146.8h.5M443.8 152.1h.5M436.7 152.1h.5M430.9 146.6h.5M438.5 150.1h.5M417.5 159.2h.5M433.5 160.3h.5M439.3 146.4h.5M431.4 154.8h.5M432.9 148.3h.5M434.5 160.3h.5M445.3 161.6h.5M437.7 138.8h.5M430.1 151.7h.5M441.2 153.4h.5M436.6 157.0h.5M432.2 162.9h.5M450.0 157.1h.5M428.2 156.8h.5M442.4 157.6h.5M427.7 161.1h.5M440.0 157.1h.5M429.3 154.9h.5M415.9 156.8h.5M428.8 153.4h.5M430.2 153.0h.5M433.9 155.0h.5M427.4 154.6h.5M432.6 157.6h.5M436.7 151.9h.5M424.3 146.0h.5M422.2 158.5h.5M426.1 165.2h.5M431.3 152.5h.5M431.2 151.6h.5M427.4 155.7h.5M420.2 157.2h.5M431.4 149.4h.5M442.5 155.4h.5M442.2 149.3h.5M420.9 149.2h.5M417.4 145.4h.5M446.6 149.8h.5M434.3 151.2h.5M433.0 164.0h.5M416.7 151.0h.5M433.5 149.1h.5M440.3 161.3h.5M441.6 157.8h.5M432.4 160.6h.5M424.9 148.6h.5M430.5 153.4h.5M443.1 147.2h.5M442.6 148.6h.5M420.3 146.2h.5M431.5 146.1h.5M434.9 154.6h.5M427.8 143.7h.5M428.7 157.8h.5M417.6 160.8h.5M432.7 151.3h.5M435.4 158.1h.5M432.2 150.0h.5M439.5 149.6h.5M437.0 159.8h.5M460.4 158.1h.5M459.6 148.1h.5M455.9 148.4h.5M458.1 167.7h.5M458.5 141.3h.5M461.1 136.1h.5M459.5 138.2h.5M453.2 143.6h.5M455.6 137.7h.5M458.4 146.3h.5M460.5 140.0h.5M451.1 151.8h.5M455.8 153.8h.5M449.5 138.4h.5M456.8 160.6h.5M452.8 133.9h.5M455.1 156.8h.5M461.3 137.6h.5M454.7 134.3h.5M454.0 140.4h.5M457.8 154.9h.5M463.7 144.6h.5M459.0 148.6h.5M456.9 160.4h.5M458.6 157.9h.5M457.4 153.0h.5M458.0 146.4h.5M454.4 144.2h.5M456.5 144.4h.5M455.5 142.2h.5M459.1 145.3h.5M456.1 145.5h.5M460.4 143.3h.5M460.7 141.1h.5M461.1 151.3h.5M455.0 150.2h.5M459.9 140.4h.5M455.8 149.2h.5M455.9 145.0h.5M456.6 149.2h.5M458.8 157.3h.5M455.5 167.4h.5M455.5 159.3h.5M456.1 137.0h.5M455.2 144.6h.5M459.7 133.1h.5M454.6 146.1h.5M458.5 149.8h.5M459.1 145.9h.5M455.8 155.4h.5M461.7 149.7h.5M457.0 141.1h.5M462.8 149.8h.5M458.4 135.9h.5M458.3 163.9h.5M456.0 145.6h.5M461.1 145.7h.5M459.0 160.5h.5M453.0 141.3h.5M458.5 147.8h.5M456.6 145.9h.5M456.9 149.5h.5M455.1 145.1h.5M457.2 139.5h.5M457.8 131.8h.5M458.4 146.2h.5M453.0 156.4h.5M453.0 161.3h.5M454.3 155.4h.5M456.3 158.2h.5M455.8 154.2h.5M455.6 134.0h.5M457.7 150.3h.5M457.7 158.6h.5M454.3 137.1h.5M457.3 142.2h.5M456.2 147.0h.5M454.1 154.6h.5M456.2 159.4h.5M457.3 154.4h.5M455.6 142.5h.5M454.9 140.9h.5M457.9 148.0h.5M453.3 136.4h.5M453.9 134.4h.5M453.9 136.5h.5M458.6 139.0h.5M454.8 146.2h.5M456.6 150.0h.5M458.8 151.5h.5M455.5 155.7h.5M457.6 142.1h.5M461.0 138.8h.5M457.9 155.7h.5M456.9 149.4h.5M456.9 151.6h.5M457.2 147.1h.5M458.6 133.9h.5M457.3 144.9h.5M462.4 149.0h.5M454.6 151.6h.5M455.4 138.8h.5M455.7 150.5h.5M460.1 154.3h.5M457.2 145.9h.5M457.1 155.4h.5M456.1 155.1h.5M454.2 146.9h.5M458.8 151.9h.5M457.1 143.5h.5M451.2 144.0h.5M454.0 144.2h.5M461.2 141.7h.5M459.0 146.9h.5M453.2 147.8h.5M458.7 138.8h.5M453.1 144.4h.5M458.7 142.9h.5M457.8 150.2h.5M456.6 150.1h.5M460.3 145.7h.5M457.5 139.6h.5M454.4 146.3h.5M458.9 142.4h.5M452.4 153.4h.5M463.5 129.2h.5M453.4 147.9h.5M458.0 140.5h.5M457.5 154.6h.5M455.7 152.1h.5M456.9 140.6h.5M454.7 142.8h.5M460.4 155.0h.5M457.2 136.2h.5M455.1 144.2h.5M450.8 146.9h.5M457.4 137.9h.5M455.3 143.9h.5M462.0 151.6h.5M458.8 147.6h.5M452.7 153.4h.5M454.5 133.7h.5M458.7 144.6h.5M456.5 150.6h.5M455.8 149.9h.5M460.3 144.8h.5M455.5 147.1h.5M458.4 144.2h.5M456.8 142.3h.5M456.3 150.8h.5M442.2 146.9h.5M438.4 143.9h.5M447.5 151.2h.5M441.0 147.4h.5M441.6 149.9h.5M448.6 150.6h.5M445.8 139.6h.5M443.7 140.1h.5M443.0 147.7h.5M453.3 144.2h.5M442.5 149.2h.5M434.9 159.8h.5M438.0 154.0h.5M452.8 153.7h.5M446.4 152.3h.5M445.0 153.7h.5M443.2 143.2h.5M449.2 145.3h.5M450.9 142.9h.5M448.6 142.2h.5M446.4 160.7h.5M440.7 140.7h.5M437.6 146.7h.5M456.5 145.3h.5M452.5 146.9h.5M443.3 159.9h.5M453.3 137.1h.5M441.3 150.4h.5M450.8 146.7h.5M448.8 151.2h.5M445.0 153.9h.5M442.1 152.5h.5M452.4 149.2h.5M445.0 147.9h.5M434.1 149.5h.5M438.7 136.1h.5M451.5 142.6h.5M449.1 148.3h.5M436.8 142.7h.5M445.4 150.8h.5M447.4 140.5h.5M443.9 148.6h.5M439.6 145.4h.5M443.8 135.5h.5M457.1 153.2h.5M444.3 153.6h.5M440.9 157.0h.5M444.8 148.8h.5M443.6 148.6h.5M448.9 148.2h.5M442.2 152.5h.5M450.3 148.0h.5M453.1 143.7h.5M454.4 147.1h.5M455.8 145.4h.5M445.5 149.3h.5M453.4 156.5h.5M444.4 143.7h.5M451.4 155.3h.5M451.1 146.1h.5M454.4 147.9h.5M448.0 151.7h.5M443.7 134.6h.5M448.3 152.2h.5M449.6 151.2h.5M448.0 154.2h.5M447.7 156.8h.5M447.3 152.7h.5M443.8 149.8h.5M449.5 148.8h.5M456.0 148.3h.5M453.5 150.1h.5M453.4 142.7h.5M444.9 153.7h.5M442.3 150.3h.5M450.3 149.2h.5M449.5 151.2h.5M445.6 150.4h.5M444.0 145.3h.5M437.8 147.4h.5M437.1 148.2h.5M448.2 141.6h.5M447.4 149.7h.5M445.0 142.6h.5M446.4 150.4h.5M452.4 159.4h.5M435.5 150.0h.5M449.5 144.2h.5M448.9 160.4h.5M447.7 156.1h.5M453.2 145.4h.5M433.6 154.9h.5M455.9 137.6h.5M445.9 143.9h.5M448.2 148.4h.5M453.6 144.5h.5M458.2 137.9h.5M448.3 163.9h.5M446.4 151.7h.5M444.3 167.5h.5M466.7 152.4h.5M442.2 165.1h.5M459.4 167.1h.5M435.8 149.2h.5M443.9 168.1h.5M449.2 166.4h.5M427.0 156.6h.5M465.5 158.3h.5M458.9 164.7h.5M440.1 161.5h.5M453.4 154.8h.5M444.3 164.8h.5M463.6 169.5h.5M436.1 161.2h.5M445.9 165.9h.5M429.3 155.5h.5M430.2 164.6h.5M454.4 143.1h.5M422.3 146.7h.5M448.1 163.8h.5M434.9 145.0h.5M447.8 159.5h.5M439.5 150.2h.5M435.0 149.2h.5M459.9 153.2h.5M454.6 157.7h.5M428.7 150.4h.5M452.3 166.2h.5M465.5 147.1h.5M430.3 145.6h.5M426.6 153.3h.5M454.8 167.6h.5M448.1 146.8h.5M436.6 146.8h.5M431.4 158.4h.5" stroke="#222" stroke-width=".5" opacity=".8"/>
<path d="M456.8 138.4L460.3 129.5H466.5V140.1L463.2 139.5ZM456.8 138.4L463.2 139.5V147.3L455.9 146.1ZM463.2 140.1H466.5V155.7H463.2Z" fill="none" stroke="#333" stroke-width="0.6"/>
<rect x="451.0" y="145.9" width="11.2" height="17.2" rx="1.6" fill="none" stroke="#333" stroke-width="0.6"/>
<text x="463.3" y="128.1" font-size="3.7" fill="#222" text-anchor="middle" >2.2</text>
<text x="451.2" y="143.5" font-size="3.7" fill="#222" text-anchor="middle" >1.5</text>
<text x="467.9" y="161.6" font-size="3.7" fill="#222" text-anchor="middle" >4.7</text>
<text x="455.0" y="167.8" font-size="3.7" fill="#222" text-anchor="middle" >10.3</text>
<text x="162.2" y="78.5" font-size="6.1" fill="#111" stroke="#111" stroke-width="0.11" text-anchor="middle" transform="rotate(-90 162.2 78.5)" >Mcl-1<tspan font-size="3.8" dy="-2.4">fl/fl</tspan></text>
<text x="162.2" y="141.7" font-size="6.1" fill="#111" stroke="#111" stroke-width="0.11" text-anchor="middle" transform="rotate(-90 162.2 141.7)" >Mcl-1<tspan font-size="3.8" dy="-2.4">wt/wt</tspan></text>
<path d="M166.4 166V63" stroke="#111" stroke-width="1.1"/>
<path d="M163.7 64.5L166.4 58.2L169.1 64.5Z" fill="#111"/>
<text x="169.0" y="175.5" font-size="6.6" fill="#111" stroke="#111" stroke-width="0.12" text-anchor="middle" textLength="12.5" lengthAdjust="spacingAndGlyphs" transform="rotate(-90 169.0 175.5)" >IgM</text>
<text x="192.3" y="192.4" font-size="6.6" fill="#111" stroke="#111" stroke-width="0.12" textLength="15.3" lengthAdjust="spacingAndGlyphs" >B220</text>
<path d="M211.2 190.1H458" stroke="#111" stroke-width="1.1"/>
<path d="M457 187.5L463.6 190.1L457 192.7Z" fill="#111"/>
<text x="258.7" y="209.6" font-size="7.3" fill="#222" stroke="#222" stroke-width="0.13" text-anchor="middle" textLength="67.5" lengthAdjust="spacingAndGlyphs" >Bone Marrow, B cells</text>
<line x1="31.8" y1="214.8" x2="508.8" y2="214.8" stroke="#3a3a3a" stroke-width="1.5" />
<rect x="432.8" y="204.8" width="5.0" height="5.2" fill="#a8002c" />
<rect x="478.5" y="204.8" width="5.3" height="5.2" fill="#2e4c85" />
<text x="441.1" y="209.0" font-size="5.4" fill="#111" textLength="11.8" lengthAdjust="spacingAndGlyphs" >Mcl-1</text>
<text x="453.2" y="206.6" font-size="3.0" fill="#111" textLength="8" lengthAdjust="spacingAndGlyphs" >wt/wt</text>
<text x="486.9" y="209.0" font-size="5.4" fill="#111" textLength="11.6" lengthAdjust="spacingAndGlyphs" >Mcl-1</text>
<text x="498.8" y="206.6" font-size="3.0" fill="#111" textLength="7.5" lengthAdjust="spacingAndGlyphs" >fl/fl</text>
<line x1="29.4" y1="295.5" x2="31.6" y2="295.5" stroke="#1a1a1a" stroke-width="0.8" />
<text x="28.2" y="297.1" font-size="4.6" fill="#333" text-anchor="end" >0</text>
<line x1="29.4" y1="282.5" x2="31.6" y2="282.5" stroke="#1a1a1a" stroke-width="0.8" />
<text x="28.2" y="284.2" font-size="4.6" fill="#333" text-anchor="end" >1</text>
<line x1="29.4" y1="269.5" x2="31.6" y2="269.5" stroke="#1a1a1a" stroke-width="0.8" />
<text x="28.2" y="271.3" font-size="4.6" fill="#333" text-anchor="end" >2</text>
<line x1="29.4" y1="256.5" x2="31.6" y2="256.5" stroke="#1a1a1a" stroke-width="0.8" />
<text x="28.2" y="258.4" font-size="4.6" fill="#333" text-anchor="end" >3</text>
<line x1="29.4" y1="243.5" x2="31.6" y2="243.5" stroke="#1a1a1a" stroke-width="0.8" />
<text x="28.2" y="245.5" font-size="4.6" fill="#333" text-anchor="end" >4</text>
<line x1="29.4" y1="230.5" x2="31.6" y2="230.5" stroke="#1a1a1a" stroke-width="0.8" />
<text x="28.2" y="232.6" font-size="4.6" fill="#333" text-anchor="end" >5</text>
<path d="M80.5 230.2V295.5" stroke="#444" stroke-width="0.7" stroke-dasharray="0.7 1.1"/>
<rect x="36.0" y="262.7" width="7.9" height="32.8" fill="#a8002c" stroke="#8c0022" stroke-width="0.5"/>
<line x1="39.5" y1="262.7" x2="39.5" y2="257.2" stroke="#111" stroke-width="0.75" />
<line x1="38.6" y1="257.5" x2="41.4" y2="257.5" stroke="#111" stroke-width="0.75" />
<circle cx="40.0" cy="250.9" r="1.2" fill="#9aa6a3" stroke="#111" stroke-width="0.6"/>
<circle cx="40.0" cy="258.5" r="1.2" fill="#9aa6a3" stroke="#111" stroke-width="0.6"/>
<circle cx="38.5" cy="269.9" r="1.2" fill="#9aa6a3" stroke="#111" stroke-width="0.6"/>
<circle cx="41.6" cy="269.3" r="1.2" fill="#9aa6a3" stroke="#111" stroke-width="0.6"/>
<circle cx="40.0" cy="266.6" r="1.2" fill="#9aa6a3" stroke="#111" stroke-width="0.6"/>
<rect x="46.1" y="262.2" width="7.8" height="33.3" fill="#2e4c85" stroke="#1d3a70" stroke-width="0.5"/>
<line x1="50.5" y1="262.2" x2="50.5" y2="258.5" stroke="#111" stroke-width="0.75" />
<line x1="48.6" y1="258.5" x2="51.4" y2="258.5" stroke="#111" stroke-width="0.75" />
<circle cx="50.3" cy="251.9" r="1.2" fill="#9aa6a3" stroke="#111" stroke-width="0.6"/>
<circle cx="47.6" cy="264.9" r="1.2" fill="#9aa6a3" stroke="#111" stroke-width="0.6"/>
<circle cx="50.3" cy="266.6" r="1.2" fill="#9aa6a3" stroke="#111" stroke-width="0.6"/>
<circle cx="53.0" cy="264.9" r="1.2" fill="#9aa6a3" stroke="#111" stroke-width="0.6"/>
<rect x="58.2" y="264.2" width="8.0" height="31.3" fill="#a8002c" stroke="#8c0022" stroke-width="0.5"/>
<line x1="62.5" y1="264.2" x2="62.5" y2="257.2" stroke="#111" stroke-width="0.75" />
<line x1="60.8" y1="257.5" x2="63.6" y2="257.5" stroke="#111" stroke-width="0.75" />
<circle cx="62.3" cy="246.2" r="1.2" fill="#9aa6a3" stroke="#111" stroke-width="0.6"/>
<circle cx="62.3" cy="262.6" r="1.2" fill="#9aa6a3" stroke="#111" stroke-width="0.6"/>
<circle cx="62.3" cy="271.9" r="1.2" fill="#9aa6a3" stroke="#111" stroke-width="0.6"/>
<circle cx="62.3" cy="275.8" r="1.2" fill="#9aa6a3" stroke="#111" stroke-width="0.6"/>
<rect x="68.5" y="282.3" width="8.0" height="13.2" fill="#2e4c85" stroke="#1d3a70" stroke-width="0.5"/>
<line x1="72.5" y1="282.3" x2="72.5" y2="277.3" stroke="#111" stroke-width="0.75" />
<line x1="71.1" y1="277.5" x2="73.9" y2="277.5" stroke="#111" stroke-width="0.75" />
<circle cx="72.7" cy="276.0" r="1.2" fill="#9aa6a3" stroke="#111" stroke-width="0.6"/>
<circle cx="72.7" cy="279.6" r="1.2" fill="#9aa6a3" stroke="#111" stroke-width="0.6"/>
<circle cx="73.9" cy="285.0" r="1.2" fill="#9aa6a3" stroke="#111" stroke-width="0.6"/>
<circle cx="70.6" cy="287.5" r="1.2" fill="#9aa6a3" stroke="#111" stroke-width="0.6"/>
<rect x="84.5" y="263.9" width="8.4" height="31.6" fill="#a8002c" stroke="#8c0022" stroke-width="0.5"/>
<line x1="88.5" y1="263.9" x2="88.5" y2="259.4" stroke="#111" stroke-width="0.75" />
<line x1="87.3" y1="259.5" x2="90.1" y2="259.5" stroke="#111" stroke-width="0.75" />
<circle cx="88.5" cy="252.4" r="1.2" fill="#9aa6a3" stroke="#111" stroke-width="0.6"/>
<circle cx="88.5" cy="265.1" r="1.2" fill="#9aa6a3" stroke="#111" stroke-width="0.6"/>
<circle cx="87.0" cy="268.3" r="1.2" fill="#9aa6a3" stroke="#111" stroke-width="0.6"/>
<circle cx="90.0" cy="267.3" r="1.2" fill="#9aa6a3" stroke="#111" stroke-width="0.6"/>
<rect x="94.9" y="266.7" width="8.0" height="28.8" fill="#2e4c85" stroke="#1d3a70" stroke-width="0.5"/>
<line x1="98.5" y1="266.7" x2="98.5" y2="259.7" stroke="#111" stroke-width="0.75" />
<line x1="97.5" y1="259.5" x2="100.3" y2="259.5" stroke="#111" stroke-width="0.75" />
<circle cx="98.5" cy="254.0" r="1.2" fill="#9aa6a3" stroke="#111" stroke-width="0.6"/>
<circle cx="98.5" cy="259.3" r="1.2" fill="#9aa6a3" stroke="#111" stroke-width="0.6"/>
<circle cx="98.5" cy="274.0" r="1.2" fill="#9aa6a3" stroke="#111" stroke-width="0.6"/>
<circle cx="98.5" cy="278.0" r="1.2" fill="#9aa6a3" stroke="#111" stroke-width="0.6"/>
<rect x="107.0" y="272.0" width="8.0" height="23.5" fill="#a8002c" stroke="#8c0022" stroke-width="0.5"/>
<line x1="110.5" y1="272.0" x2="110.5" y2="269.7" stroke="#111" stroke-width="0.75" />
<line x1="109.6" y1="269.5" x2="112.4" y2="269.5" stroke="#111" stroke-width="0.75" />
<circle cx="109.5" cy="268.5" r="1.2" fill="#9aa6a3" stroke="#111" stroke-width="0.6"/>
<circle cx="112.0" cy="270.0" r="1.2" fill="#9aa6a3" stroke="#111" stroke-width="0.6"/>
<circle cx="112.3" cy="273.0" r="1.2" fill="#9aa6a3" stroke="#111" stroke-width="0.6"/>
<circle cx="109.5" cy="275.5" r="1.2" fill="#9aa6a3" stroke="#111" stroke-width="0.6"/>
<rect x="117.0" y="279.0" width="8.0" height="16.5" fill="#2e4c85" stroke="#1d3a70" stroke-width="0.5"/>
<line x1="120.5" y1="279.0" x2="120.5" y2="277.3" stroke="#111" stroke-width="0.75" />
<line x1="119.6" y1="277.5" x2="122.4" y2="277.5" stroke="#111" stroke-width="0.75" />
<circle cx="119.5" cy="274.4" r="1.2" fill="#9aa6a3" stroke="#111" stroke-width="0.6"/>
<circle cx="122.5" cy="275.5" r="1.2" fill="#9aa6a3" stroke="#111" stroke-width="0.6"/>
<circle cx="119.5" cy="282.4" r="1.2" fill="#9aa6a3" stroke="#111" stroke-width="0.6"/>
<circle cx="122.5" cy="281.5" r="1.2" fill="#9aa6a3" stroke="#111" stroke-width="0.6"/>
<line x1="31.5" y1="228.3" x2="31.5" y2="296.0" stroke="#1a1a1a" stroke-width="1.0" />
<line x1="31.1" y1="295.5" x2="129.3" y2="295.5" stroke="#1a1a1a" stroke-width="1.1" />
<path d="M49.9 242.2V239.6H72.0V242.2" fill="none" stroke="#333" stroke-width="0.8"/>
<text x="61.0" y="238.6" font-size="4.4" fill="#333" text-anchor="middle" >*</text>
<text x="45.0" y="303.2" font-size="4.3" fill="#000" text-anchor="middle" textLength="12.8" lengthAdjust="spacingAndGlyphs" >Vehicle</text>
<text x="67.3" y="303.2" font-size="4.3" fill="#000" text-anchor="middle" textLength="20.2" lengthAdjust="spacingAndGlyphs" >12.5 mg/kg</text>
<text x="93.7" y="303.2" font-size="4.3" fill="#000" text-anchor="middle" textLength="12.8" lengthAdjust="spacingAndGlyphs" >Vehicle</text>
<text x="116.0" y="303.2" font-size="4.3" fill="#000" text-anchor="middle" textLength="20.2" lengthAdjust="spacingAndGlyphs" >12.5 mg/kg</text>
<line x1="38.0" y1="307.5" x2="77.7" y2="307.5" stroke="#222" stroke-width="0.9" />
<text x="57.9" y="315.1" font-size="5.8" fill="#222" stroke="#222" stroke-width="0.10" text-anchor="middle" textLength="13.0" lengthAdjust="spacingAndGlyphs" >Day 3</text>
<line x1="86.5" y1="307.5" x2="126.2" y2="307.5" stroke="#222" stroke-width="0.9" />
<text x="106.3" y="315.1" font-size="5.8" fill="#222" stroke="#222" stroke-width="0.10" text-anchor="middle" textLength="15.8" lengthAdjust="spacingAndGlyphs" >Day 17</text>
<text x="80.6" y="226.2" font-size="7.3" fill="#222" stroke="#222" stroke-width="0.13" text-anchor="middle" textLength="22.9" lengthAdjust="spacingAndGlyphs" >Pro-pre</text>
<text x="18.2" y="261.5" font-size="6.4" fill="#222" stroke="#222" stroke-width="0.12" text-anchor="middle" textLength="72" lengthAdjust="spacingAndGlyphs" transform="rotate(-90 18.2 261.5)" >Total cells/ femur (x10<tspan font-size="4" dy="-2.4">6</tspan><tspan dy="2.4">)</tspan></text>
<line x1="153.9" y1="295.5" x2="156.1" y2="295.5" stroke="#1a1a1a" stroke-width="0.8" />
<text x="152.7" y="297.3" font-size="4.6" fill="#333" text-anchor="end" >0.0</text>
<line x1="153.9" y1="273.5" x2="156.1" y2="273.5" stroke="#1a1a1a" stroke-width="0.8" />
<text x="152.7" y="275.0" font-size="4.6" fill="#333" text-anchor="end" >0.2</text>
<line x1="153.9" y1="251.5" x2="156.1" y2="251.5" stroke="#1a1a1a" stroke-width="0.8" />
<text x="152.7" y="252.7" font-size="4.6" fill="#333" text-anchor="end" >0.4</text>
<line x1="153.9" y1="228.5" x2="156.1" y2="228.5" stroke="#1a1a1a" stroke-width="0.8" />
<text x="152.7" y="230.4" font-size="4.6" fill="#333" text-anchor="end" >0.6</text>
<path d="M205.8 228.0V295.7" stroke="#444" stroke-width="0.7" stroke-dasharray="0.7 1.1"/>
<rect x="160.1" y="260.6" width="8.1" height="35.1" fill="#a8002c" stroke="#8c0022" stroke-width="0.5"/>
<line x1="164.5" y1="260.6" x2="164.5" y2="253.9" stroke="#111" stroke-width="0.75" />
<line x1="162.7" y1="253.5" x2="165.5" y2="253.5" stroke="#111" stroke-width="0.75" />
<circle cx="164.3" cy="242.3" r="1.2" fill="#9aa6a3" stroke="#111" stroke-width="0.6"/>
<circle cx="164.3" cy="260.6" r="1.2" fill="#9aa6a3" stroke="#111" stroke-width="0.6"/>
<circle cx="162.8" cy="269.2" r="1.2" fill="#9aa6a3" stroke="#111" stroke-width="0.6"/>
<circle cx="165.8" cy="269.2" r="1.2" fill="#9aa6a3" stroke="#111" stroke-width="0.6"/>
<circle cx="164.3" cy="266.0" r="1.2" fill="#9aa6a3" stroke="#111" stroke-width="0.6"/>
<rect x="170.6" y="266.3" width="8.2" height="29.4" fill="#2e4c85" stroke="#1d3a70" stroke-width="0.5"/>
<line x1="174.5" y1="266.3" x2="174.5" y2="262.8" stroke="#111" stroke-width="0.75" />
<line x1="173.3" y1="262.5" x2="176.1" y2="262.5" stroke="#111" stroke-width="0.75" />
<circle cx="172.8" cy="262.8" r="1.2" fill="#9aa6a3" stroke="#111" stroke-width="0.6"/>
<circle cx="176.4" cy="262.0" r="1.2" fill="#9aa6a3" stroke="#111" stroke-width="0.6"/>
<circle cx="174.6" cy="263.5" r="1.2" fill="#9aa6a3" stroke="#111" stroke-width="0.6"/>
<circle cx="174.6" cy="271.3" r="1.2" fill="#9aa6a3" stroke="#111" stroke-width="0.6"/>
<rect x="183.1" y="273.2" width="8.0" height="22.5" fill="#a8002c" stroke="#8c0022" stroke-width="0.5"/>
<line x1="187.5" y1="273.2" x2="187.5" y2="266.2" stroke="#111" stroke-width="0.75" />
<line x1="185.7" y1="266.5" x2="188.5" y2="266.5" stroke="#111" stroke-width="0.75" />
<circle cx="187.0" cy="255.2" r="1.2" fill="#9aa6a3" stroke="#111" stroke-width="0.6"/>
<circle cx="187.0" cy="272.8" r="1.2" fill="#9aa6a3" stroke="#111" stroke-width="0.6"/>
<circle cx="187.0" cy="279.8" r="1.2" fill="#9aa6a3" stroke="#111" stroke-width="0.6"/>
<circle cx="187.0" cy="283.8" r="1.2" fill="#9aa6a3" stroke="#111" stroke-width="0.6"/>
<rect x="193.2" y="291.3" width="8.6" height="4.4" fill="#2e4c85" stroke="#1d3a70" stroke-width="0.5"/>
<line x1="197.5" y1="291.3" x2="197.5" y2="289.7" stroke="#111" stroke-width="0.75" />
<line x1="196.1" y1="289.5" x2="198.9" y2="289.5" stroke="#111" stroke-width="0.75" />
<circle cx="196.0" cy="290.0" r="1.2" fill="#9aa6a3" stroke="#111" stroke-width="0.6"/>
<circle cx="199.0" cy="290.0" r="1.2" fill="#9aa6a3" stroke="#111" stroke-width="0.6"/>
<circle cx="197.5" cy="292.5" r="1.2" fill="#9aa6a3" stroke="#111" stroke-width="0.6"/>
<circle cx="197.5" cy="291.0" r="1.2" fill="#9aa6a3" stroke="#111" stroke-width="0.6"/>
<rect x="210.0" y="259.0" width="8.3" height="36.7" fill="#a8002c" stroke="#8c0022" stroke-width="0.5"/>
<line x1="214.5" y1="259.0" x2="214.5" y2="254.1" stroke="#111" stroke-width="0.75" />
<line x1="212.8" y1="254.5" x2="215.6" y2="254.5" stroke="#111" stroke-width="0.75" />
<circle cx="214.2" cy="246.4" r="1.2" fill="#9aa6a3" stroke="#111" stroke-width="0.6"/>
<circle cx="214.2" cy="260.4" r="1.2" fill="#9aa6a3" stroke="#111" stroke-width="0.6"/>
<circle cx="215.7" cy="262.6" r="1.2" fill="#9aa6a3" stroke="#111" stroke-width="0.6"/>
<circle cx="212.7" cy="265.1" r="1.2" fill="#9aa6a3" stroke="#111" stroke-width="0.6"/>
<rect x="220.3" y="270.1" width="8.6" height="25.6" fill="#2e4c85" stroke="#1d3a70" stroke-width="0.5"/>
<line x1="224.5" y1="270.1" x2="224.5" y2="261.7" stroke="#111" stroke-width="0.75" />
<line x1="223.2" y1="261.5" x2="226.0" y2="261.5" stroke="#111" stroke-width="0.75" />
<circle cx="224.6" cy="253.4" r="1.2" fill="#9aa6a3" stroke="#111" stroke-width="0.6"/>
<circle cx="224.6" cy="262.4" r="1.2" fill="#9aa6a3" stroke="#111" stroke-width="0.6"/>
<circle cx="223.0" cy="282.0" r="1.2" fill="#9aa6a3" stroke="#111" stroke-width="0.6"/>
<circle cx="226.0" cy="281.3" r="1.2" fill="#9aa6a3" stroke="#111" stroke-width="0.6"/>
<rect x="233.0" y="274.4" width="8.3" height="21.3" fill="#a8002c" stroke="#8c0022" stroke-width="0.5"/>
<line x1="237.5" y1="274.4" x2="237.5" y2="270.5" stroke="#111" stroke-width="0.75" />
<line x1="235.8" y1="270.5" x2="238.6" y2="270.5" stroke="#111" stroke-width="0.75" />
<circle cx="237.2" cy="265.5" r="1.2" fill="#9aa6a3" stroke="#111" stroke-width="0.6"/>
<circle cx="237.2" cy="272.1" r="1.2" fill="#9aa6a3" stroke="#111" stroke-width="0.6"/>
<circle cx="237.2" cy="275.7" r="1.2" fill="#9aa6a3" stroke="#111" stroke-width="0.6"/>
<circle cx="237.2" cy="282.0" r="1.2" fill="#9aa6a3" stroke="#111" stroke-width="0.6"/>
<rect x="243.5" y="282.0" width="8.6" height="13.7" fill="#2e4c85" stroke="#1d3a70" stroke-width="0.5"/>
<line x1="247.5" y1="282.0" x2="247.5" y2="277.9" stroke="#111" stroke-width="0.75" />
<line x1="246.4" y1="277.5" x2="249.2" y2="277.5" stroke="#111" stroke-width="0.75" />
<circle cx="246.9" cy="278.5" r="1.2" fill="#9aa6a3" stroke="#111" stroke-width="0.6"/>
<circle cx="249.0" cy="280.0" r="1.2" fill="#9aa6a3" stroke="#111" stroke-width="0.6"/>
<circle cx="247.5" cy="281.2" r="1.2" fill="#9aa6a3" stroke="#111" stroke-width="0.6"/>
<circle cx="247.5" cy="287.0" r="1.2" fill="#9aa6a3" stroke="#111" stroke-width="0.6"/>
<line x1="156.5" y1="225.9" x2="156.5" y2="296.2" stroke="#1a1a1a" stroke-width="1.0" />
<line x1="155.6" y1="295.5" x2="256.1" y2="295.5" stroke="#1a1a1a" stroke-width="1.1" />
<path d="M174.4 250.0V247.4H197.1V250.0" fill="none" stroke="#333" stroke-width="0.8"/>
<text x="185.8" y="246.4" font-size="4.4" fill="#333" text-anchor="middle" >*</text>
<text x="169.4" y="303.4" font-size="4.3" fill="#000" text-anchor="middle" textLength="12.8" lengthAdjust="spacingAndGlyphs" >Vehicle</text>
<text x="192.4" y="303.4" font-size="4.3" fill="#000" text-anchor="middle" textLength="20.2" lengthAdjust="spacingAndGlyphs" >12.5 mg/kg</text>
<text x="219.4" y="303.4" font-size="4.3" fill="#000" text-anchor="middle" textLength="12.8" lengthAdjust="spacingAndGlyphs" >Vehicle</text>
<text x="242.6" y="303.4" font-size="4.3" fill="#000" text-anchor="middle" textLength="20.2" lengthAdjust="spacingAndGlyphs" >12.5 mg/kg</text>
<line x1="162.1" y1="307.5" x2="203.0" y2="307.5" stroke="#222" stroke-width="0.9" />
<text x="182.6" y="315.3" font-size="5.8" fill="#222" stroke="#222" stroke-width="0.10" text-anchor="middle" textLength="13.0" lengthAdjust="spacingAndGlyphs" >Day 3</text>
<line x1="212.0" y1="307.5" x2="253.3" y2="307.5" stroke="#222" stroke-width="0.9" />
<text x="232.6" y="315.3" font-size="5.8" fill="#222" stroke="#222" stroke-width="0.10" text-anchor="middle" textLength="15.8" lengthAdjust="spacingAndGlyphs" >Day 17</text>
<text x="206.0" y="224.4" font-size="7.3" fill="#222" stroke="#222" stroke-width="0.13" text-anchor="middle" textLength="31.8" lengthAdjust="spacingAndGlyphs" >Immature</text>
<line x1="280.3" y1="295.5" x2="282.5" y2="295.5" stroke="#1a1a1a" stroke-width="0.8" />
<text x="279.1" y="297.2" font-size="4.6" fill="#333" text-anchor="end" >0.0</text>
<line x1="280.3" y1="282.5" x2="282.5" y2="282.5" stroke="#1a1a1a" stroke-width="0.8" />
<text x="279.1" y="283.9" font-size="4.6" fill="#333" text-anchor="end" >0.2</text>
<line x1="280.3" y1="269.5" x2="282.5" y2="269.5" stroke="#1a1a1a" stroke-width="0.8" />
<text x="279.1" y="270.6" font-size="4.6" fill="#333" text-anchor="end" >0.4</text>
<line x1="280.3" y1="255.5" x2="282.5" y2="255.5" stroke="#1a1a1a" stroke-width="0.8" />
<text x="279.1" y="257.4" font-size="4.6" fill="#333" text-anchor="end" >0.6</text>
<line x1="280.3" y1="242.5" x2="282.5" y2="242.5" stroke="#1a1a1a" stroke-width="0.8" />
<text x="279.1" y="244.1" font-size="4.6" fill="#333" text-anchor="end" >0.8</text>
<line x1="280.3" y1="229.5" x2="282.5" y2="229.5" stroke="#1a1a1a" stroke-width="0.8" />
<text x="279.1" y="230.8" font-size="4.6" fill="#333" text-anchor="end" >1.0</text>
<path d="M332.4 228.0V295.6" stroke="#444" stroke-width="0.7" stroke-dasharray="0.7 1.1"/>
<rect x="286.8" y="267.8" width="8.1" height="27.8" fill="#a8002c" stroke="#8c0022" stroke-width="0.5"/>
<line x1="290.5" y1="267.8" x2="290.5" y2="265.1" stroke="#111" stroke-width="0.75" />
<line x1="289.5" y1="265.5" x2="292.2" y2="265.5" stroke="#111" stroke-width="0.75" />
<circle cx="289.5" cy="261.2" r="1.2" fill="#9aa6a3" stroke="#111" stroke-width="0.6"/>
<circle cx="292.7" cy="264.4" r="1.2" fill="#9aa6a3" stroke="#111" stroke-width="0.6"/>
<circle cx="291.3" cy="270.0" r="1.2" fill="#9aa6a3" stroke="#111" stroke-width="0.6"/>
<circle cx="289.5" cy="273.0" r="1.2" fill="#9aa6a3" stroke="#111" stroke-width="0.6"/>
<rect x="297.3" y="274.9" width="8.4" height="20.7" fill="#2e4c85" stroke="#1d3a70" stroke-width="0.5"/>
<line x1="301.5" y1="274.9" x2="301.5" y2="271.1" stroke="#111" stroke-width="0.75" />
<line x1="300.1" y1="271.5" x2="302.9" y2="271.5" stroke="#111" stroke-width="0.75" />
<circle cx="299.0" cy="271.5" r="1.2" fill="#9aa6a3" stroke="#111" stroke-width="0.6"/>
<circle cx="302.5" cy="272.3" r="1.2" fill="#9aa6a3" stroke="#111" stroke-width="0.6"/>
<circle cx="303.5" cy="274.9" r="1.2" fill="#9aa6a3" stroke="#111" stroke-width="0.6"/>
<circle cx="300.5" cy="278.5" r="1.2" fill="#9aa6a3" stroke="#111" stroke-width="0.6"/>
<rect x="309.4" y="288.0" width="8.5" height="7.6" fill="#a8002c" stroke="#8c0022" stroke-width="0.5"/>
<line x1="313.5" y1="288.0" x2="313.5" y2="284.6" stroke="#111" stroke-width="0.75" />
<line x1="312.2" y1="284.5" x2="315.0" y2="284.5" stroke="#111" stroke-width="0.75" />
<circle cx="313.5" cy="280.2" r="1.2" fill="#9aa6a3" stroke="#111" stroke-width="0.6"/>
<circle cx="312.0" cy="287.5" r="1.2" fill="#9aa6a3" stroke="#111" stroke-width="0.6"/>
<circle cx="315.5" cy="288.5" r="1.2" fill="#9aa6a3" stroke="#111" stroke-width="0.6"/>
<circle cx="313.5" cy="293.5" r="1.2" fill="#9aa6a3" stroke="#111" stroke-width="0.6"/>
<circle cx="322.5" cy="295.3" r="1.2" fill="#9aa6a3" stroke="#111" stroke-width="0.6"/>
<circle cx="325.5" cy="295.3" r="1.2" fill="#9aa6a3" stroke="#111" stroke-width="0.6"/>
<rect x="336.7" y="261.1" width="8.4" height="34.5" fill="#a8002c" stroke="#8c0022" stroke-width="0.5"/>
<line x1="340.5" y1="261.1" x2="340.5" y2="253.3" stroke="#111" stroke-width="0.75" />
<line x1="339.5" y1="253.5" x2="342.3" y2="253.5" stroke="#111" stroke-width="0.75" />
<circle cx="340.8" cy="241.3" r="1.2" fill="#9aa6a3" stroke="#111" stroke-width="0.6"/>
<circle cx="340.8" cy="259.5" r="1.2" fill="#9aa6a3" stroke="#111" stroke-width="0.6"/>
<circle cx="339.4" cy="272.3" r="1.2" fill="#9aa6a3" stroke="#111" stroke-width="0.6"/>
<circle cx="342.4" cy="269.5" r="1.2" fill="#9aa6a3" stroke="#111" stroke-width="0.6"/>
<rect x="347.0" y="261.1" width="8.4" height="34.5" fill="#2e4c85" stroke="#1d3a70" stroke-width="0.5"/>
<line x1="351.5" y1="261.1" x2="351.5" y2="253.3" stroke="#111" stroke-width="0.75" />
<line x1="349.8" y1="253.5" x2="352.6" y2="253.5" stroke="#111" stroke-width="0.75" />
<circle cx="351.5" cy="247.4" r="1.2" fill="#9aa6a3" stroke="#111" stroke-width="0.6"/>
<circle cx="351.5" cy="253.5" r="1.2" fill="#9aa6a3" stroke="#111" stroke-width="0.6"/>
<circle cx="349.7" cy="272.3" r="1.2" fill="#9aa6a3" stroke="#111" stroke-width="0.6"/>
<circle cx="352.8" cy="269.5" r="1.2" fill="#9aa6a3" stroke="#111" stroke-width="0.6"/>
<rect x="359.7" y="269.8" width="8.3" height="25.8" fill="#a8002c" stroke="#8c0022" stroke-width="0.5"/>
<line x1="363.5" y1="269.8" x2="363.5" y2="265.5" stroke="#111" stroke-width="0.75" />
<line x1="362.5" y1="265.5" x2="365.2" y2="265.5" stroke="#111" stroke-width="0.75" />
<circle cx="361.5" cy="265.5" r="1.2" fill="#9aa6a3" stroke="#111" stroke-width="0.6"/>
<circle cx="364.3" cy="265.5" r="1.2" fill="#9aa6a3" stroke="#111" stroke-width="0.6"/>
<circle cx="366.5" cy="263.0" r="1.2" fill="#9aa6a3" stroke="#111" stroke-width="0.6"/>
<circle cx="363.8" cy="283.3" r="1.2" fill="#9aa6a3" stroke="#111" stroke-width="0.6"/>
<rect x="370.1" y="271.2" width="8.2" height="24.4" fill="#2e4c85" stroke="#1d3a70" stroke-width="0.5"/>
<line x1="374.5" y1="271.2" x2="374.5" y2="268.1" stroke="#111" stroke-width="0.75" />
<line x1="372.8" y1="268.5" x2="375.6" y2="268.5" stroke="#111" stroke-width="0.75" />
<circle cx="374.2" cy="264.0" r="1.2" fill="#9aa6a3" stroke="#111" stroke-width="0.6"/>
<circle cx="374.2" cy="270.0" r="1.2" fill="#9aa6a3" stroke="#111" stroke-width="0.6"/>
<circle cx="372.8" cy="275.7" r="1.2" fill="#9aa6a3" stroke="#111" stroke-width="0.6"/>
<circle cx="375.7" cy="273.0" r="1.2" fill="#9aa6a3" stroke="#111" stroke-width="0.6"/>
<line x1="282.5" y1="226.5" x2="282.5" y2="296.1" stroke="#1a1a1a" stroke-width="1.0" />
<line x1="282.0" y1="295.5" x2="382.9" y2="295.5" stroke="#1a1a1a" stroke-width="1.1" />
<path d="M290.5 250.2V247.6H313.5V250.2" fill="none" stroke="#333" stroke-width="0.8"/>
<text x="302.0" y="246.6" font-size="4.4" fill="#333" text-anchor="middle" >*</text>
<path d="M301.2 258.7V256.1H323.8V258.7" fill="none" stroke="#333" stroke-width="0.8"/>
<text x="312.5" y="255.1" font-size="4.4" fill="#333" text-anchor="middle" >*</text>
<text x="296.2" y="303.3" font-size="4.3" fill="#000" text-anchor="middle" textLength="12.8" lengthAdjust="spacingAndGlyphs" >Vehicle</text>
<text x="318.9" y="303.3" font-size="4.3" fill="#000" text-anchor="middle" textLength="20.2" lengthAdjust="spacingAndGlyphs" >12.5 mg/kg</text>
<text x="346.0" y="303.3" font-size="4.3" fill="#000" text-anchor="middle" textLength="12.8" lengthAdjust="spacingAndGlyphs" >Vehicle</text>
<text x="369.0" y="303.3" font-size="4.3" fill="#000" text-anchor="middle" textLength="20.2" lengthAdjust="spacingAndGlyphs" >12.5 mg/kg</text>
<line x1="288.8" y1="307.5" x2="329.7" y2="307.5" stroke="#222" stroke-width="0.9" />
<text x="309.2" y="315.2" font-size="5.8" fill="#222" stroke="#222" stroke-width="0.10" text-anchor="middle" textLength="13.0" lengthAdjust="spacingAndGlyphs" >Day 3</text>
<line x1="338.7" y1="307.5" x2="379.5" y2="307.5" stroke="#222" stroke-width="0.9" />
<text x="359.1" y="315.2" font-size="5.8" fill="#222" stroke="#222" stroke-width="0.10" text-anchor="middle" textLength="15.8" lengthAdjust="spacingAndGlyphs" >Day 17</text>
<text x="332.9" y="224.4" font-size="7.3" fill="#222" stroke="#222" stroke-width="0.13" text-anchor="middle" textLength="37.4" lengthAdjust="spacingAndGlyphs" >Transitional</text>
<line x1="408.4" y1="295.5" x2="410.6" y2="295.5" stroke="#1a1a1a" stroke-width="0.8" />
<text x="407.2" y="297.3" font-size="4.6" fill="#333" text-anchor="end" >0.0</text>
<line x1="408.4" y1="273.5" x2="410.6" y2="273.5" stroke="#1a1a1a" stroke-width="0.8" />
<text x="407.2" y="274.6" font-size="4.6" fill="#333" text-anchor="end" >0.5</text>
<line x1="408.4" y1="250.5" x2="410.6" y2="250.5" stroke="#1a1a1a" stroke-width="0.8" />
<text x="407.2" y="252.0" font-size="4.6" fill="#333" text-anchor="end" >1.0</text>
<line x1="408.4" y1="227.5" x2="410.6" y2="227.5" stroke="#1a1a1a" stroke-width="0.8" />
<text x="407.2" y="229.3" font-size="4.6" fill="#333" text-anchor="end" >1.5</text>
<path d="M461.5 227.0V295.7" stroke="#444" stroke-width="0.7" stroke-dasharray="0.7 1.1"/>
<rect x="414.9" y="252.2" width="8.7" height="43.5" fill="#a8002c" stroke="#8c0022" stroke-width="0.5"/>
<line x1="419.5" y1="252.2" x2="419.5" y2="248.0" stroke="#111" stroke-width="0.75" />
<line x1="417.9" y1="248.5" x2="420.6" y2="248.5" stroke="#111" stroke-width="0.75" />
<circle cx="419.1" cy="244.3" r="1.2" fill="#9aa6a3" stroke="#111" stroke-width="0.6"/>
<circle cx="419.1" cy="248.0" r="1.2" fill="#9aa6a3" stroke="#111" stroke-width="0.6"/>
<circle cx="419.1" cy="255.2" r="1.2" fill="#9aa6a3" stroke="#111" stroke-width="0.6"/>
<circle cx="419.1" cy="260.1" r="1.2" fill="#9aa6a3" stroke="#111" stroke-width="0.6"/>
<rect x="426.0" y="266.0" width="8.1" height="29.7" fill="#2e4c85" stroke="#1d3a70" stroke-width="0.5"/>
<line x1="430.5" y1="266.0" x2="430.5" y2="260.6" stroke="#111" stroke-width="0.75" />
<line x1="428.7" y1="260.5" x2="431.4" y2="260.5" stroke="#111" stroke-width="0.75" />
<circle cx="428.5" cy="262.5" r="1.2" fill="#9aa6a3" stroke="#111" stroke-width="0.6"/>
<circle cx="430.0" cy="263.5" r="1.2" fill="#9aa6a3" stroke="#111" stroke-width="0.6"/>
<circle cx="431.5" cy="266.4" r="1.2" fill="#9aa6a3" stroke="#111" stroke-width="0.6"/>
<circle cx="429.7" cy="271.0" r="1.2" fill="#9aa6a3" stroke="#111" stroke-width="0.6"/>
<rect x="438.2" y="276.2" width="8.7" height="19.5" fill="#a8002c" stroke="#8c0022" stroke-width="0.5"/>
<line x1="442.5" y1="276.2" x2="442.5" y2="269.8" stroke="#111" stroke-width="0.75" />
<line x1="441.1" y1="269.5" x2="443.9" y2="269.5" stroke="#111" stroke-width="0.75" />
<circle cx="442.5" cy="260.6" r="1.2" fill="#9aa6a3" stroke="#111" stroke-width="0.6"/>
<circle cx="442.5" cy="274.6" r="1.2" fill="#9aa6a3" stroke="#111" stroke-width="0.6"/>
<circle cx="442.5" cy="279.0" r="1.2" fill="#9aa6a3" stroke="#111" stroke-width="0.6"/>
<circle cx="442.5" cy="292.0" r="1.2" fill="#9aa6a3" stroke="#111" stroke-width="0.6"/>
<circle cx="451.4" cy="295.5" r="1.2" fill="#9aa6a3" stroke="#111" stroke-width="0.6"/>
<circle cx="454.5" cy="295.0" r="1.2" fill="#9aa6a3" stroke="#111" stroke-width="0.6"/>
<rect x="466.1" y="249.0" width="8.4" height="46.7" fill="#a8002c" stroke="#8c0022" stroke-width="0.5"/>
<line x1="470.5" y1="249.0" x2="470.5" y2="242.0" stroke="#111" stroke-width="0.75" />
<line x1="468.9" y1="242.5" x2="471.7" y2="242.5" stroke="#111" stroke-width="0.75" />
<circle cx="470.3" cy="231.0" r="1.2" fill="#9aa6a3" stroke="#111" stroke-width="0.6"/>
<circle cx="470.3" cy="248.2" r="1.2" fill="#9aa6a3" stroke="#111" stroke-width="0.6"/>
<circle cx="468.5" cy="258.2" r="1.2" fill="#9aa6a3" stroke="#111" stroke-width="0.6"/>
<circle cx="471.8" cy="256.6" r="1.2" fill="#9aa6a3" stroke="#111" stroke-width="0.6"/>
<rect x="476.7" y="253.9" width="8.3" height="41.8" fill="#2e4c85" stroke="#1d3a70" stroke-width="0.5"/>
<line x1="480.5" y1="253.9" x2="480.5" y2="248.2" stroke="#111" stroke-width="0.75" />
<line x1="479.5" y1="248.5" x2="482.2" y2="248.5" stroke="#111" stroke-width="0.75" />
<circle cx="480.7" cy="239.5" r="1.2" fill="#9aa6a3" stroke="#111" stroke-width="0.6"/>
<circle cx="480.7" cy="252.0" r="1.2" fill="#9aa6a3" stroke="#111" stroke-width="0.6"/>
<circle cx="480.7" cy="257.5" r="1.2" fill="#9aa6a3" stroke="#111" stroke-width="0.6"/>
<circle cx="480.7" cy="264.0" r="1.2" fill="#9aa6a3" stroke="#111" stroke-width="0.6"/>
<rect x="489.3" y="256.5" width="8.6" height="39.2" fill="#a8002c" stroke="#8c0022" stroke-width="0.5"/>
<line x1="493.5" y1="256.5" x2="493.5" y2="252.0" stroke="#111" stroke-width="0.75" />
<line x1="492.2" y1="252.5" x2="495.0" y2="252.5" stroke="#111" stroke-width="0.75" />
<circle cx="490.6" cy="250.5" r="1.2" fill="#9aa6a3" stroke="#111" stroke-width="0.6"/>
<circle cx="493.5" cy="249.0" r="1.2" fill="#9aa6a3" stroke="#111" stroke-width="0.6"/>
<circle cx="496.0" cy="248.0" r="1.2" fill="#9aa6a3" stroke="#111" stroke-width="0.6"/>
<circle cx="493.5" cy="273.0" r="1.2" fill="#9aa6a3" stroke="#111" stroke-width="0.6"/>
<rect x="500.1" y="267.1" width="8.1" height="28.6" fill="#2e4c85" stroke="#1d3a70" stroke-width="0.5"/>
<line x1="504.5" y1="267.1" x2="504.5" y2="263.3" stroke="#111" stroke-width="0.75" />
<line x1="502.8" y1="263.5" x2="505.5" y2="263.5" stroke="#111" stroke-width="0.75" />
<circle cx="503.5" cy="266.0" r="1.2" fill="#9aa6a3" stroke="#111" stroke-width="0.6"/>
<circle cx="506.0" cy="266.0" r="1.2" fill="#9aa6a3" stroke="#111" stroke-width="0.6"/>
<circle cx="504.5" cy="269.0" r="1.2" fill="#9aa6a3" stroke="#111" stroke-width="0.6"/>
<circle cx="507.0" cy="267.0" r="1.2" fill="#9aa6a3" stroke="#111" stroke-width="0.6"/>
<circle cx="504.3" cy="263.0" r="1.2" fill="#9aa6a3" stroke="#111" stroke-width="0.6"/>
<line x1="410.5" y1="225.5" x2="410.5" y2="296.2" stroke="#1a1a1a" stroke-width="1.0" />
<line x1="410.1" y1="295.5" x2="511.0" y2="295.5" stroke="#1a1a1a" stroke-width="1.1" />
<path d="M418.8 240.9V238.3H442.5V240.9" fill="none" stroke="#333" stroke-width="0.8"/>
<text x="430.6" y="237.3" font-size="4.4" fill="#333" text-anchor="middle" >*</text>
<path d="M429.6 250.0V247.4H452.7V250.0" fill="none" stroke="#333" stroke-width="0.8"/>
<text x="441.1" y="246.4" font-size="4.4" fill="#333" text-anchor="middle" >**</text>
<text x="424.5" y="303.4" font-size="4.3" fill="#000" text-anchor="middle" textLength="12.8" lengthAdjust="spacingAndGlyphs" >Vehicle</text>
<text x="447.6" y="303.4" font-size="4.3" fill="#000" text-anchor="middle" textLength="20.2" lengthAdjust="spacingAndGlyphs" >12.5 mg/kg</text>
<text x="475.6" y="303.4" font-size="4.3" fill="#000" text-anchor="middle" textLength="12.8" lengthAdjust="spacingAndGlyphs" >Vehicle</text>
<text x="498.8" y="303.4" font-size="4.3" fill="#000" text-anchor="middle" textLength="20.2" lengthAdjust="spacingAndGlyphs" >12.5 mg/kg</text>
<line x1="416.9" y1="307.5" x2="458.2" y2="307.5" stroke="#222" stroke-width="0.9" />
<text x="437.5" y="315.3" font-size="5.8" fill="#222" stroke="#222" stroke-width="0.10" text-anchor="middle" textLength="13.0" lengthAdjust="spacingAndGlyphs" >Day 3</text>
<line x1="468.1" y1="307.5" x2="509.4" y2="307.5" stroke="#222" stroke-width="0.9" />
<text x="488.8" y="315.3" font-size="5.8" fill="#222" stroke="#222" stroke-width="0.10" text-anchor="middle" textLength="15.8" lengthAdjust="spacingAndGlyphs" >Day 17</text>
<text x="461.9" y="222.8" font-size="7.3" fill="#222" stroke="#222" stroke-width="0.13" text-anchor="middle" textLength="23.2" lengthAdjust="spacingAndGlyphs" >Mature</text>
<text x="83.5" y="331.4" font-size="7.6" fill="#222" stroke="#222" stroke-width="0.14" text-anchor="middle" textLength="23.6" lengthAdjust="spacingAndGlyphs" >Spleen</text>
<line x1="35.0" y1="336.1" x2="131.1" y2="336.1" stroke="#3a3a3a" stroke-width="1.5" />
<line x1="30.2" y1="420.5" x2="32.4" y2="420.5" stroke="#1a1a1a" stroke-width="0.8" />
<text x="29.0" y="422.6" font-size="4.6" fill="#333" text-anchor="end" >0</text>
<line x1="30.2" y1="403.5" x2="32.4" y2="403.5" stroke="#1a1a1a" stroke-width="0.8" />
<text x="29.0" y="405.5" font-size="4.6" fill="#333" text-anchor="end" >20</text>
<line x1="30.2" y1="386.5" x2="32.4" y2="386.5" stroke="#1a1a1a" stroke-width="0.8" />
<text x="29.0" y="388.4" font-size="4.6" fill="#333" text-anchor="end" >40</text>
<line x1="30.2" y1="369.5" x2="32.4" y2="369.5" stroke="#1a1a1a" stroke-width="0.8" />
<text x="29.0" y="371.3" font-size="4.6" fill="#333" text-anchor="end" >60</text>
<line x1="30.2" y1="352.5" x2="32.4" y2="352.5" stroke="#1a1a1a" stroke-width="0.8" />
<text x="29.0" y="354.2" font-size="4.6" fill="#333" text-anchor="end" >80</text>
<path d="M82.6 352.4V421.0" stroke="#444" stroke-width="0.7" stroke-dasharray="0.7 1.1"/>
<rect x="36.3" y="385.3" width="8.6" height="35.7" fill="#a8002c" stroke="#8c0022" stroke-width="0.5"/>
<line x1="40.5" y1="385.3" x2="40.5" y2="383.2" stroke="#111" stroke-width="0.75" />
<line x1="39.2" y1="383.5" x2="42.0" y2="383.5" stroke="#111" stroke-width="0.75" />
<circle cx="38.5" cy="381.0" r="1.2" fill="#9aa6a3" stroke="#111" stroke-width="0.6"/>
<circle cx="41.5" cy="381.0" r="1.2" fill="#9aa6a3" stroke="#111" stroke-width="0.6"/>
<circle cx="39.0" cy="389.8" r="1.2" fill="#9aa6a3" stroke="#111" stroke-width="0.6"/>
<circle cx="42.0" cy="388.5" r="1.2" fill="#9aa6a3" stroke="#111" stroke-width="0.6"/>
<circle cx="40.5" cy="384.0" r="1.2" fill="#9aa6a3" stroke="#111" stroke-width="0.6"/>
<rect x="47.0" y="383.2" width="8.7" height="37.8" fill="#2e4c85" stroke="#1d3a70" stroke-width="0.5"/>
<line x1="51.5" y1="383.2" x2="51.5" y2="376.2" stroke="#111" stroke-width="0.75" />
<line x1="50.0" y1="376.5" x2="52.8" y2="376.5" stroke="#111" stroke-width="0.75" />
<circle cx="51.3" cy="364.5" r="1.2" fill="#9aa6a3" stroke="#111" stroke-width="0.6"/>
<circle cx="49.5" cy="384.0" r="1.2" fill="#9aa6a3" stroke="#111" stroke-width="0.6"/>
<circle cx="53.0" cy="387.5" r="1.2" fill="#9aa6a3" stroke="#111" stroke-width="0.6"/>
<circle cx="51.3" cy="394.5" r="1.2" fill="#9aa6a3" stroke="#111" stroke-width="0.6"/>
<rect x="59.9" y="397.8" width="8.3" height="23.2" fill="#a8002c" stroke="#8c0022" stroke-width="0.5"/>
<line x1="64.5" y1="397.8" x2="64.5" y2="395.6" stroke="#111" stroke-width="0.75" />
<line x1="62.6" y1="395.5" x2="65.5" y2="395.5" stroke="#111" stroke-width="0.75" />
<circle cx="63.7" cy="392.9" r="1.2" fill="#9aa6a3" stroke="#111" stroke-width="0.6"/>
<circle cx="62.0" cy="398.5" r="1.2" fill="#9aa6a3" stroke="#111" stroke-width="0.6"/>
<circle cx="64.0" cy="399.5" r="1.2" fill="#9aa6a3" stroke="#111" stroke-width="0.6"/>
<circle cx="66.0" cy="398.5" r="1.2" fill="#9aa6a3" stroke="#111" stroke-width="0.6"/>
<rect x="70.3" y="408.9" width="8.6" height="12.1" fill="#2e4c85" stroke="#1d3a70" stroke-width="0.5"/>
<line x1="74.5" y1="408.9" x2="74.5" y2="405.5" stroke="#111" stroke-width="0.75" />
<line x1="73.2" y1="405.5" x2="76.0" y2="405.5" stroke="#111" stroke-width="0.75" />
<circle cx="73.0" cy="405.0" r="1.2" fill="#9aa6a3" stroke="#111" stroke-width="0.6"/>
<circle cx="76.0" cy="406.0" r="1.2" fill="#9aa6a3" stroke="#111" stroke-width="0.6"/>
<circle cx="74.5" cy="409.0" r="1.2" fill="#9aa6a3" stroke="#111" stroke-width="0.6"/>
<circle cx="75.8" cy="407.0" r="1.2" fill="#9aa6a3" stroke="#111" stroke-width="0.6"/>
<circle cx="72.5" cy="411.7" r="1.2" fill="#9aa6a3" stroke="#111" stroke-width="0.6"/>
<rect x="87.1" y="380.3" width="8.8" height="40.7" fill="#a8002c" stroke="#8c0022" stroke-width="0.5"/>
<line x1="91.5" y1="380.3" x2="91.5" y2="373.2" stroke="#111" stroke-width="0.75" />
<line x1="90.1" y1="373.5" x2="92.9" y2="373.5" stroke="#111" stroke-width="0.75" />
<circle cx="91.5" cy="361.3" r="1.2" fill="#9aa6a3" stroke="#111" stroke-width="0.6"/>
<circle cx="90.0" cy="382.5" r="1.2" fill="#9aa6a3" stroke="#111" stroke-width="0.6"/>
<circle cx="93.0" cy="382.5" r="1.2" fill="#9aa6a3" stroke="#111" stroke-width="0.6"/>
<circle cx="91.5" cy="394.5" r="1.2" fill="#9aa6a3" stroke="#111" stroke-width="0.6"/>
<rect x="97.9" y="387.3" width="8.3" height="33.7" fill="#2e4c85" stroke="#1d3a70" stroke-width="0.5"/>
<line x1="102.5" y1="387.3" x2="102.5" y2="382.3" stroke="#111" stroke-width="0.75" />
<line x1="100.7" y1="382.5" x2="103.5" y2="382.5" stroke="#111" stroke-width="0.75" />
<circle cx="102.2" cy="375.2" r="1.2" fill="#9aa6a3" stroke="#111" stroke-width="0.6"/>
<circle cx="100.5" cy="386.0" r="1.2" fill="#9aa6a3" stroke="#111" stroke-width="0.6"/>
<circle cx="103.6" cy="389.2" r="1.2" fill="#9aa6a3" stroke="#111" stroke-width="0.6"/>
<circle cx="102.2" cy="397.8" r="1.2" fill="#9aa6a3" stroke="#111" stroke-width="0.6"/>
<rect x="110.3" y="389.2" width="8.9" height="31.8" fill="#a8002c" stroke="#8c0022" stroke-width="0.5"/>
<line x1="114.5" y1="389.2" x2="114.5" y2="387.3" stroke="#111" stroke-width="0.75" />
<line x1="113.3" y1="387.5" x2="116.2" y2="387.5" stroke="#111" stroke-width="0.75" />
<circle cx="114.0" cy="385.5" r="1.2" fill="#9aa6a3" stroke="#111" stroke-width="0.6"/>
<circle cx="116.5" cy="385.5" r="1.2" fill="#9aa6a3" stroke="#111" stroke-width="0.6"/>
<circle cx="114.8" cy="389.0" r="1.2" fill="#9aa6a3" stroke="#111" stroke-width="0.6"/>
<circle cx="114.8" cy="394.5" r="1.2" fill="#9aa6a3" stroke="#111" stroke-width="0.6"/>
<rect x="121.2" y="395.3" width="8.5" height="25.7" fill="#2e4c85" stroke="#1d3a70" stroke-width="0.5"/>
<line x1="125.5" y1="395.3" x2="125.5" y2="393.4" stroke="#111" stroke-width="0.75" />
<line x1="124.0" y1="393.5" x2="126.8" y2="393.5" stroke="#111" stroke-width="0.75" />
<circle cx="122.5" cy="393.0" r="1.2" fill="#9aa6a3" stroke="#111" stroke-width="0.6"/>
<circle cx="125.0" cy="393.5" r="1.2" fill="#9aa6a3" stroke="#111" stroke-width="0.6"/>
<circle cx="128.0" cy="391.5" r="1.2" fill="#9aa6a3" stroke="#111" stroke-width="0.6"/>
<circle cx="125.5" cy="398.8" r="1.2" fill="#9aa6a3" stroke="#111" stroke-width="0.6"/>
<line x1="32.5" y1="350.0" x2="32.5" y2="421.5" stroke="#1a1a1a" stroke-width="1.0" />
<line x1="31.9" y1="420.5" x2="132.8" y2="420.5" stroke="#1a1a1a" stroke-width="1.1" />
<path d="M51.2 360.3V357.7H74.5V360.3" fill="none" stroke="#333" stroke-width="0.8"/>
<text x="62.9" y="356.7" font-size="4.4" fill="#333" text-anchor="middle" >**</text>
<text x="46.0" y="428.7" font-size="4.3" fill="#000" text-anchor="middle" textLength="12.8" lengthAdjust="spacingAndGlyphs" >Vehicle</text>
<text x="69.4" y="428.7" font-size="4.3" fill="#000" text-anchor="middle" textLength="20.2" lengthAdjust="spacingAndGlyphs" >12.5 mg/kg</text>
<text x="96.7" y="428.7" font-size="4.3" fill="#000" text-anchor="middle" textLength="12.8" lengthAdjust="spacingAndGlyphs" >Vehicle</text>
<text x="120.0" y="428.7" font-size="4.3" fill="#000" text-anchor="middle" textLength="20.2" lengthAdjust="spacingAndGlyphs" >12.5 mg/kg</text>
<line x1="38.3" y1="432.5" x2="80.1" y2="432.5" stroke="#222" stroke-width="0.9" />
<text x="59.2" y="440.6" font-size="5.8" fill="#222" stroke="#222" stroke-width="0.10" text-anchor="middle" textLength="13.0" lengthAdjust="spacingAndGlyphs" >Day 3</text>
<line x1="89.1" y1="432.5" x2="130.9" y2="432.5" stroke="#222" stroke-width="0.9" />
<text x="110.0" y="440.6" font-size="5.8" fill="#222" stroke="#222" stroke-width="0.10" text-anchor="middle" textLength="15.8" lengthAdjust="spacingAndGlyphs" >Day 17</text>
<text x="83.5" y="348.0" font-size="7.3" fill="#222" stroke="#222" stroke-width="0.13" text-anchor="middle" textLength="22" lengthAdjust="spacingAndGlyphs" >B cells</text>
<text x="15.8" y="387.4" font-size="6.4" fill="#222" stroke="#222" stroke-width="0.12" text-anchor="middle" textLength="47.2" lengthAdjust="spacingAndGlyphs" transform="rotate(-90 15.8 387.4)" >Total cells (x10<tspan font-size="4" dy="-2.4">6</tspan><tspan dy="2.4">)</tspan></text>
<text x="276.9" y="331.4" font-size="7.6" fill="#222" stroke="#222" stroke-width="0.14" text-anchor="middle" textLength="44.2" lengthAdjust="spacingAndGlyphs" >Bone Marrow</text>
<line x1="169.8" y1="336.1" x2="375.7" y2="336.1" stroke="#3a3a3a" stroke-width="1.5" />
<line x1="167.1" y1="420.5" x2="169.3" y2="420.5" stroke="#1a1a1a" stroke-width="0.8" />
<text x="165.9" y="422.6" font-size="4.2" fill="#333" text-anchor="end" >0.00</text>
<line x1="167.1" y1="404.5" x2="169.3" y2="404.5" stroke="#1a1a1a" stroke-width="0.8" />
<text x="165.9" y="406.5" font-size="4.2" fill="#333" text-anchor="end" >0.01</text>
<line x1="167.1" y1="388.5" x2="169.3" y2="388.5" stroke="#1a1a1a" stroke-width="0.8" />
<text x="165.9" y="390.4" font-size="4.2" fill="#333" text-anchor="end" >0.02</text>
<line x1="167.1" y1="372.5" x2="169.3" y2="372.5" stroke="#1a1a1a" stroke-width="0.8" />
<text x="165.9" y="374.2" font-size="4.2" fill="#333" text-anchor="end" >0.03</text>
<line x1="167.1" y1="356.5" x2="169.3" y2="356.5" stroke="#1a1a1a" stroke-width="0.8" />
<text x="165.9" y="358.1" font-size="4.2" fill="#333" text-anchor="end" >0.04</text>
<path d="M217.5 356.3V421.0" stroke="#444" stroke-width="0.7" stroke-dasharray="0.7 1.1"/>
<rect x="173.4" y="393.4" width="8.0" height="27.6" fill="#a8002c" stroke="#8c0022" stroke-width="0.5"/>
<line x1="177.5" y1="393.4" x2="177.5" y2="387.5" stroke="#111" stroke-width="0.75" />
<line x1="176.0" y1="387.5" x2="178.8" y2="387.5" stroke="#111" stroke-width="0.75" />
<circle cx="177.4" cy="378.5" r="1.2" fill="#9aa6a3" stroke="#111" stroke-width="0.6"/>
<circle cx="175.5" cy="393.5" r="1.2" fill="#9aa6a3" stroke="#111" stroke-width="0.6"/>
<circle cx="178.7" cy="396.5" r="1.2" fill="#9aa6a3" stroke="#111" stroke-width="0.6"/>
<circle cx="177.4" cy="403.7" r="1.2" fill="#9aa6a3" stroke="#111" stroke-width="0.6"/>
<rect x="183.6" y="408.6" width="7.8" height="12.4" fill="#2e4c85" stroke="#1d3a70" stroke-width="0.5"/>
<line x1="187.5" y1="408.6" x2="187.5" y2="405.8" stroke="#111" stroke-width="0.75" />
<line x1="186.1" y1="405.5" x2="188.9" y2="405.5" stroke="#111" stroke-width="0.75" />
<circle cx="185.5" cy="404.0" r="1.2" fill="#9aa6a3" stroke="#111" stroke-width="0.6"/>
<circle cx="188.0" cy="403.5" r="1.2" fill="#9aa6a3" stroke="#111" stroke-width="0.6"/>
<circle cx="187.4" cy="410.4" r="1.2" fill="#9aa6a3" stroke="#111" stroke-width="0.6"/>
<circle cx="187.4" cy="415.0" r="1.2" fill="#9aa6a3" stroke="#111" stroke-width="0.6"/>
<rect x="195.2" y="406.1" width="8.1" height="14.9" fill="#a8002c" stroke="#8c0022" stroke-width="0.5"/>
<line x1="199.5" y1="406.1" x2="199.5" y2="403.4" stroke="#111" stroke-width="0.75" />
<line x1="197.8" y1="403.5" x2="200.7" y2="403.5" stroke="#111" stroke-width="0.75" />
<circle cx="198.0" cy="402.0" r="1.2" fill="#9aa6a3" stroke="#111" stroke-width="0.6"/>
<circle cx="201.0" cy="401.0" r="1.2" fill="#9aa6a3" stroke="#111" stroke-width="0.6"/>
<circle cx="199.0" cy="405.5" r="1.2" fill="#9aa6a3" stroke="#111" stroke-width="0.6"/>
<circle cx="199.0" cy="413.5" r="1.2" fill="#9aa6a3" stroke="#111" stroke-width="0.6"/>
<rect x="205.5" y="402.0" width="8.0" height="19.0" fill="#2e4c85" stroke="#1d3a70" stroke-width="0.5"/>
<line x1="209.5" y1="402.0" x2="209.5" y2="398.5" stroke="#111" stroke-width="0.75" />
<line x1="208.1" y1="398.5" x2="210.9" y2="398.5" stroke="#111" stroke-width="0.75" />
<circle cx="207.5" cy="397.5" r="1.2" fill="#9aa6a3" stroke="#111" stroke-width="0.6"/>
<circle cx="211.0" cy="395.0" r="1.2" fill="#9aa6a3" stroke="#111" stroke-width="0.6"/>
<circle cx="209.3" cy="405.0" r="1.2" fill="#9aa6a3" stroke="#111" stroke-width="0.6"/>
<circle cx="209.3" cy="408.5" r="1.2" fill="#9aa6a3" stroke="#111" stroke-width="0.6"/>
<rect x="221.3" y="384.5" width="8.3" height="36.5" fill="#a8002c" stroke="#8c0022" stroke-width="0.5"/>
<line x1="225.5" y1="384.5" x2="225.5" y2="376.4" stroke="#111" stroke-width="0.75" />
<line x1="224.0" y1="376.5" x2="226.8" y2="376.5" stroke="#111" stroke-width="0.75" />
<circle cx="225.5" cy="361.7" r="1.2" fill="#9aa6a3" stroke="#111" stroke-width="0.6"/>
<circle cx="225.5" cy="388.2" r="1.2" fill="#9aa6a3" stroke="#111" stroke-width="0.6"/>
<circle cx="224.0" cy="394.0" r="1.2" fill="#9aa6a3" stroke="#111" stroke-width="0.6"/>
<circle cx="227.0" cy="392.0" r="1.2" fill="#9aa6a3" stroke="#111" stroke-width="0.6"/>
<rect x="231.6" y="393.7" width="8.1" height="27.3" fill="#2e4c85" stroke="#1d3a70" stroke-width="0.5"/>
<line x1="235.5" y1="393.7" x2="235.5" y2="386.9" stroke="#111" stroke-width="0.75" />
<line x1="234.2" y1="386.5" x2="237.0" y2="386.5" stroke="#111" stroke-width="0.75" />
<circle cx="235.6" cy="374.6" r="1.2" fill="#9aa6a3" stroke="#111" stroke-width="0.6"/>
<circle cx="235.6" cy="395.6" r="1.2" fill="#9aa6a3" stroke="#111" stroke-width="0.6"/>
<circle cx="235.6" cy="399.5" r="1.2" fill="#9aa6a3" stroke="#111" stroke-width="0.6"/>
<circle cx="235.6" cy="403.4" r="1.2" fill="#9aa6a3" stroke="#111" stroke-width="0.6"/>
<rect x="243.7" y="381.1" width="8.1" height="39.9" fill="#a8002c" stroke="#8c0022" stroke-width="0.5"/>
<line x1="247.5" y1="381.1" x2="247.5" y2="376.4" stroke="#111" stroke-width="0.75" />
<line x1="246.3" y1="376.5" x2="249.2" y2="376.5" stroke="#111" stroke-width="0.75" />
<circle cx="247.6" cy="370.5" r="1.2" fill="#9aa6a3" stroke="#111" stroke-width="0.6"/>
<circle cx="246.0" cy="379.0" r="1.2" fill="#9aa6a3" stroke="#111" stroke-width="0.6"/>
<circle cx="249.0" cy="382.0" r="1.2" fill="#9aa6a3" stroke="#111" stroke-width="0.6"/>
<circle cx="247.6" cy="390.7" r="1.2" fill="#9aa6a3" stroke="#111" stroke-width="0.6"/>
<rect x="253.9" y="399.1" width="7.8" height="21.9" fill="#2e4c85" stroke="#1d3a70" stroke-width="0.5"/>
<line x1="257.5" y1="399.1" x2="257.5" y2="395.5" stroke="#111" stroke-width="0.75" />
<line x1="256.4" y1="395.5" x2="259.2" y2="395.5" stroke="#111" stroke-width="0.75" />
<circle cx="257.5" cy="390.8" r="1.2" fill="#9aa6a3" stroke="#111" stroke-width="0.6"/>
<circle cx="257.5" cy="395.5" r="1.2" fill="#9aa6a3" stroke="#111" stroke-width="0.6"/>
<circle cx="257.5" cy="401.0" r="1.2" fill="#9aa6a3" stroke="#111" stroke-width="0.6"/>
<circle cx="257.5" cy="405.8" r="1.2" fill="#9aa6a3" stroke="#111" stroke-width="0.6"/>
<line x1="169.5" y1="354.1" x2="169.5" y2="421.5" stroke="#1a1a1a" stroke-width="1.0" />
<line x1="168.8" y1="420.5" x2="265.8" y2="420.5" stroke="#1a1a1a" stroke-width="1.1" />
<text x="182.4" y="428.7" font-size="4.3" fill="#000" text-anchor="middle" textLength="12.8" lengthAdjust="spacingAndGlyphs" >Vehicle</text>
<text x="204.3" y="428.7" font-size="4.3" fill="#000" text-anchor="middle" textLength="20.2" lengthAdjust="spacingAndGlyphs" >12.5 mg/kg</text>
<text x="230.5" y="428.7" font-size="4.3" fill="#000" text-anchor="middle" textLength="12.8" lengthAdjust="spacingAndGlyphs" >Vehicle</text>
<text x="252.7" y="428.7" font-size="4.3" fill="#000" text-anchor="middle" textLength="20.2" lengthAdjust="spacingAndGlyphs" >12.5 mg/kg</text>
<line x1="175.4" y1="432.5" x2="214.7" y2="432.5" stroke="#222" stroke-width="0.9" />
<text x="195.1" y="440.6" font-size="5.8" fill="#222" stroke="#222" stroke-width="0.10" text-anchor="middle" textLength="13.0" lengthAdjust="spacingAndGlyphs" >Day 3</text>
<line x1="223.3" y1="432.5" x2="262.9" y2="432.5" stroke="#222" stroke-width="0.9" />
<text x="243.1" y="440.6" font-size="5.8" fill="#222" stroke="#222" stroke-width="0.10" text-anchor="middle" textLength="15.8" lengthAdjust="spacingAndGlyphs" >Day 17</text>
<text x="218.3" y="348.3" font-size="7.3" fill="#222" stroke="#222" stroke-width="0.13" text-anchor="middle" textLength="12" lengthAdjust="spacingAndGlyphs" >LSK</text>
<text x="148.6" y="388.0" font-size="6.4" fill="#222" stroke="#222" stroke-width="0.12" text-anchor="middle" textLength="70" lengthAdjust="spacingAndGlyphs" transform="rotate(-90 148.6 388.0)" >Total cells/ femur (x10<tspan font-size="4" dy="-2.4">6</tspan><tspan dy="2.4">)</tspan></text>
<line x1="280.3" y1="420.5" x2="282.5" y2="420.5" stroke="#1a1a1a" stroke-width="0.8" />
<text x="279.1" y="422.6" font-size="4.6" fill="#333" text-anchor="end" >0</text>
<line x1="280.3" y1="399.5" x2="282.5" y2="399.5" stroke="#1a1a1a" stroke-width="0.8" />
<text x="279.1" y="401.0" font-size="4.6" fill="#333" text-anchor="end" >5</text>
<line x1="280.3" y1="377.5" x2="282.5" y2="377.5" stroke="#1a1a1a" stroke-width="0.8" />
<text x="279.1" y="379.5" font-size="4.6" fill="#333" text-anchor="end" >10</text>
<line x1="280.3" y1="356.5" x2="282.5" y2="356.5" stroke="#1a1a1a" stroke-width="0.8" />
<text x="279.1" y="357.9" font-size="4.6" fill="#333" text-anchor="end" >15</text>
<path d="M331.1 355.9V421.0" stroke="#444" stroke-width="0.7" stroke-dasharray="0.7 1.1"/>
<rect x="286.8" y="383.2" width="8.1" height="37.8" fill="#a8002c" stroke="#8c0022" stroke-width="0.5"/>
<line x1="290.5" y1="383.2" x2="290.5" y2="375.6" stroke="#111" stroke-width="0.75" />
<line x1="289.5" y1="375.5" x2="292.2" y2="375.5" stroke="#111" stroke-width="0.75" />
<circle cx="290.7" cy="362.3" r="1.2" fill="#9aa6a3" stroke="#111" stroke-width="0.6"/>
<circle cx="290.7" cy="382.3" r="1.2" fill="#9aa6a3" stroke="#111" stroke-width="0.6"/>
<circle cx="290.7" cy="389.4" r="1.2" fill="#9aa6a3" stroke="#111" stroke-width="0.6"/>
<circle cx="290.7" cy="397.6" r="1.2" fill="#9aa6a3" stroke="#111" stroke-width="0.6"/>
<rect x="297.1" y="397.1" width="7.9" height="23.9" fill="#2e4c85" stroke="#1d3a70" stroke-width="0.5"/>
<line x1="301.5" y1="397.1" x2="301.5" y2="395.1" stroke="#111" stroke-width="0.75" />
<line x1="299.7" y1="395.5" x2="302.4" y2="395.5" stroke="#111" stroke-width="0.75" />
<circle cx="300.5" cy="396.5" r="1.2" fill="#9aa6a3" stroke="#111" stroke-width="0.6"/>
<circle cx="302.5" cy="394.5" r="1.2" fill="#9aa6a3" stroke="#111" stroke-width="0.6"/>
<circle cx="304.0" cy="397.0" r="1.2" fill="#9aa6a3" stroke="#111" stroke-width="0.6"/>
<circle cx="301.3" cy="398.0" r="1.2" fill="#9aa6a3" stroke="#111" stroke-width="0.6"/>
<rect x="309.1" y="389.0" width="8.0" height="32.0" fill="#a8002c" stroke="#8c0022" stroke-width="0.5"/>
<line x1="313.5" y1="389.0" x2="313.5" y2="386.1" stroke="#111" stroke-width="0.75" />
<line x1="311.7" y1="386.5" x2="314.5" y2="386.5" stroke="#111" stroke-width="0.75" />
<circle cx="312.7" cy="382.4" r="1.2" fill="#9aa6a3" stroke="#111" stroke-width="0.6"/>
<circle cx="312.7" cy="386.3" r="1.2" fill="#9aa6a3" stroke="#111" stroke-width="0.6"/>
<circle cx="311.4" cy="393.7" r="1.2" fill="#9aa6a3" stroke="#111" stroke-width="0.6"/>
<circle cx="314.5" cy="392.5" r="1.2" fill="#9aa6a3" stroke="#111" stroke-width="0.6"/>
<rect x="319.2" y="407.2" width="7.9" height="13.8" fill="#2e4c85" stroke="#1d3a70" stroke-width="0.5"/>
<line x1="323.5" y1="407.2" x2="323.5" y2="403.9" stroke="#111" stroke-width="0.75" />
<line x1="321.8" y1="403.5" x2="324.5" y2="403.5" stroke="#111" stroke-width="0.75" />
<circle cx="321.0" cy="407.5" r="1.2" fill="#9aa6a3" stroke="#111" stroke-width="0.6"/>
<circle cx="323.0" cy="405.5" r="1.2" fill="#9aa6a3" stroke="#111" stroke-width="0.6"/>
<circle cx="325.0" cy="407.5" r="1.2" fill="#9aa6a3" stroke="#111" stroke-width="0.6"/>
<circle cx="323.0" cy="404.0" r="1.2" fill="#9aa6a3" stroke="#111" stroke-width="0.6"/>
<rect x="335.0" y="395.1" width="8.1" height="25.9" fill="#a8002c" stroke="#8c0022" stroke-width="0.5"/>
<line x1="339.5" y1="395.1" x2="339.5" y2="391.5" stroke="#111" stroke-width="0.75" />
<line x1="337.7" y1="391.5" x2="340.4" y2="391.5" stroke="#111" stroke-width="0.75" />
<circle cx="339.3" cy="385.8" r="1.2" fill="#9aa6a3" stroke="#111" stroke-width="0.6"/>
<circle cx="336.5" cy="396.5" r="1.2" fill="#9aa6a3" stroke="#111" stroke-width="0.6"/>
<circle cx="339.3" cy="399.0" r="1.2" fill="#9aa6a3" stroke="#111" stroke-width="0.6"/>
<circle cx="341.5" cy="397.0" r="1.2" fill="#9aa6a3" stroke="#111" stroke-width="0.6"/>
<rect x="345.3" y="397.1" width="8.1" height="23.9" fill="#2e4c85" stroke="#1d3a70" stroke-width="0.5"/>
<line x1="349.5" y1="397.1" x2="349.5" y2="392.6" stroke="#111" stroke-width="0.75" />
<line x1="348.0" y1="392.5" x2="350.8" y2="392.5" stroke="#111" stroke-width="0.75" />
<circle cx="349.4" cy="385.6" r="1.2" fill="#9aa6a3" stroke="#111" stroke-width="0.6"/>
<circle cx="349.4" cy="397.5" r="1.2" fill="#9aa6a3" stroke="#111" stroke-width="0.6"/>
<circle cx="350.5" cy="400.5" r="1.2" fill="#9aa6a3" stroke="#111" stroke-width="0.6"/>
<circle cx="347.5" cy="403.0" r="1.2" fill="#9aa6a3" stroke="#111" stroke-width="0.6"/>
<rect x="357.1" y="391.0" width="8.4" height="30.0" fill="#a8002c" stroke="#8c0022" stroke-width="0.5"/>
<line x1="361.5" y1="391.0" x2="361.5" y2="388.0" stroke="#111" stroke-width="0.75" />
<line x1="359.9" y1="388.5" x2="362.7" y2="388.5" stroke="#111" stroke-width="0.75" />
<circle cx="361.5" cy="384.5" r="1.2" fill="#9aa6a3" stroke="#111" stroke-width="0.6"/>
<circle cx="361.5" cy="388.2" r="1.2" fill="#9aa6a3" stroke="#111" stroke-width="0.6"/>
<circle cx="360.0" cy="395.0" r="1.2" fill="#9aa6a3" stroke="#111" stroke-width="0.6"/>
<circle cx="363.0" cy="394.0" r="1.2" fill="#9aa6a3" stroke="#111" stroke-width="0.6"/>
<rect x="367.7" y="393.1" width="7.8" height="27.9" fill="#2e4c85" stroke="#1d3a70" stroke-width="0.5"/>
<line x1="371.5" y1="393.1" x2="371.5" y2="390.8" stroke="#111" stroke-width="0.75" />
<line x1="370.2" y1="390.5" x2="373.0" y2="390.5" stroke="#111" stroke-width="0.75" />
<circle cx="369.8" cy="387.8" r="1.2" fill="#9aa6a3" stroke="#111" stroke-width="0.6"/>
<circle cx="372.5" cy="390.0" r="1.2" fill="#9aa6a3" stroke="#111" stroke-width="0.6"/>
<circle cx="373.5" cy="396.0" r="1.2" fill="#9aa6a3" stroke="#111" stroke-width="0.6"/>
<circle cx="370.5" cy="397.5" r="1.2" fill="#9aa6a3" stroke="#111" stroke-width="0.6"/>
<line x1="282.5" y1="353.5" x2="282.5" y2="421.5" stroke="#1a1a1a" stroke-width="1.0" />
<line x1="282.0" y1="420.5" x2="379.8" y2="420.5" stroke="#1a1a1a" stroke-width="1.1" />
<text x="295.9" y="428.7" font-size="4.3" fill="#000" text-anchor="middle" textLength="12.8" lengthAdjust="spacingAndGlyphs" >Vehicle</text>
<text x="318.1" y="428.7" font-size="4.3" fill="#000" text-anchor="middle" textLength="20.2" lengthAdjust="spacingAndGlyphs" >12.5 mg/kg</text>
<text x="344.2" y="428.7" font-size="4.3" fill="#000" text-anchor="middle" textLength="12.8" lengthAdjust="spacingAndGlyphs" >Vehicle</text>
<text x="366.3" y="428.7" font-size="4.3" fill="#000" text-anchor="middle" textLength="20.2" lengthAdjust="spacingAndGlyphs" >12.5 mg/kg</text>
<line x1="288.8" y1="432.5" x2="328.3" y2="432.5" stroke="#222" stroke-width="0.9" />
<text x="308.6" y="440.6" font-size="5.8" fill="#222" stroke="#222" stroke-width="0.10" text-anchor="middle" textLength="13.0" lengthAdjust="spacingAndGlyphs" >Day 3</text>
<line x1="337.0" y1="432.5" x2="376.7" y2="432.5" stroke="#222" stroke-width="0.9" />
<text x="356.9" y="440.6" font-size="5.8" fill="#222" stroke="#222" stroke-width="0.10" text-anchor="middle" textLength="15.8" lengthAdjust="spacingAndGlyphs" >Day 17</text>
<text x="330.8" y="348.3" font-size="7.3" fill="#222" stroke="#222" stroke-width="0.13" text-anchor="middle" textLength="36" lengthAdjust="spacingAndGlyphs" >Neutrophils</text>
<text x="461.8" y="331.7" font-size="7.6" fill="#222" stroke="#222" stroke-width="0.14" text-anchor="middle" textLength="27" lengthAdjust="spacingAndGlyphs" >Thymus</text>
<line x1="411.0" y1="336.1" x2="512.7" y2="336.1" stroke="#3a3a3a" stroke-width="1.5" />
<line x1="408.3" y1="420.5" x2="410.5" y2="420.5" stroke="#1a1a1a" stroke-width="0.8" />
<text x="407.1" y="422.6" font-size="4.6" fill="#333" text-anchor="end" >0</text>
<line x1="408.3" y1="398.5" x2="410.5" y2="398.5" stroke="#1a1a1a" stroke-width="0.8" />
<text x="407.1" y="399.9" font-size="4.6" fill="#333" text-anchor="end" >5</text>
<line x1="408.3" y1="375.5" x2="410.5" y2="375.5" stroke="#1a1a1a" stroke-width="0.8" />
<text x="407.1" y="377.3" font-size="4.6" fill="#333" text-anchor="end" >10</text>
<line x1="408.3" y1="352.5" x2="410.5" y2="352.5" stroke="#1a1a1a" stroke-width="0.8" />
<text x="407.1" y="354.6" font-size="4.6" fill="#333" text-anchor="end" >15</text>
<path d="M461.7 352.4V421.0" stroke="#444" stroke-width="0.7" stroke-dasharray="0.7 1.1"/>
<rect x="415.0" y="389.3" width="8.5" height="31.7" fill="#a8002c" stroke="#8c0022" stroke-width="0.5"/>
<line x1="419.5" y1="389.3" x2="419.5" y2="380.4" stroke="#111" stroke-width="0.75" />
<line x1="417.9" y1="380.5" x2="420.6" y2="380.5" stroke="#111" stroke-width="0.75" />
<circle cx="417.5" cy="375.5" r="1.2" fill="#9aa6a3" stroke="#111" stroke-width="0.6"/>
<circle cx="420.8" cy="373.5" r="1.2" fill="#9aa6a3" stroke="#111" stroke-width="0.6"/>
<circle cx="419.3" cy="401.5" r="1.2" fill="#9aa6a3" stroke="#111" stroke-width="0.6"/>
<circle cx="419.3" cy="405.5" r="1.2" fill="#9aa6a3" stroke="#111" stroke-width="0.6"/>
<rect x="425.8" y="390.6" width="8.2" height="30.4" fill="#2e4c85" stroke="#1d3a70" stroke-width="0.5"/>
<line x1="429.5" y1="390.6" x2="429.5" y2="384.2" stroke="#111" stroke-width="0.75" />
<line x1="428.5" y1="384.5" x2="431.3" y2="384.5" stroke="#111" stroke-width="0.75" />
<circle cx="429.8" cy="375.2" r="1.2" fill="#9aa6a3" stroke="#111" stroke-width="0.6"/>
<circle cx="429.8" cy="388.5" r="1.2" fill="#9aa6a3" stroke="#111" stroke-width="0.6"/>
<circle cx="429.8" cy="396.0" r="1.2" fill="#9aa6a3" stroke="#111" stroke-width="0.6"/>
<circle cx="429.8" cy="400.5" r="1.2" fill="#9aa6a3" stroke="#111" stroke-width="0.6"/>
<rect x="438.2" y="390.6" width="8.6" height="30.4" fill="#a8002c" stroke="#8c0022" stroke-width="0.5"/>
<line x1="442.5" y1="390.6" x2="442.5" y2="385.4" stroke="#111" stroke-width="0.75" />
<line x1="441.1" y1="385.5" x2="443.9" y2="385.5" stroke="#111" stroke-width="0.75" />
<circle cx="442.5" cy="377.8" r="1.2" fill="#9aa6a3" stroke="#111" stroke-width="0.6"/>
<circle cx="442.5" cy="388.5" r="1.2" fill="#9aa6a3" stroke="#111" stroke-width="0.6"/>
<circle cx="441.0" cy="397.3" r="1.2" fill="#9aa6a3" stroke="#111" stroke-width="0.6"/>
<circle cx="444.0" cy="397.3" r="1.2" fill="#9aa6a3" stroke="#111" stroke-width="0.6"/>
<rect x="449.0" y="397.5" width="8.0" height="23.5" fill="#2e4c85" stroke="#1d3a70" stroke-width="0.5"/>
<line x1="452.5" y1="397.5" x2="452.5" y2="394.5" stroke="#111" stroke-width="0.75" />
<line x1="451.6" y1="394.5" x2="454.4" y2="394.5" stroke="#111" stroke-width="0.75" />
<circle cx="453.0" cy="391.0" r="1.2" fill="#9aa6a3" stroke="#111" stroke-width="0.6"/>
<circle cx="451.5" cy="395.5" r="1.2" fill="#9aa6a3" stroke="#111" stroke-width="0.6"/>
<circle cx="454.5" cy="395.5" r="1.2" fill="#9aa6a3" stroke="#111" stroke-width="0.6"/>
<circle cx="453.0" cy="406.3" r="1.2" fill="#9aa6a3" stroke="#111" stroke-width="0.6"/>
<rect x="466.0" y="390.0" width="8.3" height="31.0" fill="#a8002c" stroke="#8c0022" stroke-width="0.5"/>
<line x1="470.5" y1="390.0" x2="470.5" y2="385.6" stroke="#111" stroke-width="0.75" />
<line x1="468.8" y1="385.5" x2="471.5" y2="385.5" stroke="#111" stroke-width="0.75" />
<circle cx="470.0" cy="381.6" r="1.2" fill="#9aa6a3" stroke="#111" stroke-width="0.6"/>
<circle cx="470.0" cy="385.8" r="1.2" fill="#9aa6a3" stroke="#111" stroke-width="0.6"/>
<circle cx="470.0" cy="392.4" r="1.2" fill="#9aa6a3" stroke="#111" stroke-width="0.6"/>
<circle cx="470.0" cy="399.0" r="1.2" fill="#9aa6a3" stroke="#111" stroke-width="0.6"/>
<rect x="476.3" y="390.0" width="8.5" height="31.0" fill="#2e4c85" stroke="#1d3a70" stroke-width="0.5"/>
<line x1="480.5" y1="390.0" x2="480.5" y2="385.0" stroke="#111" stroke-width="0.75" />
<line x1="479.2" y1="384.5" x2="481.9" y2="384.5" stroke="#111" stroke-width="0.75" />
<circle cx="480.5" cy="382.5" r="1.2" fill="#9aa6a3" stroke="#111" stroke-width="0.6"/>
<circle cx="479.0" cy="385.5" r="1.2" fill="#9aa6a3" stroke="#111" stroke-width="0.6"/>
<circle cx="482.0" cy="386.5" r="1.2" fill="#9aa6a3" stroke="#111" stroke-width="0.6"/>
<circle cx="480.5" cy="402.8" r="1.2" fill="#9aa6a3" stroke="#111" stroke-width="0.6"/>
<rect x="489.2" y="391.2" width="8.4" height="29.8" fill="#a8002c" stroke="#8c0022" stroke-width="0.5"/>
<line x1="493.5" y1="391.2" x2="493.5" y2="387.8" stroke="#111" stroke-width="0.75" />
<line x1="492.0" y1="387.5" x2="494.8" y2="387.5" stroke="#111" stroke-width="0.75" />
<circle cx="493.3" cy="382.0" r="1.2" fill="#9aa6a3" stroke="#111" stroke-width="0.6"/>
<circle cx="490.5" cy="393.5" r="1.2" fill="#9aa6a3" stroke="#111" stroke-width="0.6"/>
<circle cx="493.5" cy="395.5" r="1.2" fill="#9aa6a3" stroke="#111" stroke-width="0.6"/>
<circle cx="496.0" cy="393.5" r="1.2" fill="#9aa6a3" stroke="#111" stroke-width="0.6"/>
<rect x="499.8" y="392.0" width="8.3" height="29.0" fill="#2e4c85" stroke="#1d3a70" stroke-width="0.5"/>
<line x1="503.5" y1="392.0" x2="503.5" y2="388.4" stroke="#111" stroke-width="0.75" />
<line x1="502.6" y1="388.5" x2="505.4" y2="388.5" stroke="#111" stroke-width="0.75" />
<circle cx="503.5" cy="383.2" r="1.2" fill="#9aa6a3" stroke="#111" stroke-width="0.6"/>
<circle cx="502.5" cy="391.5" r="1.2" fill="#9aa6a3" stroke="#111" stroke-width="0.6"/>
<circle cx="505.5" cy="394.5" r="1.2" fill="#9aa6a3" stroke="#111" stroke-width="0.6"/>
<circle cx="503.8" cy="398.0" r="1.2" fill="#9aa6a3" stroke="#111" stroke-width="0.6"/>
<line x1="410.5" y1="350.4" x2="410.5" y2="421.5" stroke="#1a1a1a" stroke-width="1.0" />
<line x1="410.0" y1="420.5" x2="512.2" y2="420.5" stroke="#1a1a1a" stroke-width="1.1" />
<text x="424.5" y="428.7" font-size="4.3" fill="#000" text-anchor="middle" textLength="12.8" lengthAdjust="spacingAndGlyphs" >Vehicle</text>
<text x="447.6" y="428.7" font-size="4.3" fill="#000" text-anchor="middle" textLength="20.2" lengthAdjust="spacingAndGlyphs" >12.5 mg/kg</text>
<text x="475.4" y="428.7" font-size="4.3" fill="#000" text-anchor="middle" textLength="12.8" lengthAdjust="spacingAndGlyphs" >Vehicle</text>
<text x="498.6" y="428.7" font-size="4.3" fill="#000" text-anchor="middle" textLength="20.2" lengthAdjust="spacingAndGlyphs" >12.5 mg/kg</text>
<line x1="417.0" y1="432.5" x2="458.2" y2="432.5" stroke="#222" stroke-width="0.9" />
<text x="437.6" y="440.6" font-size="5.8" fill="#222" stroke="#222" stroke-width="0.10" text-anchor="middle" textLength="13.0" lengthAdjust="spacingAndGlyphs" >Day 3</text>
<line x1="468.0" y1="432.5" x2="509.3" y2="432.5" stroke="#222" stroke-width="0.9" />
<text x="488.6" y="440.6" font-size="5.8" fill="#222" stroke="#222" stroke-width="0.10" text-anchor="middle" textLength="15.8" lengthAdjust="spacingAndGlyphs" >Day 17</text>
<text x="461.6" y="348.3" font-size="7.3" fill="#222" stroke="#222" stroke-width="0.13" text-anchor="middle" textLength="15" lengthAdjust="spacingAndGlyphs" >CD4<tspan font-size="4.5" dy="-2.5">+</tspan></text>
<text x="394.4" y="386.0" font-size="6.4" fill="#222" stroke="#222" stroke-width="0.12" text-anchor="middle" textLength="50" lengthAdjust="spacingAndGlyphs" transform="rotate(-90 394.4 386.0)" >Total cells (x10<tspan font-size="4" dy="-2.4">6</tspan><tspan dy="2.4">)</tspan></text>
<line x1="408.2" y1="531.5" x2="410.4" y2="531.5" stroke="#1a1a1a" stroke-width="0.8" />
<text x="407.0" y="532.8" font-size="4.6" fill="#333" text-anchor="end" >0</text>
<line x1="408.2" y1="508.5" x2="410.4" y2="508.5" stroke="#1a1a1a" stroke-width="0.8" />
<text x="407.0" y="510.5" font-size="4.6" fill="#333" text-anchor="end" >1</text>
<line x1="408.2" y1="486.5" x2="410.4" y2="486.5" stroke="#1a1a1a" stroke-width="0.8" />
<text x="407.0" y="488.2" font-size="4.6" fill="#333" text-anchor="end" >2</text>
<line x1="408.2" y1="464.5" x2="410.4" y2="464.5" stroke="#1a1a1a" stroke-width="0.8" />
<text x="407.0" y="465.9" font-size="4.6" fill="#333" text-anchor="end" >3</text>
<path d="M461.0 464.1V531.2" stroke="#444" stroke-width="0.7" stroke-dasharray="0.7 1.1"/>
<rect x="414.9" y="505.1" width="8.2" height="26.1" fill="#a8002c" stroke="#8c0022" stroke-width="0.5"/>
<line x1="418.5" y1="505.1" x2="418.5" y2="497.2" stroke="#111" stroke-width="0.75" />
<line x1="417.6" y1="497.5" x2="420.4" y2="497.5" stroke="#111" stroke-width="0.75" />
<circle cx="417.0" cy="491.5" r="1.2" fill="#9aa6a3" stroke="#111" stroke-width="0.6"/>
<circle cx="420.0" cy="491.8" r="1.2" fill="#9aa6a3" stroke="#111" stroke-width="0.6"/>
<circle cx="422.0" cy="492.0" r="1.2" fill="#9aa6a3" stroke="#111" stroke-width="0.6"/>
<circle cx="417.5" cy="518.5" r="1.2" fill="#9aa6a3" stroke="#111" stroke-width="0.6"/>
<circle cx="420.8" cy="516.0" r="1.2" fill="#9aa6a3" stroke="#111" stroke-width="0.6"/>
<rect x="425.5" y="499.0" width="8.3" height="32.2" fill="#2e4c85" stroke="#1d3a70" stroke-width="0.5"/>
<line x1="429.5" y1="499.0" x2="429.5" y2="490.2" stroke="#111" stroke-width="0.75" />
<line x1="428.2" y1="490.5" x2="431.0" y2="490.5" stroke="#111" stroke-width="0.75" />
<circle cx="429.6" cy="474.5" r="1.2" fill="#9aa6a3" stroke="#111" stroke-width="0.6"/>
<circle cx="427.5" cy="502.5" r="1.2" fill="#9aa6a3" stroke="#111" stroke-width="0.6"/>
<circle cx="431.0" cy="503.5" r="1.2" fill="#9aa6a3" stroke="#111" stroke-width="0.6"/>
<circle cx="429.6" cy="513.5" r="1.2" fill="#9aa6a3" stroke="#111" stroke-width="0.6"/>
<rect x="437.9" y="507.5" width="8.3" height="23.7" fill="#a8002c" stroke="#8c0022" stroke-width="0.5"/>
<line x1="442.5" y1="507.5" x2="442.5" y2="502.6" stroke="#111" stroke-width="0.75" />
<line x1="440.6" y1="502.5" x2="443.4" y2="502.5" stroke="#111" stroke-width="0.75" />
<circle cx="442.1" cy="496.0" r="1.2" fill="#9aa6a3" stroke="#111" stroke-width="0.6"/>
<circle cx="442.1" cy="504.0" r="1.2" fill="#9aa6a3" stroke="#111" stroke-width="0.6"/>
<circle cx="440.5" cy="514.0" r="1.2" fill="#9aa6a3" stroke="#111" stroke-width="0.6"/>
<circle cx="443.5" cy="513.5" r="1.2" fill="#9aa6a3" stroke="#111" stroke-width="0.6"/>
<rect x="448.7" y="511.6" width="8.1" height="19.6" fill="#2e4c85" stroke="#1d3a70" stroke-width="0.5"/>
<line x1="452.5" y1="511.6" x2="452.5" y2="508.5" stroke="#111" stroke-width="0.75" />
<line x1="451.4" y1="508.5" x2="454.1" y2="508.5" stroke="#111" stroke-width="0.75" />
<circle cx="452.5" cy="504.5" r="1.2" fill="#9aa6a3" stroke="#111" stroke-width="0.6"/>
<circle cx="450.5" cy="509.5" r="1.2" fill="#9aa6a3" stroke="#111" stroke-width="0.6"/>
<circle cx="454.0" cy="510.0" r="1.2" fill="#9aa6a3" stroke="#111" stroke-width="0.6"/>
<circle cx="452.5" cy="518.5" r="1.2" fill="#9aa6a3" stroke="#111" stroke-width="0.6"/>
<rect x="465.0" y="506.2" width="8.6" height="25.0" fill="#a8002c" stroke="#8c0022" stroke-width="0.5"/>
<line x1="469.5" y1="506.2" x2="469.5" y2="501.5" stroke="#111" stroke-width="0.75" />
<line x1="467.9" y1="501.5" x2="470.7" y2="501.5" stroke="#111" stroke-width="0.75" />
<circle cx="467.5" cy="498.5" r="1.2" fill="#9aa6a3" stroke="#111" stroke-width="0.6"/>
<circle cx="470.5" cy="497.0" r="1.2" fill="#9aa6a3" stroke="#111" stroke-width="0.6"/>
<circle cx="472.5" cy="496.0" r="1.2" fill="#9aa6a3" stroke="#111" stroke-width="0.6"/>
<circle cx="469.5" cy="510.0" r="1.2" fill="#9aa6a3" stroke="#111" stroke-width="0.6"/>
<circle cx="469.5" cy="516.0" r="1.2" fill="#9aa6a3" stroke="#111" stroke-width="0.6"/>
<rect x="475.8" y="499.0" width="8.1" height="32.2" fill="#2e4c85" stroke="#1d3a70" stroke-width="0.5"/>
<line x1="479.5" y1="499.0" x2="479.5" y2="495.6" stroke="#111" stroke-width="0.75" />
<line x1="478.5" y1="495.5" x2="481.2" y2="495.5" stroke="#111" stroke-width="0.75" />
<circle cx="478.5" cy="490.5" r="1.2" fill="#9aa6a3" stroke="#111" stroke-width="0.6"/>
<circle cx="481.5" cy="489.0" r="1.2" fill="#9aa6a3" stroke="#111" stroke-width="0.6"/>
<circle cx="480.0" cy="497.0" r="1.2" fill="#9aa6a3" stroke="#111" stroke-width="0.6"/>
<circle cx="479.8" cy="513.0" r="1.2" fill="#9aa6a3" stroke="#111" stroke-width="0.6"/>
<rect x="488.0" y="502.4" width="8.6" height="28.8" fill="#a8002c" stroke="#8c0022" stroke-width="0.5"/>
<line x1="492.5" y1="502.4" x2="492.5" y2="497.5" stroke="#111" stroke-width="0.75" />
<line x1="490.9" y1="497.5" x2="493.7" y2="497.5" stroke="#111" stroke-width="0.75" />
<circle cx="492.4" cy="490.5" r="1.2" fill="#9aa6a3" stroke="#111" stroke-width="0.6"/>
<circle cx="492.4" cy="500.0" r="1.2" fill="#9aa6a3" stroke="#111" stroke-width="0.6"/>
<circle cx="492.4" cy="505.0" r="1.2" fill="#9aa6a3" stroke="#111" stroke-width="0.6"/>
<circle cx="492.4" cy="513.3" r="1.2" fill="#9aa6a3" stroke="#111" stroke-width="0.6"/>
<rect x="498.8" y="505.1" width="8.3" height="26.1" fill="#2e4c85" stroke="#1d3a70" stroke-width="0.5"/>
<line x1="502.5" y1="505.1" x2="502.5" y2="501.3" stroke="#111" stroke-width="0.75" />
<line x1="501.6" y1="501.5" x2="504.4" y2="501.5" stroke="#111" stroke-width="0.75" />
<circle cx="503.0" cy="497.2" r="1.2" fill="#9aa6a3" stroke="#111" stroke-width="0.6"/>
<circle cx="500.5" cy="505.0" r="1.2" fill="#9aa6a3" stroke="#111" stroke-width="0.6"/>
<circle cx="504.5" cy="505.0" r="1.2" fill="#9aa6a3" stroke="#111" stroke-width="0.6"/>
<circle cx="503.0" cy="509.1" r="1.2" fill="#9aa6a3" stroke="#111" stroke-width="0.6"/>
<line x1="410.5" y1="461.3" x2="410.5" y2="531.7" stroke="#1a1a1a" stroke-width="1.0" />
<line x1="409.9" y1="531.5" x2="511.6" y2="531.5" stroke="#1a1a1a" stroke-width="1.1" />
<text x="424.4" y="538.9" font-size="4.3" fill="#000" text-anchor="middle" textLength="12.8" lengthAdjust="spacingAndGlyphs" >Vehicle</text>
<text x="447.4" y="538.9" font-size="4.3" fill="#000" text-anchor="middle" textLength="20.2" lengthAdjust="spacingAndGlyphs" >12.5 mg/kg</text>
<text x="474.4" y="538.9" font-size="4.3" fill="#000" text-anchor="middle" textLength="12.8" lengthAdjust="spacingAndGlyphs" >Vehicle</text>
<text x="497.6" y="538.9" font-size="4.3" fill="#000" text-anchor="middle" textLength="20.2" lengthAdjust="spacingAndGlyphs" >12.5 mg/kg</text>
<line x1="416.9" y1="542.5" x2="458.0" y2="542.5" stroke="#222" stroke-width="0.9" />
<text x="437.4" y="550.8" font-size="5.8" fill="#222" stroke="#222" stroke-width="0.10" text-anchor="middle" textLength="13.0" lengthAdjust="spacingAndGlyphs" >Day 3</text>
<line x1="467.0" y1="542.5" x2="508.3" y2="542.5" stroke="#222" stroke-width="0.9" />
<text x="487.6" y="550.8" font-size="5.8" fill="#222" stroke="#222" stroke-width="0.10" text-anchor="middle" textLength="15.8" lengthAdjust="spacingAndGlyphs" >Day 17</text>
<text x="460.8" y="456.2" font-size="7.3" fill="#222" stroke="#222" stroke-width="0.13" text-anchor="middle" textLength="15" lengthAdjust="spacingAndGlyphs" >CD8<tspan font-size="4.5" dy="-2.5">+</tspan></text>
<text x="397.1" y="497.2" font-size="6.4" fill="#222" stroke="#222" stroke-width="0.12" text-anchor="middle" textLength="48.5" lengthAdjust="spacingAndGlyphs" transform="rotate(-90 397.1 497.2)" >Total cells (x10<tspan font-size="4" dy="-2.4">6</tspan><tspan dy="2.4">)</tspan></text>
<defs>
<filter id="spkW" color-interpolation-filters="sRGB" x="0" y="0" width="100%" height="100%"><feTurbulence type="fractalNoise" baseFrequency="0.9" numOctaves="2" seed="3"/><feColorMatrix values="0 0 0 0 1  0 0 0 0 1  0 0 0 0 1  4 0 0 0 -2.3"/></filter>
<filter id="spkW2" color-interpolation-filters="sRGB" x="0" y="0" width="100%" height="100%"><feTurbulence type="fractalNoise" baseFrequency="0.7" numOctaves="2" seed="11"/><feColorMatrix values="0 0 0 0 1  0 0 0 0 1  0 0 0 0 1  5 0 0 0 -2.9"/></filter>
<filter id="spkD" color-interpolation-filters="sRGB" x="0" y="0" width="100%" height="100%"><feTurbulence type="fractalNoise" baseFrequency="0.8" numOctaves="2" seed="5"/><feColorMatrix values="0 0 0 0 0.25  0 0 0 0 0.1  0 0 0 0 0.45  4 0 0 0 -2.1"/></filter>
<filter id="spkP" color-interpolation-filters="sRGB" x="0" y="0" width="100%" height="100%"><feTurbulence type="fractalNoise" baseFrequency="0.6" numOctaves="2" seed="8"/><feColorMatrix values="0 0 0 0 0.95  0 0 0 0 0.6  0 0 0 0 0.9  4 0 0 0 -2.0"/></filter>
<filter id="pnet" color-interpolation-filters="sRGB" x="0" y="0" width="100%" height="100%"><feTurbulence type="fractalNoise" baseFrequency="0.16" numOctaves="2" seed="21"/><feColorMatrix values="0 0 0 0 0.68  0 0 0 0 0.42  0 0 0 0 0.66  4 0 0 0 -1.6"/></filter>
<filter id="grW" color-interpolation-filters="sRGB" x="0" y="0" width="100%" height="100%"><feTurbulence type="fractalNoise" baseFrequency="1.1" numOctaves="1" seed="4"/><feColorMatrix values="0 0 0 0 1  0 0 0 0 1  0 0 0 0 1  3 0 0 0 -1.3"/></filter>
<filter id="grD" color-interpolation-filters="sRGB" x="0" y="0" width="100%" height="100%"><feTurbulence type="fractalNoise" baseFrequency="1.1" numOctaves="1" seed="9"/><feColorMatrix values="0 0 0 0 0.2  0 0 0 0 0.1  0 0 0 0 0.4  3 0 0 0 -1.3"/></filter>
<filter id="fb" color-interpolation-filters="sRGB" x="-50%" y="-50%" width="200%" height="200%"><feGaussianBlur stdDeviation="1.6"/></filter>
<filter id="fb3" color-interpolation-filters="sRGB" x="-50%" y="-50%" width="200%" height="200%"><feGaussianBlur stdDeviation="1.1"/></filter>
<filter id="fb2" color-interpolation-filters="sRGB" x="-50%" y="-50%" width="200%" height="200%"><feGaussianBlur stdDeviation="0.8"/></filter>
</defs>
<text x="141.5" y="454.0" font-size="7.6" fill="#222" stroke="#222" stroke-width="0.14" text-anchor="middle" textLength="21.6" lengthAdjust="spacingAndGlyphs" >Spleen</text>
<line x1="66.2" y1="457.7" x2="218.6" y2="457.7" stroke="#3a3a3a" stroke-width="1.4" />
<text x="100.0" y="465.8" font-size="5.6" fill="#222" stroke="#222" stroke-width="0.10" text-anchor="middle" textLength="13" lengthAdjust="spacingAndGlyphs" >Day 3</text>
<text x="180.8" y="465.8" font-size="5.6" fill="#222" stroke="#222" stroke-width="0.10" text-anchor="middle" textLength="16" lengthAdjust="spacingAndGlyphs" >Day 17</text>
<line x1="62.5" y1="469.5" x2="138.5" y2="469.5" stroke="#3a3a3a" stroke-width="1.2" />
<line x1="142.9" y1="469.5" x2="218.6" y2="469.5" stroke="#3a3a3a" stroke-width="1.2" />
<text x="80.6" y="477.4" font-size="5.0" fill="#222" text-anchor="middle" textLength="15.5" lengthAdjust="spacingAndGlyphs" >Vehicle</text>
<text x="120.6" y="477.4" font-size="5.0" fill="#222" text-anchor="middle" textLength="38" lengthAdjust="spacingAndGlyphs" >12.5 mg/kg 5 days</text>
<text x="160.2" y="477.4" font-size="5.0" fill="#222" text-anchor="middle" textLength="15.5" lengthAdjust="spacingAndGlyphs" >Vehicle</text>
<text x="200.8" y="477.4" font-size="5.0" fill="#222" text-anchor="middle" textLength="38" lengthAdjust="spacingAndGlyphs" >12.5 mg/kg 5 days</text>
<text x="57.6" y="499.5" font-size="5.2" fill="#222" text-anchor="middle" transform="rotate(-90 57.6 499.5)" >Mcl-1<tspan font-size="3.2" dy="-2">fl/fl</tspan></text>
<text x="57.6" y="540.2" font-size="5.2" fill="#222" text-anchor="middle" transform="rotate(-90 57.6 540.2)" >Mcl-1<tspan font-size="3.2" dy="-2">wt/wt</tspan></text>
<svg x="62" y="481" width="37" height="37" viewBox="0 0 36.7 36.9" preserveAspectRatio="none"><rect width="36.7" height="36.9" fill="#7e66ae"/><rect width="36.7" height="36.9" filter="url(#pnet)" opacity="0.35"/><ellipse cx="14.4" cy="18.4" rx="7.3" ry="7.3" fill="none" stroke="#b898cc" stroke-width="1.2" opacity="0.6" filter="url(#fb2)"/><ellipse cx="14.4" cy="18.4" rx="6.3" ry="6.3" fill="#56519f" opacity="0.72" filter="url(#fb3)"/><ellipse cx="31" cy="7" rx="8" ry="8" fill="none" stroke="#b898cc" stroke-width="1.2" opacity="0.6" filter="url(#fb2)"/><ellipse cx="31" cy="7" rx="7" ry="7" fill="#56519f" opacity="0.72" filter="url(#fb3)"/><ellipse cx="26" cy="31" rx="9" ry="6" fill="none" stroke="#b898cc" stroke-width="1.2" opacity="0.6" filter="url(#fb2)"/><ellipse cx="26" cy="31" rx="8" ry="5" fill="#56519f" opacity="0.72" filter="url(#fb3)"/><rect width="36.7" height="36.9" filter="url(#grW)" opacity="0.25"/><rect width="36.7" height="36.9" filter="url(#grD)" opacity="0.25"/></svg>
<rect x="62.5" y="481.5" width="36" height="36" fill="none" stroke="#1a1a2a" stroke-width="1"/>
<svg x="102" y="481" width="37" height="37" viewBox="0 0 36.7 36.9" preserveAspectRatio="none"><rect width="36.7" height="36.9" fill="#7e66ae"/><rect width="36.7" height="36.9" filter="url(#pnet)" opacity="0.3"/><ellipse cx="25" cy="12" rx="8" ry="7" fill="none" stroke="#b898cc" stroke-width="1.2" opacity="0.6" filter="url(#fb2)"/><ellipse cx="25" cy="12" rx="7" ry="6" fill="#56519f" opacity="0.35" filter="url(#fb3)"/><ellipse cx="10" cy="29" rx="6" ry="5" fill="none" stroke="#b898cc" stroke-width="1.2" opacity="0.6" filter="url(#fb2)"/><ellipse cx="10" cy="29" rx="5" ry="4" fill="#56519f" opacity="0.35" filter="url(#fb3)"/><rect width="36.7" height="36.9" filter="url(#grW)" opacity="0.25"/><rect width="36.7" height="36.9" filter="url(#grD)" opacity="0.25"/></svg>
<rect x="102.5" y="481.5" width="36" height="36" fill="none" stroke="#1a1a2a" stroke-width="1"/>
<svg x="142" y="481" width="37" height="37" viewBox="0 0 36.7 36.9" preserveAspectRatio="none"><rect width="36.7" height="36.9" fill="#7e66ae"/><rect width="36.7" height="36.9" filter="url(#pnet)" opacity="0.7"/><ellipse cx="6" cy="17" rx="7" ry="7.5" fill="none" stroke="#b898cc" stroke-width="1.2" opacity="0.6" filter="url(#fb2)"/><ellipse cx="6" cy="17" rx="6" ry="6.5" fill="#56519f" opacity="0.72" filter="url(#fb3)"/><ellipse cx="20" cy="29" rx="9" ry="8" fill="none" stroke="#b898cc" stroke-width="1.2" opacity="0.6" filter="url(#fb2)"/><ellipse cx="20" cy="29" rx="8" ry="7" fill="#56519f" opacity="0.72" filter="url(#fb3)"/><ellipse cx="33" cy="30" rx="6" ry="7" fill="none" stroke="#b898cc" stroke-width="1.2" opacity="0.6" filter="url(#fb2)"/><ellipse cx="33" cy="30" rx="5" ry="6" fill="#56519f" opacity="0.72" filter="url(#fb3)"/><rect width="36.7" height="36.9" filter="url(#grW)" opacity="0.25"/><rect width="36.7" height="36.9" filter="url(#grD)" opacity="0.25"/></svg>
<rect x="142.5" y="481.5" width="36" height="36" fill="none" stroke="#1a1a2a" stroke-width="1"/>
<svg x="182" y="481" width="37" height="37" viewBox="0 0 36.7 36.9" preserveAspectRatio="none"><rect width="36.7" height="36.9" fill="#7e66ae"/><rect width="36.7" height="36.9" filter="url(#pnet)" opacity="0.75"/><ellipse cx="16" cy="10" rx="10" ry="9" fill="none" stroke="#b898cc" stroke-width="1.2" opacity="0.6" filter="url(#fb2)"/><ellipse cx="16" cy="10" rx="9" ry="8" fill="#56519f" opacity="0.72" filter="url(#fb3)"/><ellipse cx="28" cy="29" rx="9" ry="8" fill="none" stroke="#b898cc" stroke-width="1.2" opacity="0.6" filter="url(#fb2)"/><ellipse cx="28" cy="29" rx="8" ry="7" fill="#56519f" opacity="0.72" filter="url(#fb3)"/><ellipse cx="4" cy="22" rx="6" ry="6" fill="none" stroke="#b898cc" stroke-width="1.2" opacity="0.6" filter="url(#fb2)"/><ellipse cx="4" cy="22" rx="5" ry="5" fill="#56519f" opacity="0.72" filter="url(#fb3)"/><rect width="36.7" height="36.9" filter="url(#grW)" opacity="0.25"/><rect width="36.7" height="36.9" filter="url(#grD)" opacity="0.25"/></svg>
<rect x="182.5" y="481.5" width="36" height="36" fill="none" stroke="#1a1a2a" stroke-width="1"/>
<svg x="62" y="522" width="37" height="37" viewBox="0 0 36.7 36.9" preserveAspectRatio="none"><rect width="36.7" height="36.9" fill="#7e66ae"/><rect width="36.7" height="36.9" filter="url(#pnet)" opacity="0.4"/><ellipse cx="26" cy="12" rx="11" ry="10" fill="none" stroke="#b898cc" stroke-width="1.2" opacity="0.6" filter="url(#fb2)"/><ellipse cx="26" cy="12" rx="10" ry="9" fill="#56519f" opacity="0.72" filter="url(#fb3)"/><ellipse cx="8" cy="30" rx="10" ry="8" fill="none" stroke="#b898cc" stroke-width="1.2" opacity="0.6" filter="url(#fb2)"/><ellipse cx="8" cy="30" rx="9" ry="7" fill="#56519f" opacity="0.72" filter="url(#fb3)"/><rect width="36.7" height="36.9" filter="url(#grW)" opacity="0.25"/><rect width="36.7" height="36.9" filter="url(#grD)" opacity="0.25"/></svg>
<rect x="62.5" y="522.5" width="36" height="36" fill="none" stroke="#1a1a2a" stroke-width="1"/>
<svg x="102" y="522" width="37" height="37" viewBox="0 0 36.7 36.9" preserveAspectRatio="none"><rect width="36.7" height="36.9" fill="#7e66ae"/><rect width="36.7" height="36.9" filter="url(#pnet)" opacity="0.6"/><ellipse cx="10" cy="18" rx="8" ry="8" fill="none" stroke="#b898cc" stroke-width="1.2" opacity="0.6" filter="url(#fb2)"/><ellipse cx="10" cy="18" rx="7" ry="7" fill="#56519f" opacity="0.72" filter="url(#fb3)"/><ellipse cx="31" cy="11" rx="8" ry="8" fill="none" stroke="#b898cc" stroke-width="1.2" opacity="0.6" filter="url(#fb2)"/><ellipse cx="31" cy="11" rx="7" ry="7" fill="#56519f" opacity="0.72" filter="url(#fb3)"/><rect width="36.7" height="36.9" filter="url(#grW)" opacity="0.25"/><rect width="36.7" height="36.9" filter="url(#grD)" opacity="0.25"/></svg>
<rect x="102.5" y="522.5" width="36" height="36" fill="none" stroke="#1a1a2a" stroke-width="1"/>
<svg x="142" y="522" width="37" height="37" viewBox="0 0 36.7 36.9" preserveAspectRatio="none"><rect width="36.7" height="36.9" fill="#7e66ae"/><rect width="36.7" height="36.9" filter="url(#pnet)" opacity="0.9"/><ellipse cx="11" cy="26" rx="12" ry="11" fill="none" stroke="#b898cc" stroke-width="1.2" opacity="0.6" filter="url(#fb2)"/><ellipse cx="11" cy="26" rx="11" ry="10" fill="#56519f" opacity="0.72" filter="url(#fb3)"/><ellipse cx="33" cy="20" rx="6" ry="7" fill="none" stroke="#b898cc" stroke-width="1.2" opacity="0.6" filter="url(#fb2)"/><ellipse cx="33" cy="20" rx="5" ry="6" fill="#56519f" opacity="0.72" filter="url(#fb3)"/><rect width="36.7" height="36.9" filter="url(#grW)" opacity="0.25"/><rect width="36.7" height="36.9" filter="url(#grD)" opacity="0.25"/></svg>
<rect x="142.5" y="522.5" width="36" height="36" fill="none" stroke="#1a1a2a" stroke-width="1"/>
<svg x="182" y="522" width="37" height="37" viewBox="0 0 36.7 36.9" preserveAspectRatio="none"><rect width="36.7" height="36.9" fill="#7e66ae"/><rect width="36.7" height="36.9" filter="url(#pnet)" opacity="0.9"/><ellipse cx="13" cy="12" rx="12" ry="11" fill="none" stroke="#b898cc" stroke-width="1.2" opacity="0.6" filter="url(#fb2)"/><ellipse cx="13" cy="12" rx="11" ry="10" fill="#56519f" opacity="0.72" filter="url(#fb3)"/><ellipse cx="32" cy="28" rx="6" ry="7" fill="none" stroke="#b898cc" stroke-width="1.2" opacity="0.6" filter="url(#fb2)"/><ellipse cx="32" cy="28" rx="5" ry="6" fill="#56519f" opacity="0.72" filter="url(#fb3)"/><rect width="36.7" height="36.9" filter="url(#grW)" opacity="0.25"/><rect width="36.7" height="36.9" filter="url(#grD)" opacity="0.25"/></svg>
<rect x="182.5" y="522.5" width="36" height="36" fill="none" stroke="#1a1a2a" stroke-width="1"/>
<line x1="202.9" y1="560.5" x2="218.6" y2="560.5" stroke="#222" stroke-width="1.2" />
<text x="210.7" y="567.2" font-size="4.6" fill="#222" text-anchor="middle" textLength="13" lengthAdjust="spacingAndGlyphs" >100μm</text>
<text x="65.2" y="578.1" font-size="5.0" fill="#222" text-anchor="middle" textLength="15.5" lengthAdjust="spacingAndGlyphs" >Kidney</text>
<text x="114.2" y="578.1" font-size="5.0" fill="#222" text-anchor="middle" textLength="11" lengthAdjust="spacingAndGlyphs" >Liver</text>
<text x="163.1" y="578.1" font-size="5.0" fill="#222" text-anchor="middle" textLength="12.5" lengthAdjust="spacingAndGlyphs" >Heart</text>
<text x="212.2" y="578.1" font-size="5.0" fill="#222" text-anchor="middle" textLength="15.5" lengthAdjust="spacingAndGlyphs" >Muscle</text>
<text x="261.2" y="578.1" font-size="5.0" fill="#222" text-anchor="middle" textLength="20.5" lengthAdjust="spacingAndGlyphs" >Pancreas</text>
<text x="310.2" y="578.1" font-size="5.0" fill="#222" text-anchor="middle" textLength="13" lengthAdjust="spacingAndGlyphs" >Ovary</text>
<text x="358.8" y="578.1" font-size="5.0" fill="#222" text-anchor="middle" textLength="13.5" lengthAdjust="spacingAndGlyphs" >Testis</text>
<line x1="30.5" y1="585.0" x2="30.5" y2="677.7" stroke="#222" stroke-width="0.9" />
<text x="27.2" y="629.5" font-size="5.0" fill="#222" text-anchor="middle" transform="rotate(-90 27.2 629.5)" >Mcl-1<tspan font-size="3.2" dy="-2">fl/fl</tspan><tspan dy="2"> Day 3</tspan></text>
<text x="39.0" y="604.2" font-size="5.0" fill="#222" text-anchor="middle" textLength="15.5" lengthAdjust="spacingAndGlyphs" transform="rotate(-90 39.0 604.2)" >Vehicle</text>
<text x="39.0" y="651.0" font-size="5.0" fill="#222" text-anchor="middle" textLength="22.5" lengthAdjust="spacingAndGlyphs" transform="rotate(-90 39.0 651.0)" >12.5 mg/kg</text>
<svg x="43" y="582" width="45" height="45" viewBox="0 0 45.3 45.0" preserveAspectRatio="none"><rect width="45.3" height="45" fill="#a464aa"/><rect width="45.3" height="45" filter="url(#grW)" opacity="0.4"/><rect width="45.3" height="45" filter="url(#spkW)" opacity="0.35"/><rect width="45.3" height="45" filter="url(#grD)" opacity="0.2"/><ellipse cx="38.3" cy="29.8" rx="1.5" ry="1.2" fill="#6a50a8" opacity="0.75" filter="url(#fb2)"/><ellipse cx="32.9" cy="38.3" rx="1.5" ry="1.2" fill="#6a50a8" opacity="0.75" filter="url(#fb2)"/><ellipse cx="13.1" cy="27.8" rx="1.5" ry="1.2" fill="#6a50a8" opacity="0.75" filter="url(#fb2)"/><ellipse cx="38.3" cy="37.0" rx="1.5" ry="1.2" fill="#6a50a8" opacity="0.75" filter="url(#fb2)"/><ellipse cx="25.3" cy="9.6" rx="1.5" ry="1.2" fill="#6a50a8" opacity="0.75" filter="url(#fb2)"/><ellipse cx="19.0" cy="41.8" rx="1.5" ry="1.2" fill="#6a50a8" opacity="0.75" filter="url(#fb2)"/><ellipse cx="7.0" cy="15.4" rx="1.5" ry="1.2" fill="#6a50a8" opacity="0.75" filter="url(#fb2)"/><ellipse cx="40.1" cy="20.5" rx="1.5" ry="1.2" fill="#6a50a8" opacity="0.75" filter="url(#fb2)"/><ellipse cx="11.1" cy="15.4" rx="1.5" ry="1.2" fill="#6a50a8" opacity="0.75" filter="url(#fb2)"/><ellipse cx="38.4" cy="16.1" rx="1.5" ry="1.2" fill="#6a50a8" opacity="0.75" filter="url(#fb2)"/><ellipse cx="19.7" cy="27.5" rx="1.5" ry="1.2" fill="#6a50a8" opacity="0.75" filter="url(#fb2)"/><ellipse cx="34.4" cy="22.2" rx="1.5" ry="1.2" fill="#6a50a8" opacity="0.75" filter="url(#fb2)"/><ellipse cx="6.2" cy="25.4" rx="1.5" ry="1.2" fill="#6a50a8" opacity="0.75" filter="url(#fb2)"/></svg>
<rect x="43.5" y="582.5" width="44" height="44" fill="none" stroke="#1a1a2a" stroke-width="1"/>
<svg x="92" y="582" width="45" height="45" viewBox="0 0 45.3 45.0" preserveAspectRatio="none"><rect width="45.3" height="45" fill="#b282b6"/><rect width="45.3" height="45" filter="url(#grW)" opacity="0.28"/><rect width="45.3" height="45" filter="url(#grD)" opacity="0.2"/><ellipse cx="35" cy="37.5" rx="2.3" ry="3.4" fill="#e6e2ea" transform="rotate(-25 35 37.5)"/></svg>
<rect x="92.5" y="582.5" width="44" height="44" fill="none" stroke="#1a1a2a" stroke-width="1"/>
<svg x="140" y="582" width="46" height="45" viewBox="0 0 45.3 45.0" preserveAspectRatio="none"><rect width="45.3" height="45" fill="#bc7ab8"/><rect width="45.3" height="45" filter="url(#grW)" opacity="0.25"/><rect width="45.3" height="45" filter="url(#grD)" opacity="0.2"/></svg>
<rect x="140.5" y="582.5" width="45" height="44" fill="none" stroke="#1a1a2a" stroke-width="1"/>
<svg x="190" y="582" width="45" height="45" viewBox="0 0 45.3 45.0" preserveAspectRatio="none"><rect width="45.3" height="45" fill="#c0649e"/><rect width="45.3" height="45" filter="url(#grW)" opacity="0.15"/><rect width="45.3" height="45" filter="url(#grD)" opacity="0.12"/></svg>
<rect x="190.5" y="582.5" width="44" height="44" fill="none" stroke="#1a1a2a" stroke-width="1"/>
<svg x="239" y="582" width="45" height="45" viewBox="0 0 45.3 45.0" preserveAspectRatio="none"><rect width="45.3" height="45" fill="#7c5eae"/><rect width="45.3" height="45" filter="url(#grW)" opacity="0.3"/><rect width="45.3" height="45" filter="url(#grD)" opacity="0.35"/><ellipse cx="29.8" cy="26" rx="3.3" ry="3.4" fill="#c9a8d8" opacity="1" filter="url(#fb2)"/></svg>
<rect x="239.5" y="582.5" width="44" height="44" fill="none" stroke="#1a1a2a" stroke-width="1"/>
<svg x="288" y="582" width="45" height="45" viewBox="0 0 45.3 45.0" preserveAspectRatio="none"><rect width="45.3" height="45" fill="#8c6cb6"/><rect width="45.3" height="45" filter="url(#grW)" opacity="0.2"/><rect width="45.3" height="45" filter="url(#grD)" opacity="0.25"/><path d="M0 0H9Q4 3 0 9Z" fill="#cfcdd3"/><ellipse cx="10.6" cy="19.7" rx="8.3" ry="12.5" fill="#7a58a8"/><ellipse cx="10.6" cy="19.7" rx="7.3" ry="11.5" fill="#cfcdd3"/><circle cx="6.5" cy="23" r="3.3" fill="#8c6cb6"/><circle cx="6.5" cy="23" r="1.6" fill="#c8b8d8"/><path d="M0 38Q12 36 24 41Q34 44 45 40V45H0Z" fill="#cfcdd3"/><circle cx="29" cy="33.5" r="6" fill="#7c5aa8"/><circle cx="28" cy="33" r="1.3" fill="#eee"/><circle cx="31" cy="32" r="1.1" fill="#eee"/><circle cx="29" cy="36" r="1" fill="#eee"/><path d="M21 31L27 18" stroke="#d8a8c8" stroke-width="0.8"/></svg>
<rect x="288.5" y="582.5" width="44" height="44" fill="none" stroke="#1a1a2a" stroke-width="1"/>
<svg x="336" y="582" width="46" height="45" viewBox="0 0 45.3 45.0" preserveAspectRatio="none"><rect width="45.3" height="45" fill="#a05aa6"/><ellipse cx="5" cy="9" rx="6.9" ry="10.9" fill="#9a78b8" stroke="#86559e" stroke-width="0.6" transform="rotate(0 5 9)"/><ellipse cx="5" cy="9" rx="3.6" ry="6.0" fill="#c2acd4" filter="url(#fb2)" transform="rotate(0 5 9)"/><ellipse cx="19" cy="5" rx="8.9" ry="6.9" fill="#9a78b8" stroke="#86559e" stroke-width="0.6" transform="rotate(0 19 5)"/><ellipse cx="19" cy="5" rx="4.8" ry="3.6" fill="#c2acd4" filter="url(#fb2)" transform="rotate(0 19 5)"/><ellipse cx="37" cy="7" rx="9.9" ry="7.9" fill="#9a78b8" stroke="#86559e" stroke-width="0.6" transform="rotate(0 37 7)"/><ellipse cx="37" cy="7" rx="5.4" ry="4.2" fill="#c2acd4" filter="url(#fb2)" transform="rotate(0 37 7)"/><ellipse cx="19" cy="18.5" rx="6.9" ry="10.9" fill="#9a78b8" stroke="#86559e" stroke-width="0.6" transform="rotate(-20 19 18.5)"/><ellipse cx="19" cy="18.5" rx="3.6" ry="6.0" fill="#c2acd4" filter="url(#fb2)" transform="rotate(-20 19 18.5)"/><ellipse cx="35" cy="20" rx="8.9" ry="8.9" fill="#9a78b8" stroke="#86559e" stroke-width="0.6" transform="rotate(0 35 20)"/><ellipse cx="35" cy="20" rx="4.8" ry="4.8" fill="#c2acd4" filter="url(#fb2)" transform="rotate(0 35 20)"/><ellipse cx="6" cy="27" rx="7.9" ry="9.9" fill="#9a78b8" stroke="#86559e" stroke-width="0.6" transform="rotate(0 6 27)"/><ellipse cx="6" cy="27" rx="4.2" ry="5.4" fill="#c2acd4" filter="url(#fb2)" transform="rotate(0 6 27)"/><ellipse cx="19" cy="35" rx="6.9" ry="7.9" fill="#9a78b8" stroke="#86559e" stroke-width="0.6" transform="rotate(0 19 35)"/><ellipse cx="19" cy="35" rx="3.6" ry="4.2" fill="#c2acd4" filter="url(#fb2)" transform="rotate(0 19 35)"/><ellipse cx="35" cy="36" rx="12.9" ry="6.4" fill="#9a78b8" stroke="#86559e" stroke-width="0.6" transform="rotate(45 35 36)"/><ellipse cx="35" cy="36" rx="7.2" ry="3.3" fill="#c2acd4" filter="url(#fb2)" transform="rotate(45 35 36)"/><ellipse cx="5" cy="42" rx="6.9" ry="4.9" fill="#9a78b8" stroke="#86559e" stroke-width="0.6" transform="rotate(0 5 42)"/><ellipse cx="5" cy="42" rx="3.6" ry="2.4" fill="#c2acd4" filter="url(#fb2)" transform="rotate(0 5 42)"/><rect width="45.3" height="45" filter="url(#grD)" opacity="0.3"/><rect width="45.3" height="45" filter="url(#grW)" opacity="0.3"/></svg>
<rect x="336.5" y="582.5" width="45" height="44" fill="none" stroke="#1a1a2a" stroke-width="1"/>
<svg x="43" y="632" width="45" height="45" viewBox="0 0 45.3 45.0" preserveAspectRatio="none"><rect width="45.3" height="45" fill="#a464aa"/><rect width="45.3" height="45" filter="url(#grW)" opacity="0.4"/><rect width="45.3" height="45" filter="url(#spkW)" opacity="0.35"/><rect width="45.3" height="45" filter="url(#grD)" opacity="0.2"/><ellipse cx="9.4" cy="29.9" rx="1.5" ry="1.2" fill="#6a50a8" opacity="0.75" filter="url(#fb2)"/><ellipse cx="27.8" cy="21.7" rx="1.5" ry="1.2" fill="#6a50a8" opacity="0.75" filter="url(#fb2)"/><ellipse cx="11.4" cy="33.9" rx="1.5" ry="1.2" fill="#6a50a8" opacity="0.75" filter="url(#fb2)"/><ellipse cx="34.5" cy="23.0" rx="1.5" ry="1.2" fill="#6a50a8" opacity="0.75" filter="url(#fb2)"/><ellipse cx="22.7" cy="12.2" rx="1.5" ry="1.2" fill="#6a50a8" opacity="0.75" filter="url(#fb2)"/><ellipse cx="3.1" cy="17.5" rx="1.5" ry="1.2" fill="#6a50a8" opacity="0.75" filter="url(#fb2)"/><ellipse cx="25.8" cy="5.7" rx="1.5" ry="1.2" fill="#6a50a8" opacity="0.75" filter="url(#fb2)"/><ellipse cx="34.0" cy="12.1" rx="1.5" ry="1.2" fill="#6a50a8" opacity="0.75" filter="url(#fb2)"/><ellipse cx="12.1" cy="4.7" rx="1.5" ry="1.2" fill="#6a50a8" opacity="0.75" filter="url(#fb2)"/><ellipse cx="41.9" cy="31.8" rx="1.5" ry="1.2" fill="#6a50a8" opacity="0.75" filter="url(#fb2)"/><ellipse cx="37.1" cy="27.0" rx="1.5" ry="1.2" fill="#6a50a8" opacity="0.75" filter="url(#fb2)"/><ellipse cx="4.3" cy="15.8" rx="1.5" ry="1.2" fill="#6a50a8" opacity="0.75" filter="url(#fb2)"/><ellipse cx="22.4" cy="7.5" rx="1.5" ry="1.2" fill="#6a50a8" opacity="0.75" filter="url(#fb2)"/></svg>
<rect x="43.5" y="632.5" width="44" height="44" fill="none" stroke="#1a1a2a" stroke-width="1"/>
<svg x="92" y="632" width="45" height="45" viewBox="0 0 45.3 45.0" preserveAspectRatio="none"><rect width="45.3" height="45" fill="#b282b6"/><rect width="45.3" height="45" filter="url(#grW)" opacity="0.28"/><rect width="45.3" height="45" filter="url(#grD)" opacity="0.2"/><ellipse cx="18" cy="28.5" rx="3.4" ry="3.2" fill="#e6e2ea"/></svg>
<rect x="92.5" y="632.5" width="44" height="44" fill="none" stroke="#1a1a2a" stroke-width="1"/>
<svg x="140" y="632" width="46" height="45" viewBox="0 0 45.3 45.0" preserveAspectRatio="none"><rect width="45.3" height="45" fill="#b670b2"/><rect width="45.3" height="45" filter="url(#grW)" opacity="0.25"/><rect width="45.3" height="45" filter="url(#grD)" opacity="0.2"/></svg>
<rect x="140.5" y="632.5" width="45" height="44" fill="none" stroke="#1a1a2a" stroke-width="1"/>
<svg x="190" y="632" width="45" height="45" viewBox="0 0 45.3 45.0" preserveAspectRatio="none"><rect width="45.3" height="45" fill="#b64a90"/><rect width="45.3" height="45" filter="url(#grW)" opacity="0.15"/><rect width="45.3" height="45" filter="url(#grD)" opacity="0.12"/></svg>
<rect x="190.5" y="632.5" width="44" height="44" fill="none" stroke="#1a1a2a" stroke-width="1"/>
<svg x="239" y="632" width="45" height="45" viewBox="0 0 45.3 45.0" preserveAspectRatio="none"><rect width="45.3" height="45" fill="#7c5eae"/><rect width="45.3" height="45" filter="url(#grW)" opacity="0.3"/><rect width="45.3" height="45" filter="url(#grD)" opacity="0.35"/><ellipse cx="20.2" cy="26" rx="4.2" ry="4.8" fill="#c9a8d8" opacity="1" filter="url(#fb2)"/><ellipse cx="7.7" cy="40.4" rx="2.8" ry="2.8" fill="#c9a8d8" opacity="1" filter="url(#fb2)"/><path d="M5.8 21L28.8 40.4" stroke="#f2f0f4" stroke-width="0.9"/><path d="M21 1.5L44 24.6" stroke="#b8a0d0" stroke-width="0.5"/></svg>
<rect x="239.5" y="632.5" width="44" height="44" fill="none" stroke="#1a1a2a" stroke-width="1"/>
<svg x="288" y="632" width="45" height="45" viewBox="0 0 45.3 45.0" preserveAspectRatio="none"><rect width="45.3" height="45" fill="#8c6cb6"/><rect width="45.3" height="45" filter="url(#grW)" opacity="0.2"/><rect width="45.3" height="45" filter="url(#grD)" opacity="0.25"/><path d="M0 0H45V2Q30 -1 22 4Q12 6 6 2Q2 1 0 5Z" fill="#cfcdd3"/><ellipse cx="14.8" cy="21" rx="10" ry="13" fill="#7a58a8"/><ellipse cx="14.8" cy="21" rx="8.8" ry="11.8" fill="#cfcdd3"/><circle cx="12" cy="18.8" r="2.6" fill="#5a2a7a"/><ellipse cx="41" cy="29" rx="5" ry="7" fill="#cfcdd3"/><circle cx="39.5" cy="27" r="2" fill="#c8b8d8"/><path d="M0 41Q20 38 45 42V45H0Z" fill="#cfcdd3"/><circle cx="10" cy="6" r="1.5" fill="#cfcdd3"/><circle cx="5" cy="9" r="1.2" fill="#cfcdd3"/></svg>
<rect x="288.5" y="632.5" width="44" height="44" fill="none" stroke="#1a1a2a" stroke-width="1"/>
<svg x="336" y="632" width="46" height="45" viewBox="0 0 45.3 45.0" preserveAspectRatio="none"><rect width="45.3" height="45" fill="#a05aa6"/><ellipse cx="4" cy="5" rx="6.9" ry="6.9" fill="#9a78b8" stroke="#86559e" stroke-width="0.6" transform="rotate(0 4 5)"/><ellipse cx="4" cy="5" rx="3.6" ry="3.6" fill="#c2acd4" filter="url(#fb2)" transform="rotate(0 4 5)"/><ellipse cx="18" cy="4" rx="7.9" ry="5.9" fill="#9a78b8" stroke="#86559e" stroke-width="0.6" transform="rotate(0 18 4)"/><ellipse cx="18" cy="4" rx="4.2" ry="3.0" fill="#c2acd4" filter="url(#fb2)" transform="rotate(0 18 4)"/><ellipse cx="36" cy="5" rx="9.9" ry="6.9" fill="#9a78b8" stroke="#86559e" stroke-width="0.6" transform="rotate(0 36 5)"/><ellipse cx="36" cy="5" rx="5.4" ry="3.6" fill="#c2acd4" filter="url(#fb2)" transform="rotate(0 36 5)"/><ellipse cx="13" cy="17" rx="8.9" ry="7.9" fill="#9a78b8" stroke="#86559e" stroke-width="0.6" transform="rotate(0 13 17)"/><ellipse cx="13" cy="17" rx="4.8" ry="4.2" fill="#c2acd4" filter="url(#fb2)" transform="rotate(0 13 17)"/><ellipse cx="28" cy="14" rx="7.9" ry="6.9" fill="#9a78b8" stroke="#86559e" stroke-width="0.6" transform="rotate(0 28 14)"/><ellipse cx="28" cy="14" rx="4.2" ry="3.6" fill="#c2acd4" filter="url(#fb2)" transform="rotate(0 28 14)"/><ellipse cx="41" cy="20" rx="5.9" ry="10.9" fill="#9a78b8" stroke="#86559e" stroke-width="0.6" transform="rotate(0 41 20)"/><ellipse cx="41" cy="20" rx="3.0" ry="6.0" fill="#c2acd4" filter="url(#fb2)" transform="rotate(0 41 20)"/><ellipse cx="10" cy="36" rx="9.9" ry="9.9" fill="#9a78b8" stroke="#86559e" stroke-width="0.6" transform="rotate(0 10 36)"/><ellipse cx="10" cy="36" rx="5.4" ry="5.4" fill="#c2acd4" filter="url(#fb2)" transform="rotate(0 10 36)"/><ellipse cx="22" cy="29" rx="6.9" ry="8.9" fill="#9a78b8" stroke="#86559e" stroke-width="0.6" transform="rotate(0 22 29)"/><ellipse cx="22" cy="29" rx="3.6" ry="4.8" fill="#c2acd4" filter="url(#fb2)" transform="rotate(0 22 29)"/><ellipse cx="34" cy="33" rx="8.9" ry="12.9" fill="#9a78b8" stroke="#86559e" stroke-width="0.6" transform="rotate(-15 34 33)"/><ellipse cx="34" cy="33" rx="4.8" ry="7.2" fill="#c2acd4" filter="url(#fb2)" transform="rotate(-15 34 33)"/><ellipse cx="43" cy="43" rx="4.9" ry="4.9" fill="#9a78b8" stroke="#86559e" stroke-width="0.6" transform="rotate(0 43 43)"/><ellipse cx="43" cy="43" rx="2.4" ry="2.4" fill="#c2acd4" filter="url(#fb2)" transform="rotate(0 43 43)"/><rect width="45.3" height="45" filter="url(#grD)" opacity="0.3"/><rect width="45.3" height="45" filter="url(#grW)" opacity="0.3"/></svg>
<rect x="336.5" y="632.5" width="45" height="44" fill="none" stroke="#1a1a2a" stroke-width="1"/>
<line x1="360.2" y1="679.5" x2="381.0" y2="679.5" stroke="#222" stroke-width="1.2" />
<text x="370.4" y="687.0" font-size="4.8" fill="#222" text-anchor="middle" textLength="15" lengthAdjust="spacingAndGlyphs" >150 μm</text>
<rect x="0.5" y="0.5" width="519" height="695" fill="none" stroke="#000" stroke-width="1"/>
</svg></body></html>
